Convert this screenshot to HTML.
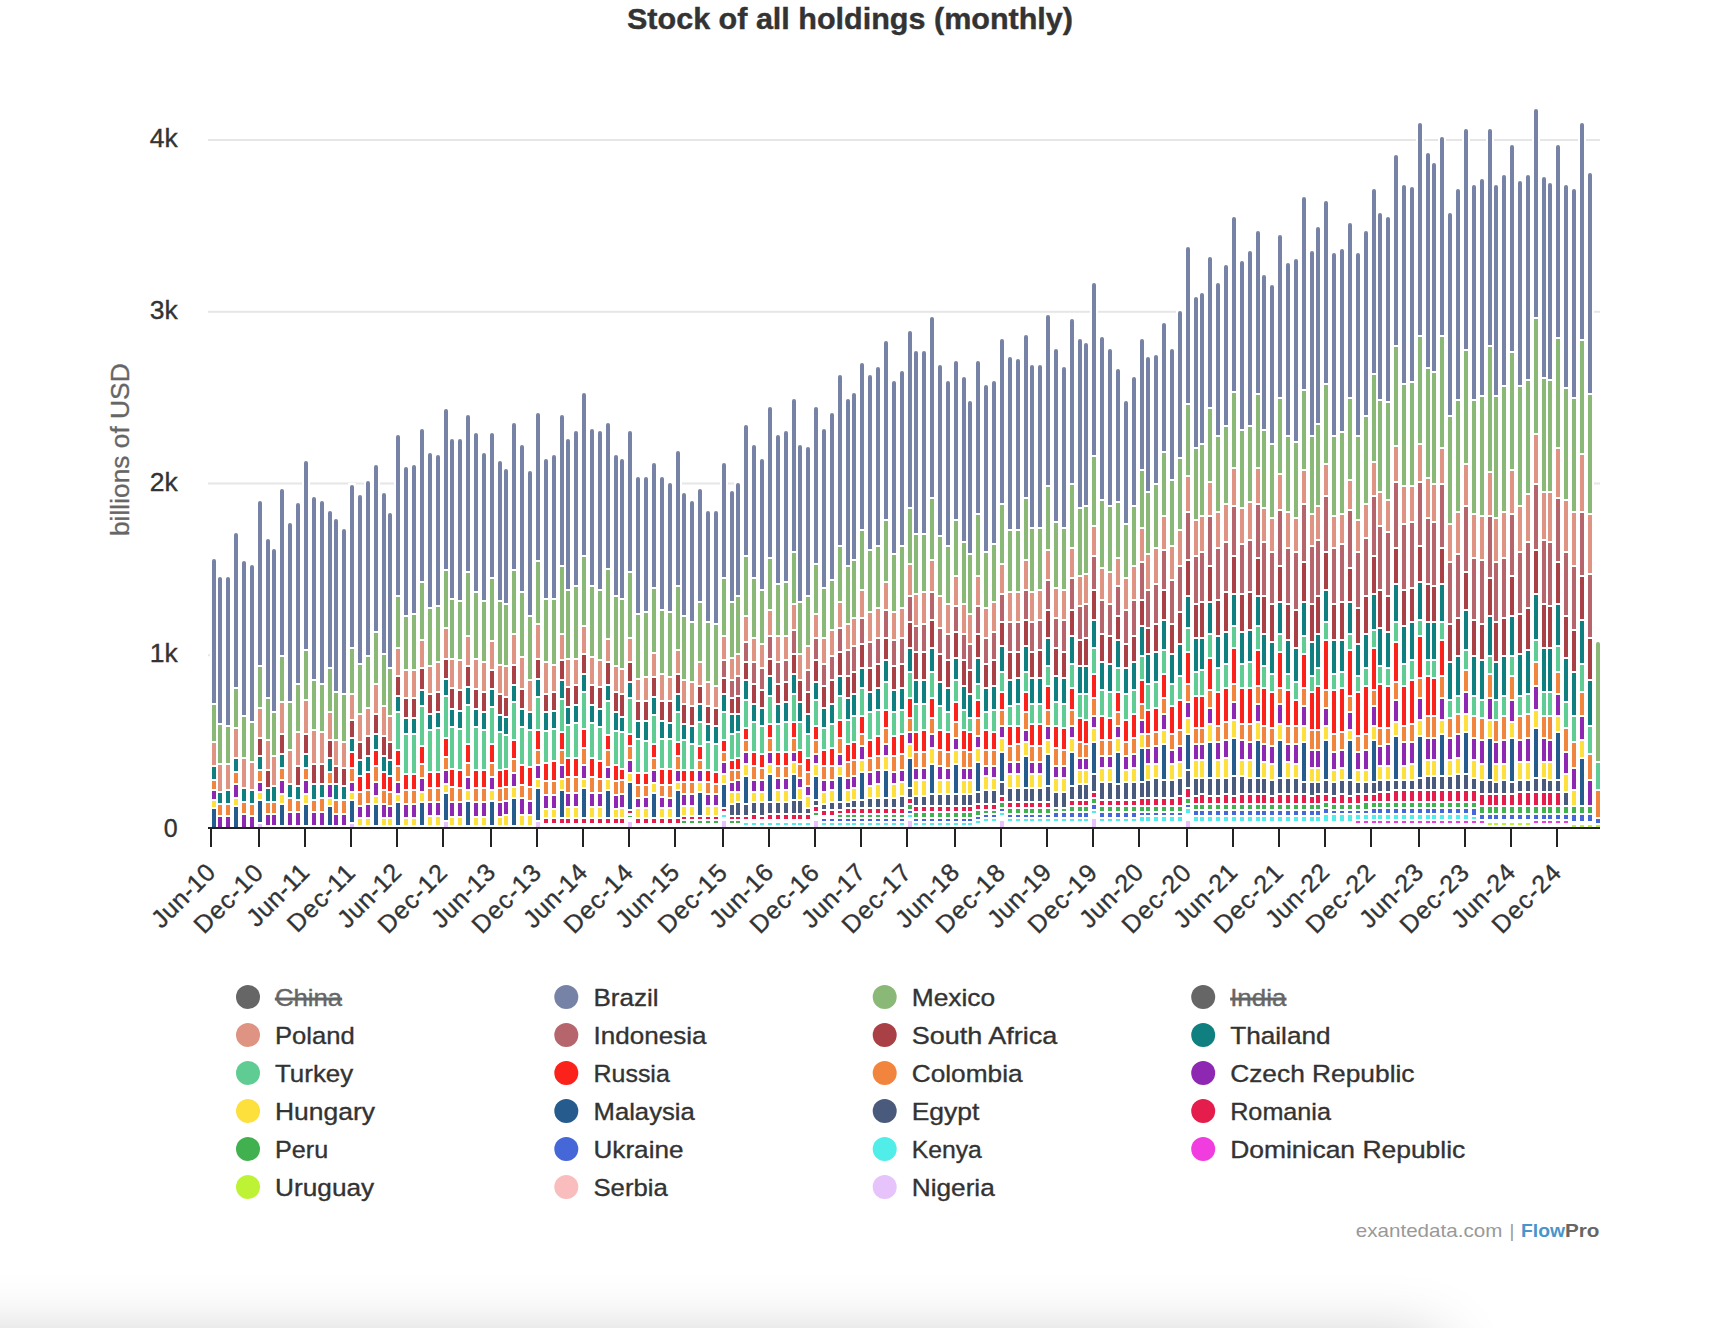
<!DOCTYPE html>
<html><head><meta charset="utf-8"><title>Stock of all holdings (monthly)</title>
<style>
html,body{margin:0;padding:0;background:#fff;}
body{width:1736px;height:1328px;position:relative;overflow:hidden;font-family:"Liberation Sans",Arial,sans-serif;}
.shadow{position:absolute;left:-300px;top:1340px;width:1740px;height:300px;background:#ddd;box-shadow:0 0 60px 0 rgba(0,0,0,.23);}
</style></head><body>
<div class="shadow"></div>
<svg width="1736" height="1328" viewBox="0 0 1736 1328" style="position:absolute;left:0;top:0;font-family:'Liberation Sans',Arial,sans-serif">
<rect x="208" y="654.2" width="1392" height="2" fill="#e6e6e6"/>
<rect x="208" y="482.5" width="1392" height="2" fill="#e6e6e6"/>
<rect x="208" y="310.8" width="1392" height="2" fill="#e6e6e6"/>
<rect x="208" y="139.0" width="1392" height="2" fill="#e6e6e6"/>
<rect x="210" y="557" width="8" height="270" fill="#fff"/>
<rect x="212" y="809" width="4" height="18" fill="#265c8d"/>
<rect x="212" y="801" width="4" height="6" fill="#fde03c"/>
<rect x="212" y="791" width="4" height="8" fill="#8e27b1"/>
<rect x="212" y="781" width="4" height="8" fill="#f2853d"/>
<rect x="212" y="767" width="4" height="12" fill="#0f7f80"/>
<rect x="212" y="743" width="4" height="22" fill="#de9383"/>
<rect x="212" y="705" width="4" height="36" fill="#8ab977"/>
<rect x="212" y="559" width="4" height="144" rx="2" fill="#7683a6"/><rect x="212" y="562" width="4" height="141" fill="#7683a6"/>
<rect x="216" y="575" width="8" height="252" fill="#fff"/>
<rect x="218" y="817" width="4" height="10" fill="#8e27b1"/>
<rect x="218" y="805" width="4" height="10" fill="#f2853d"/>
<rect x="218" y="793" width="4" height="10" fill="#0f7f80"/>
<rect x="218" y="765" width="4" height="26" fill="#de9383"/>
<rect x="218" y="725" width="4" height="38" fill="#8ab977"/>
<rect x="218" y="577" width="4" height="146" rx="2" fill="#7683a6"/><rect x="218" y="580" width="4" height="143" fill="#7683a6"/>
<rect x="224" y="575" width="8" height="252" fill="#fff"/>
<rect x="226" y="817" width="4" height="10" fill="#8e27b1"/>
<rect x="226" y="805" width="4" height="10" fill="#f2853d"/>
<rect x="226" y="791" width="4" height="12" fill="#0f7f80"/>
<rect x="226" y="765" width="4" height="24" fill="#de9383"/>
<rect x="226" y="727" width="4" height="36" fill="#8ab977"/>
<rect x="226" y="577" width="4" height="148" rx="2" fill="#7683a6"/><rect x="226" y="580" width="4" height="145" fill="#7683a6"/>
<rect x="232" y="531" width="8" height="296" fill="#fff"/>
<rect x="234" y="807" width="4" height="20" fill="#265c8d"/>
<rect x="234" y="799" width="4" height="6" fill="#fde03c"/>
<rect x="234" y="785" width="4" height="12" fill="#8e27b1"/>
<rect x="234" y="773" width="4" height="10" fill="#f2853d"/>
<rect x="234" y="759" width="4" height="12" fill="#0f7f80"/>
<rect x="234" y="729" width="4" height="28" fill="#de9383"/>
<rect x="234" y="689" width="4" height="38" fill="#8ab977"/>
<rect x="234" y="533" width="4" height="154" rx="2" fill="#7683a6"/><rect x="234" y="536" width="4" height="151" fill="#7683a6"/>
<rect x="240" y="559" width="8" height="268" fill="#fff"/>
<rect x="242" y="815" width="4" height="12" fill="#8e27b1"/>
<rect x="242" y="803" width="4" height="10" fill="#f2853d"/>
<rect x="242" y="789" width="4" height="12" fill="#0f7f80"/>
<rect x="242" y="759" width="4" height="28" fill="#de9383"/>
<rect x="242" y="717" width="4" height="40" fill="#8ab977"/>
<rect x="242" y="561" width="4" height="154" rx="2" fill="#7683a6"/><rect x="242" y="564" width="4" height="151" fill="#7683a6"/>
<rect x="248" y="563" width="8" height="264" fill="#fff"/>
<rect x="250" y="817" width="4" height="10" fill="#8e27b1"/>
<rect x="250" y="805" width="4" height="10" fill="#f2853d"/>
<rect x="250" y="791" width="4" height="12" fill="#0f7f80"/>
<rect x="250" y="763" width="4" height="26" fill="#de9383"/>
<rect x="250" y="723" width="4" height="38" fill="#8ab977"/>
<rect x="250" y="565" width="4" height="156" rx="2" fill="#7683a6"/><rect x="250" y="568" width="4" height="153" fill="#7683a6"/>
<rect x="256" y="499" width="8" height="328" fill="#fff"/>
<rect x="258" y="824" width="4" height="3" fill="#e6c3fb"/>
<rect x="258" y="801" width="4" height="21" fill="#265c8d"/>
<rect x="258" y="793" width="4" height="6" fill="#fde03c"/>
<rect x="258" y="783" width="4" height="8" fill="#8e27b1"/>
<rect x="258" y="771" width="4" height="10" fill="#f2853d"/>
<rect x="258" y="757" width="4" height="12" fill="#0f7f80"/>
<rect x="258" y="739" width="4" height="16" fill="#a94046"/>
<rect x="258" y="709" width="4" height="28" fill="#de9383"/>
<rect x="258" y="667" width="4" height="40" fill="#8ab977"/>
<rect x="258" y="501" width="4" height="164" rx="2" fill="#7683a6"/><rect x="258" y="504" width="4" height="161" fill="#7683a6"/>
<rect x="264" y="537" width="8" height="290" fill="#fff"/>
<rect x="266" y="827" width="4" height="1" fill="#ffffff"/>
<rect x="266" y="815" width="4" height="10" fill="#8e27b1"/>
<rect x="266" y="803" width="4" height="10" fill="#f2853d"/>
<rect x="266" y="789" width="4" height="12" fill="#0f7f80"/>
<rect x="266" y="771" width="4" height="16" fill="#a94046"/>
<rect x="266" y="741" width="4" height="28" fill="#de9383"/>
<rect x="266" y="699" width="4" height="40" fill="#8ab977"/>
<rect x="266" y="539" width="4" height="158" rx="2" fill="#7683a6"/><rect x="266" y="542" width="4" height="155" fill="#7683a6"/>
<rect x="270" y="547" width="8" height="280" fill="#fff"/>
<rect x="272" y="827" width="4" height="1" fill="#ffffff"/>
<rect x="272" y="815" width="4" height="10" fill="#8e27b1"/>
<rect x="272" y="803" width="4" height="10" fill="#f2853d"/>
<rect x="272" y="787" width="4" height="14" fill="#0f7f80"/>
<rect x="272" y="757" width="4" height="28" fill="#de9383"/>
<rect x="272" y="713" width="4" height="42" fill="#8ab977"/>
<rect x="272" y="549" width="4" height="162" rx="2" fill="#7683a6"/><rect x="272" y="552" width="4" height="159" fill="#7683a6"/>
<rect x="278" y="487" width="8" height="340" fill="#fff"/>
<rect x="280" y="827" width="4" height="1" fill="#ffffff"/>
<rect x="280" y="805" width="4" height="20" fill="#265c8d"/>
<rect x="280" y="795" width="4" height="8" fill="#fde03c"/>
<rect x="280" y="781" width="4" height="12" fill="#8e27b1"/>
<rect x="280" y="769" width="4" height="10" fill="#f2853d"/>
<rect x="280" y="755" width="4" height="12" fill="#0f7f80"/>
<rect x="280" y="735" width="4" height="18" fill="#a94046"/>
<rect x="280" y="703" width="4" height="30" fill="#de9383"/>
<rect x="280" y="657" width="4" height="44" fill="#8ab977"/>
<rect x="280" y="489" width="4" height="166" rx="2" fill="#7683a6"/><rect x="280" y="492" width="4" height="163" fill="#7683a6"/>
<rect x="286" y="521" width="8" height="306" fill="#fff"/>
<rect x="288" y="827" width="4" height="1" fill="#ffffff"/>
<rect x="288" y="813" width="4" height="12" fill="#8e27b1"/>
<rect x="288" y="799" width="4" height="12" fill="#f2853d"/>
<rect x="288" y="785" width="4" height="12" fill="#0f7f80"/>
<rect x="288" y="751" width="4" height="32" fill="#de9383"/>
<rect x="288" y="703" width="4" height="46" fill="#8ab977"/>
<rect x="288" y="523" width="4" height="178" rx="2" fill="#7683a6"/><rect x="288" y="526" width="4" height="175" fill="#7683a6"/>
<rect x="294" y="501" width="8" height="326" fill="#fff"/>
<rect x="296" y="827" width="4" height="1" fill="#ffffff"/>
<rect x="296" y="813" width="4" height="12" fill="#8e27b1"/>
<rect x="296" y="801" width="4" height="10" fill="#f2853d"/>
<rect x="296" y="787" width="4" height="12" fill="#0f7f80"/>
<rect x="296" y="767" width="4" height="18" fill="#a94046"/>
<rect x="296" y="733" width="4" height="32" fill="#de9383"/>
<rect x="296" y="685" width="4" height="46" fill="#8ab977"/>
<rect x="296" y="503" width="4" height="180" rx="2" fill="#7683a6"/><rect x="296" y="506" width="4" height="177" fill="#7683a6"/>
<rect x="302" y="459" width="8" height="368" fill="#fff"/>
<rect x="304" y="827" width="4" height="1" fill="#ffffff"/>
<rect x="304" y="805" width="4" height="20" fill="#265c8d"/>
<rect x="304" y="795" width="4" height="8" fill="#fde03c"/>
<rect x="304" y="781" width="4" height="12" fill="#8e27b1"/>
<rect x="304" y="769" width="4" height="10" fill="#f2853d"/>
<rect x="304" y="755" width="4" height="12" fill="#0f7f80"/>
<rect x="304" y="735" width="4" height="18" fill="#a94046"/>
<rect x="304" y="701" width="4" height="32" fill="#de9383"/>
<rect x="304" y="651" width="4" height="48" fill="#8ab977"/>
<rect x="304" y="461" width="4" height="188" rx="2" fill="#7683a6"/><rect x="304" y="464" width="4" height="185" fill="#7683a6"/>
<rect x="310" y="495" width="8" height="332" fill="#fff"/>
<rect x="312" y="827" width="4" height="1" fill="#ffffff"/>
<rect x="312" y="813" width="4" height="12" fill="#8e27b1"/>
<rect x="312" y="801" width="4" height="10" fill="#f2853d"/>
<rect x="312" y="785" width="4" height="14" fill="#0f7f80"/>
<rect x="312" y="765" width="4" height="18" fill="#a94046"/>
<rect x="312" y="731" width="4" height="32" fill="#de9383"/>
<rect x="312" y="681" width="4" height="48" fill="#8ab977"/>
<rect x="312" y="497" width="4" height="182" rx="2" fill="#7683a6"/><rect x="312" y="500" width="4" height="179" fill="#7683a6"/>
<rect x="318" y="499" width="8" height="328" fill="#fff"/>
<rect x="320" y="827" width="4" height="1" fill="#ffffff"/>
<rect x="320" y="813" width="4" height="12" fill="#8e27b1"/>
<rect x="320" y="799" width="4" height="12" fill="#f2853d"/>
<rect x="320" y="785" width="4" height="12" fill="#0f7f80"/>
<rect x="320" y="765" width="4" height="18" fill="#a94046"/>
<rect x="320" y="733" width="4" height="30" fill="#de9383"/>
<rect x="320" y="685" width="4" height="46" fill="#8ab977"/>
<rect x="320" y="501" width="4" height="182" rx="2" fill="#7683a6"/><rect x="320" y="504" width="4" height="179" fill="#7683a6"/>
<rect x="326" y="509" width="8" height="318" fill="#fff"/>
<rect x="328" y="827" width="4" height="1" fill="#ffffff"/>
<rect x="328" y="807" width="4" height="18" fill="#265c8d"/>
<rect x="328" y="799" width="4" height="6" fill="#fde03c"/>
<rect x="328" y="785" width="4" height="12" fill="#8e27b1"/>
<rect x="328" y="773" width="4" height="10" fill="#f2853d"/>
<rect x="328" y="759" width="4" height="12" fill="#0f7f80"/>
<rect x="328" y="741" width="4" height="16" fill="#a94046"/>
<rect x="328" y="713" width="4" height="26" fill="#de9383"/>
<rect x="328" y="669" width="4" height="42" fill="#8ab977"/>
<rect x="328" y="511" width="4" height="156" rx="2" fill="#7683a6"/><rect x="328" y="514" width="4" height="153" fill="#7683a6"/>
<rect x="332" y="517" width="8" height="310" fill="#fff"/>
<rect x="334" y="827" width="4" height="1" fill="#ffffff"/>
<rect x="334" y="815" width="4" height="10" fill="#8e27b1"/>
<rect x="334" y="801" width="4" height="12" fill="#f2853d"/>
<rect x="334" y="785" width="4" height="14" fill="#0f7f80"/>
<rect x="334" y="767" width="4" height="16" fill="#a94046"/>
<rect x="334" y="741" width="4" height="24" fill="#de9383"/>
<rect x="334" y="693" width="4" height="46" fill="#8ab977"/>
<rect x="334" y="519" width="4" height="172" rx="2" fill="#7683a6"/><rect x="334" y="522" width="4" height="169" fill="#7683a6"/>
<rect x="340" y="527" width="8" height="300" fill="#fff"/>
<rect x="342" y="827" width="4" height="1" fill="#ffffff"/>
<rect x="342" y="815" width="4" height="10" fill="#8e27b1"/>
<rect x="342" y="801" width="4" height="12" fill="#f2853d"/>
<rect x="342" y="787" width="4" height="12" fill="#0f7f80"/>
<rect x="342" y="769" width="4" height="16" fill="#a94046"/>
<rect x="342" y="743" width="4" height="24" fill="#de9383"/>
<rect x="342" y="695" width="4" height="46" fill="#8ab977"/>
<rect x="342" y="529" width="4" height="164" rx="2" fill="#7683a6"/><rect x="342" y="532" width="4" height="161" fill="#7683a6"/>
<rect x="348" y="483" width="8" height="344" fill="#fff"/>
<rect x="350" y="824" width="4" height="3" fill="#e6c3fb"/>
<rect x="350" y="801" width="4" height="21" fill="#265c8d"/>
<rect x="350" y="793" width="4" height="6" fill="#fde03c"/>
<rect x="350" y="783" width="4" height="8" fill="#8e27b1"/>
<rect x="350" y="769" width="4" height="12" fill="#f2853d"/>
<rect x="350" y="753" width="4" height="14" fill="#fb221b"/>
<rect x="350" y="739" width="4" height="12" fill="#0f7f80"/>
<rect x="350" y="721" width="4" height="16" fill="#a94046"/>
<rect x="350" y="695" width="4" height="24" fill="#de9383"/>
<rect x="350" y="649" width="4" height="44" fill="#8ab977"/>
<rect x="350" y="485" width="4" height="162" rx="2" fill="#7683a6"/><rect x="350" y="488" width="4" height="159" fill="#7683a6"/>
<rect x="356" y="493" width="8" height="334" fill="#fff"/>
<rect x="358" y="827" width="4" height="1" fill="#ffffff"/>
<rect x="358" y="819" width="4" height="6" fill="#fde03c"/>
<rect x="358" y="807" width="4" height="10" fill="#8e27b1"/>
<rect x="358" y="793" width="4" height="12" fill="#f2853d"/>
<rect x="358" y="777" width="4" height="14" fill="#fb221b"/>
<rect x="358" y="761" width="4" height="14" fill="#0f7f80"/>
<rect x="358" y="743" width="4" height="16" fill="#a94046"/>
<rect x="358" y="715" width="4" height="26" fill="#de9383"/>
<rect x="358" y="665" width="4" height="48" fill="#8ab977"/>
<rect x="358" y="495" width="4" height="168" rx="2" fill="#7683a6"/><rect x="358" y="498" width="4" height="165" fill="#7683a6"/>
<rect x="364" y="479" width="8" height="348" fill="#fff"/>
<rect x="366" y="827" width="4" height="1" fill="#ffffff"/>
<rect x="366" y="819" width="4" height="6" fill="#fde03c"/>
<rect x="366" y="805" width="4" height="12" fill="#8e27b1"/>
<rect x="366" y="791" width="4" height="12" fill="#f2853d"/>
<rect x="366" y="773" width="4" height="16" fill="#fb221b"/>
<rect x="366" y="757" width="4" height="14" fill="#0f7f80"/>
<rect x="366" y="737" width="4" height="18" fill="#a94046"/>
<rect x="366" y="709" width="4" height="26" fill="#de9383"/>
<rect x="366" y="657" width="4" height="50" fill="#8ab977"/>
<rect x="366" y="481" width="4" height="174" rx="2" fill="#7683a6"/><rect x="366" y="484" width="4" height="171" fill="#7683a6"/>
<rect x="372" y="463" width="8" height="364" fill="#fff"/>
<rect x="374" y="827" width="4" height="1" fill="#ffffff"/>
<rect x="374" y="805" width="4" height="20" fill="#265c8d"/>
<rect x="374" y="797" width="4" height="6" fill="#fde03c"/>
<rect x="374" y="783" width="4" height="12" fill="#8e27b1"/>
<rect x="374" y="767" width="4" height="14" fill="#f2853d"/>
<rect x="374" y="751" width="4" height="14" fill="#fb221b"/>
<rect x="374" y="735" width="4" height="14" fill="#0f7f80"/>
<rect x="374" y="715" width="4" height="18" fill="#a94046"/>
<rect x="374" y="685" width="4" height="28" fill="#de9383"/>
<rect x="374" y="633" width="4" height="50" fill="#8ab977"/>
<rect x="374" y="465" width="4" height="166" rx="2" fill="#7683a6"/><rect x="374" y="468" width="4" height="163" fill="#7683a6"/>
<rect x="380" y="491" width="8" height="336" fill="#fff"/>
<rect x="382" y="827" width="4" height="1" fill="#ffffff"/>
<rect x="382" y="819" width="4" height="6" fill="#fde03c"/>
<rect x="382" y="805" width="4" height="12" fill="#8e27b1"/>
<rect x="382" y="791" width="4" height="12" fill="#f2853d"/>
<rect x="382" y="773" width="4" height="16" fill="#fb221b"/>
<rect x="382" y="757" width="4" height="14" fill="#0f7f80"/>
<rect x="382" y="737" width="4" height="18" fill="#a94046"/>
<rect x="382" y="707" width="4" height="28" fill="#de9383"/>
<rect x="382" y="655" width="4" height="50" fill="#8ab977"/>
<rect x="382" y="493" width="4" height="160" rx="2" fill="#7683a6"/><rect x="382" y="496" width="4" height="157" fill="#7683a6"/>
<rect x="386" y="511" width="8" height="316" fill="#fff"/>
<rect x="388" y="827" width="4" height="1" fill="#ffffff"/>
<rect x="388" y="819" width="4" height="6" fill="#fde03c"/>
<rect x="388" y="807" width="4" height="10" fill="#8e27b1"/>
<rect x="388" y="793" width="4" height="12" fill="#f2853d"/>
<rect x="388" y="777" width="4" height="14" fill="#fb221b"/>
<rect x="388" y="761" width="4" height="14" fill="#0f7f80"/>
<rect x="388" y="743" width="4" height="16" fill="#a94046"/>
<rect x="388" y="717" width="4" height="24" fill="#de9383"/>
<rect x="388" y="669" width="4" height="46" fill="#8ab977"/>
<rect x="388" y="513" width="4" height="154" rx="2" fill="#7683a6"/><rect x="388" y="516" width="4" height="151" fill="#7683a6"/>
<rect x="394" y="433" width="8" height="394" fill="#fff"/>
<rect x="396" y="827" width="4" height="1" fill="#ffffff"/>
<rect x="396" y="803" width="4" height="22" fill="#265c8d"/>
<rect x="396" y="795" width="4" height="6" fill="#fde03c"/>
<rect x="396" y="783" width="4" height="10" fill="#8e27b1"/>
<rect x="396" y="767" width="4" height="14" fill="#f2853d"/>
<rect x="396" y="751" width="4" height="14" fill="#fb221b"/>
<rect x="396" y="713" width="4" height="36" fill="#5fcd93"/>
<rect x="396" y="697" width="4" height="14" fill="#0f7f80"/>
<rect x="396" y="677" width="4" height="18" fill="#a94046"/>
<rect x="396" y="649" width="4" height="26" fill="#de9383"/>
<rect x="396" y="597" width="4" height="50" fill="#8ab977"/>
<rect x="396" y="435" width="4" height="160" rx="2" fill="#7683a6"/><rect x="396" y="438" width="4" height="157" fill="#7683a6"/>
<rect x="402" y="465" width="8" height="362" fill="#fff"/>
<rect x="404" y="827" width="4" height="1" fill="#ffffff"/>
<rect x="404" y="819" width="4" height="6" fill="#fde03c"/>
<rect x="404" y="805" width="4" height="12" fill="#8e27b1"/>
<rect x="404" y="791" width="4" height="12" fill="#f2853d"/>
<rect x="404" y="775" width="4" height="14" fill="#fb221b"/>
<rect x="404" y="735" width="4" height="38" fill="#5fcd93"/>
<rect x="404" y="719" width="4" height="14" fill="#0f7f80"/>
<rect x="404" y="699" width="4" height="18" fill="#a94046"/>
<rect x="404" y="671" width="4" height="26" fill="#de9383"/>
<rect x="404" y="617" width="4" height="52" fill="#8ab977"/>
<rect x="404" y="467" width="4" height="148" rx="2" fill="#7683a6"/><rect x="404" y="470" width="4" height="145" fill="#7683a6"/>
<rect x="410" y="463" width="8" height="364" fill="#fff"/>
<rect x="412" y="827" width="4" height="1" fill="#ffffff"/>
<rect x="412" y="819" width="4" height="6" fill="#fde03c"/>
<rect x="412" y="805" width="4" height="12" fill="#8e27b1"/>
<rect x="412" y="791" width="4" height="12" fill="#f2853d"/>
<rect x="412" y="775" width="4" height="14" fill="#fb221b"/>
<rect x="412" y="735" width="4" height="38" fill="#5fcd93"/>
<rect x="412" y="719" width="4" height="14" fill="#0f7f80"/>
<rect x="412" y="699" width="4" height="18" fill="#a94046"/>
<rect x="412" y="671" width="4" height="26" fill="#de9383"/>
<rect x="412" y="615" width="4" height="54" fill="#8ab977"/>
<rect x="412" y="465" width="4" height="148" rx="2" fill="#7683a6"/><rect x="412" y="468" width="4" height="145" fill="#7683a6"/>
<rect x="418" y="427" width="8" height="400" fill="#fff"/>
<rect x="420" y="827" width="4" height="1" fill="#ffffff"/>
<rect x="420" y="803" width="4" height="22" fill="#265c8d"/>
<rect x="420" y="793" width="4" height="8" fill="#fde03c"/>
<rect x="420" y="779" width="4" height="12" fill="#8e27b1"/>
<rect x="420" y="765" width="4" height="12" fill="#f2853d"/>
<rect x="420" y="747" width="4" height="16" fill="#fb221b"/>
<rect x="420" y="707" width="4" height="38" fill="#5fcd93"/>
<rect x="420" y="691" width="4" height="14" fill="#0f7f80"/>
<rect x="420" y="669" width="4" height="20" fill="#a94046"/>
<rect x="420" y="641" width="4" height="26" fill="#de9383"/>
<rect x="420" y="583" width="4" height="56" fill="#8ab977"/>
<rect x="420" y="429" width="4" height="152" rx="2" fill="#7683a6"/><rect x="420" y="432" width="4" height="149" fill="#7683a6"/>
<rect x="426" y="451" width="8" height="376" fill="#fff"/>
<rect x="428" y="827" width="4" height="1" fill="#ffffff"/>
<rect x="428" y="817" width="4" height="8" fill="#fde03c"/>
<rect x="428" y="803" width="4" height="12" fill="#8e27b1"/>
<rect x="428" y="789" width="4" height="12" fill="#f2853d"/>
<rect x="428" y="773" width="4" height="14" fill="#fb221b"/>
<rect x="428" y="731" width="4" height="40" fill="#5fcd93"/>
<rect x="428" y="715" width="4" height="14" fill="#0f7f80"/>
<rect x="428" y="695" width="4" height="18" fill="#a94046"/>
<rect x="428" y="667" width="4" height="26" fill="#de9383"/>
<rect x="428" y="609" width="4" height="56" fill="#8ab977"/>
<rect x="428" y="453" width="4" height="154" rx="2" fill="#7683a6"/><rect x="428" y="456" width="4" height="151" fill="#7683a6"/>
<rect x="434" y="453" width="8" height="374" fill="#fff"/>
<rect x="436" y="827" width="4" height="1" fill="#ffffff"/>
<rect x="436" y="817" width="4" height="8" fill="#fde03c"/>
<rect x="436" y="803" width="4" height="12" fill="#8e27b1"/>
<rect x="436" y="789" width="4" height="12" fill="#f2853d"/>
<rect x="436" y="773" width="4" height="14" fill="#fb221b"/>
<rect x="436" y="729" width="4" height="42" fill="#5fcd93"/>
<rect x="436" y="713" width="4" height="14" fill="#0f7f80"/>
<rect x="436" y="693" width="4" height="18" fill="#a94046"/>
<rect x="436" y="663" width="4" height="28" fill="#de9383"/>
<rect x="436" y="607" width="4" height="54" fill="#8ab977"/>
<rect x="436" y="455" width="4" height="150" rx="2" fill="#7683a6"/><rect x="436" y="458" width="4" height="147" fill="#7683a6"/>
<rect x="442" y="407" width="8" height="420" fill="#fff"/>
<rect x="444" y="822" width="4" height="5" fill="#e6c3fb"/>
<rect x="444" y="794" width="4" height="26" fill="#265c8d"/>
<rect x="444" y="785" width="4" height="7" fill="#fde03c"/>
<rect x="444" y="771" width="4" height="12" fill="#8e27b1"/>
<rect x="444" y="758" width="4" height="11" fill="#f2853d"/>
<rect x="444" y="739" width="4" height="17" fill="#fb221b"/>
<rect x="444" y="697" width="4" height="40" fill="#5fcd93"/>
<rect x="444" y="680" width="4" height="15" fill="#0f7f80"/>
<rect x="444" y="660" width="4" height="18" fill="#a94046"/>
<rect x="444" y="629" width="4" height="29" fill="#de9383"/>
<rect x="444" y="571" width="4" height="56" fill="#8ab977"/>
<rect x="444" y="409" width="4" height="160" rx="2" fill="#7683a6"/><rect x="444" y="412" width="4" height="157" fill="#7683a6"/>
<rect x="448" y="437" width="8" height="390" fill="#fff"/>
<rect x="450" y="827" width="4" height="1" fill="#ffffff"/>
<rect x="450" y="818" width="4" height="7" fill="#fde03c"/>
<rect x="450" y="803" width="4" height="13" fill="#8e27b1"/>
<rect x="450" y="788" width="4" height="13" fill="#f2853d"/>
<rect x="450" y="770" width="4" height="16" fill="#fb221b"/>
<rect x="450" y="728" width="4" height="40" fill="#5fcd93"/>
<rect x="450" y="710" width="4" height="16" fill="#0f7f80"/>
<rect x="450" y="689" width="4" height="19" fill="#a94046"/>
<rect x="450" y="660" width="4" height="27" fill="#de9383"/>
<rect x="450" y="600" width="4" height="58" fill="#8ab977"/>
<rect x="450" y="439" width="4" height="159" rx="2" fill="#7683a6"/><rect x="450" y="442" width="4" height="156" fill="#7683a6"/>
<rect x="456" y="437" width="8" height="390" fill="#fff"/>
<rect x="458" y="827" width="4" height="1" fill="#ffffff"/>
<rect x="458" y="818" width="4" height="7" fill="#fde03c"/>
<rect x="458" y="803" width="4" height="13" fill="#8e27b1"/>
<rect x="458" y="789" width="4" height="12" fill="#f2853d"/>
<rect x="458" y="771" width="4" height="16" fill="#fb221b"/>
<rect x="458" y="730" width="4" height="39" fill="#5fcd93"/>
<rect x="458" y="712" width="4" height="16" fill="#0f7f80"/>
<rect x="458" y="691" width="4" height="19" fill="#a94046"/>
<rect x="458" y="661" width="4" height="28" fill="#de9383"/>
<rect x="458" y="602" width="4" height="57" fill="#8ab977"/>
<rect x="458" y="439" width="4" height="161" rx="2" fill="#7683a6"/><rect x="458" y="442" width="4" height="158" fill="#7683a6"/>
<rect x="464" y="413" width="8" height="414" fill="#fff"/>
<rect x="466" y="827" width="4" height="1" fill="#ffffff"/>
<rect x="466" y="802" width="4" height="23" fill="#265c8d"/>
<rect x="466" y="791" width="4" height="9" fill="#fde03c"/>
<rect x="466" y="778" width="4" height="11" fill="#8e27b1"/>
<rect x="466" y="764" width="4" height="12" fill="#f2853d"/>
<rect x="466" y="745" width="4" height="17" fill="#fb221b"/>
<rect x="466" y="706" width="4" height="37" fill="#5fcd93"/>
<rect x="466" y="688" width="4" height="16" fill="#0f7f80"/>
<rect x="466" y="667" width="4" height="19" fill="#a94046"/>
<rect x="466" y="637" width="4" height="28" fill="#de9383"/>
<rect x="466" y="573" width="4" height="62" fill="#8ab977"/>
<rect x="466" y="415" width="4" height="156" rx="2" fill="#7683a6"/><rect x="466" y="418" width="4" height="153" fill="#7683a6"/>
<rect x="472" y="431" width="8" height="396" fill="#fff"/>
<rect x="474" y="827" width="4" height="1" fill="#ffffff"/>
<rect x="474" y="818" width="4" height="7" fill="#fde03c"/>
<rect x="474" y="803" width="4" height="13" fill="#8e27b1"/>
<rect x="474" y="789" width="4" height="12" fill="#f2853d"/>
<rect x="474" y="771" width="4" height="16" fill="#fb221b"/>
<rect x="474" y="728" width="4" height="41" fill="#5fcd93"/>
<rect x="474" y="710" width="4" height="16" fill="#0f7f80"/>
<rect x="474" y="690" width="4" height="18" fill="#a94046"/>
<rect x="474" y="660" width="4" height="28" fill="#de9383"/>
<rect x="474" y="593" width="4" height="65" fill="#8ab977"/>
<rect x="474" y="433" width="4" height="158" rx="2" fill="#7683a6"/><rect x="474" y="436" width="4" height="155" fill="#7683a6"/>
<rect x="480" y="451" width="8" height="376" fill="#fff"/>
<rect x="482" y="827" width="4" height="1" fill="#ffffff"/>
<rect x="482" y="818" width="4" height="7" fill="#fde03c"/>
<rect x="482" y="803" width="4" height="13" fill="#8e27b1"/>
<rect x="482" y="789" width="4" height="12" fill="#f2853d"/>
<rect x="482" y="771" width="4" height="16" fill="#fb221b"/>
<rect x="482" y="731" width="4" height="38" fill="#5fcd93"/>
<rect x="482" y="713" width="4" height="16" fill="#0f7f80"/>
<rect x="482" y="693" width="4" height="18" fill="#a94046"/>
<rect x="482" y="663" width="4" height="28" fill="#de9383"/>
<rect x="482" y="602" width="4" height="59" fill="#8ab977"/>
<rect x="482" y="453" width="4" height="147" rx="2" fill="#7683a6"/><rect x="482" y="456" width="4" height="144" fill="#7683a6"/>
<rect x="488" y="431" width="8" height="396" fill="#fff"/>
<rect x="490" y="827" width="4" height="1" fill="#ffffff"/>
<rect x="490" y="802" width="4" height="23" fill="#265c8d"/>
<rect x="490" y="791" width="4" height="9" fill="#fde03c"/>
<rect x="490" y="778" width="4" height="11" fill="#8e27b1"/>
<rect x="490" y="764" width="4" height="12" fill="#f2853d"/>
<rect x="490" y="745" width="4" height="17" fill="#fb221b"/>
<rect x="490" y="708" width="4" height="35" fill="#5fcd93"/>
<rect x="490" y="690" width="4" height="16" fill="#0f7f80"/>
<rect x="490" y="671" width="4" height="17" fill="#a94046"/>
<rect x="490" y="642" width="4" height="27" fill="#de9383"/>
<rect x="490" y="579" width="4" height="61" fill="#8ab977"/>
<rect x="490" y="433" width="4" height="144" rx="2" fill="#7683a6"/><rect x="490" y="436" width="4" height="141" fill="#7683a6"/>
<rect x="496" y="459" width="8" height="368" fill="#fff"/>
<rect x="498" y="827" width="4" height="1" fill="#ffffff"/>
<rect x="498" y="818" width="4" height="7" fill="#fde03c"/>
<rect x="498" y="803" width="4" height="13" fill="#8e27b1"/>
<rect x="498" y="789" width="4" height="12" fill="#f2853d"/>
<rect x="498" y="771" width="4" height="16" fill="#fb221b"/>
<rect x="498" y="733" width="4" height="36" fill="#5fcd93"/>
<rect x="498" y="716" width="4" height="15" fill="#0f7f80"/>
<rect x="498" y="695" width="4" height="19" fill="#a94046"/>
<rect x="498" y="666" width="4" height="27" fill="#de9383"/>
<rect x="498" y="602" width="4" height="62" fill="#8ab977"/>
<rect x="498" y="461" width="4" height="139" rx="2" fill="#7683a6"/><rect x="498" y="464" width="4" height="136" fill="#7683a6"/>
<rect x="502" y="467" width="8" height="360" fill="#fff"/>
<rect x="504" y="827" width="4" height="1" fill="#ffffff"/>
<rect x="504" y="816" width="4" height="9" fill="#fde03c"/>
<rect x="504" y="802" width="4" height="12" fill="#8e27b1"/>
<rect x="504" y="788" width="4" height="12" fill="#f2853d"/>
<rect x="504" y="770" width="4" height="16" fill="#fb221b"/>
<rect x="504" y="736" width="4" height="32" fill="#5fcd93"/>
<rect x="504" y="718" width="4" height="16" fill="#0f7f80"/>
<rect x="504" y="698" width="4" height="18" fill="#a94046"/>
<rect x="504" y="667" width="4" height="29" fill="#de9383"/>
<rect x="504" y="605" width="4" height="60" fill="#8ab977"/>
<rect x="504" y="469" width="4" height="134" rx="2" fill="#7683a6"/><rect x="504" y="472" width="4" height="131" fill="#7683a6"/>
<rect x="510" y="421" width="8" height="406" fill="#fff"/>
<rect x="512" y="827" width="4" height="1" fill="#ffffff"/>
<rect x="512" y="799" width="4" height="26" fill="#265c8d"/>
<rect x="512" y="788" width="4" height="9" fill="#fde03c"/>
<rect x="512" y="774" width="4" height="12" fill="#8e27b1"/>
<rect x="512" y="760" width="4" height="12" fill="#f2853d"/>
<rect x="512" y="741" width="4" height="17" fill="#fb221b"/>
<rect x="512" y="703" width="4" height="36" fill="#5fcd93"/>
<rect x="512" y="686" width="4" height="15" fill="#0f7f80"/>
<rect x="512" y="666" width="4" height="18" fill="#a94046"/>
<rect x="512" y="635" width="4" height="29" fill="#de9383"/>
<rect x="512" y="571" width="4" height="62" fill="#8ab977"/>
<rect x="512" y="423" width="4" height="146" rx="2" fill="#7683a6"/><rect x="512" y="426" width="4" height="143" fill="#7683a6"/>
<rect x="518" y="443" width="8" height="384" fill="#fff"/>
<rect x="520" y="827" width="4" height="1" fill="#ffffff"/>
<rect x="520" y="816" width="4" height="9" fill="#fde03c"/>
<rect x="520" y="799" width="4" height="15" fill="#8e27b1"/>
<rect x="520" y="786" width="4" height="11" fill="#f2853d"/>
<rect x="520" y="766" width="4" height="18" fill="#fb221b"/>
<rect x="520" y="728" width="4" height="36" fill="#5fcd93"/>
<rect x="520" y="710" width="4" height="16" fill="#0f7f80"/>
<rect x="520" y="690" width="4" height="18" fill="#a94046"/>
<rect x="520" y="658" width="4" height="30" fill="#de9383"/>
<rect x="520" y="593" width="4" height="63" fill="#8ab977"/>
<rect x="520" y="445" width="4" height="146" rx="2" fill="#7683a6"/><rect x="520" y="448" width="4" height="143" fill="#7683a6"/>
<rect x="526" y="469" width="8" height="358" fill="#fff"/>
<rect x="528" y="827" width="4" height="1" fill="#ffffff"/>
<rect x="528" y="816" width="4" height="9" fill="#fde03c"/>
<rect x="528" y="802" width="4" height="12" fill="#8e27b1"/>
<rect x="528" y="788" width="4" height="12" fill="#f2853d"/>
<rect x="528" y="768" width="4" height="18" fill="#fb221b"/>
<rect x="528" y="731" width="4" height="35" fill="#5fcd93"/>
<rect x="528" y="713" width="4" height="16" fill="#0f7f80"/>
<rect x="528" y="681" width="4" height="30" fill="#de9383"/>
<rect x="528" y="617" width="4" height="62" fill="#8ab977"/>
<rect x="528" y="471" width="4" height="144" rx="2" fill="#7683a6"/><rect x="528" y="474" width="4" height="141" fill="#7683a6"/>
<rect x="534" y="411" width="8" height="416" fill="#fff"/>
<rect x="536" y="822" width="4" height="5" fill="#e6c3fb"/>
<rect x="536" y="789" width="4" height="31" fill="#265c8d"/>
<rect x="536" y="780" width="4" height="7" fill="#fde03c"/>
<rect x="536" y="766" width="4" height="12" fill="#8e27b1"/>
<rect x="536" y="751" width="4" height="13" fill="#f2853d"/>
<rect x="536" y="731" width="4" height="18" fill="#fb221b"/>
<rect x="536" y="698" width="4" height="31" fill="#5fcd93"/>
<rect x="536" y="680" width="4" height="16" fill="#0f7f80"/>
<rect x="536" y="660" width="4" height="18" fill="#a94046"/>
<rect x="536" y="625" width="4" height="33" fill="#de9383"/>
<rect x="536" y="562" width="4" height="61" fill="#8ab977"/>
<rect x="536" y="413" width="4" height="147" rx="2" fill="#7683a6"/><rect x="536" y="416" width="4" height="144" fill="#7683a6"/>
<rect x="542" y="457" width="8" height="370" fill="#fff"/>
<rect x="544" y="825" width="4" height="2" fill="#ffffff"/>
<rect x="544" y="819" width="4" height="4" fill="#e51d4c"/>
<rect x="544" y="810" width="4" height="7" fill="#fde03c"/>
<rect x="544" y="796" width="4" height="12" fill="#8e27b1"/>
<rect x="544" y="782" width="4" height="12" fill="#f2853d"/>
<rect x="544" y="764" width="4" height="16" fill="#fb221b"/>
<rect x="544" y="732" width="4" height="30" fill="#5fcd93"/>
<rect x="544" y="713" width="4" height="17" fill="#0f7f80"/>
<rect x="544" y="695" width="4" height="16" fill="#a94046"/>
<rect x="544" y="663" width="4" height="30" fill="#de9383"/>
<rect x="544" y="600" width="4" height="61" fill="#8ab977"/>
<rect x="544" y="459" width="4" height="139" rx="2" fill="#7683a6"/><rect x="544" y="462" width="4" height="136" fill="#7683a6"/>
<rect x="550" y="453" width="8" height="374" fill="#fff"/>
<rect x="552" y="825" width="4" height="2" fill="#ffffff"/>
<rect x="552" y="819" width="4" height="4" fill="#e51d4c"/>
<rect x="552" y="810" width="4" height="7" fill="#fde03c"/>
<rect x="552" y="796" width="4" height="12" fill="#8e27b1"/>
<rect x="552" y="782" width="4" height="12" fill="#f2853d"/>
<rect x="552" y="762" width="4" height="18" fill="#fb221b"/>
<rect x="552" y="730" width="4" height="30" fill="#5fcd93"/>
<rect x="552" y="712" width="4" height="16" fill="#0f7f80"/>
<rect x="552" y="693" width="4" height="17" fill="#a94046"/>
<rect x="552" y="666" width="4" height="25" fill="#de9383"/>
<rect x="552" y="600" width="4" height="64" fill="#8ab977"/>
<rect x="552" y="455" width="4" height="143" rx="2" fill="#7683a6"/><rect x="552" y="458" width="4" height="140" fill="#7683a6"/>
<rect x="558" y="413" width="8" height="414" fill="#fff"/>
<rect x="560" y="825" width="4" height="2" fill="#ffffff"/>
<rect x="560" y="819" width="4" height="4" fill="#e51d4c"/>
<rect x="560" y="791" width="4" height="26" fill="#265c8d"/>
<rect x="560" y="780" width="4" height="9" fill="#fde03c"/>
<rect x="560" y="766" width="4" height="12" fill="#8e27b1"/>
<rect x="560" y="751" width="4" height="13" fill="#f2853d"/>
<rect x="560" y="733" width="4" height="16" fill="#fb221b"/>
<rect x="560" y="700" width="4" height="31" fill="#5fcd93"/>
<rect x="560" y="681" width="4" height="17" fill="#0f7f80"/>
<rect x="560" y="661" width="4" height="18" fill="#a94046"/>
<rect x="560" y="635" width="4" height="24" fill="#de9383"/>
<rect x="560" y="567" width="4" height="66" fill="#8ab977"/>
<rect x="560" y="415" width="4" height="150" rx="2" fill="#7683a6"/><rect x="560" y="418" width="4" height="147" fill="#7683a6"/>
<rect x="564" y="437" width="8" height="390" fill="#fff"/>
<rect x="566" y="825" width="4" height="2" fill="#ffffff"/>
<rect x="566" y="819" width="4" height="4" fill="#e51d4c"/>
<rect x="566" y="808" width="4" height="9" fill="#fde03c"/>
<rect x="566" y="794" width="4" height="12" fill="#8e27b1"/>
<rect x="566" y="778" width="4" height="14" fill="#f2853d"/>
<rect x="566" y="759" width="4" height="17" fill="#fb221b"/>
<rect x="566" y="726" width="4" height="31" fill="#5fcd93"/>
<rect x="566" y="708" width="4" height="16" fill="#0f7f80"/>
<rect x="566" y="688" width="4" height="18" fill="#a94046"/>
<rect x="566" y="660" width="4" height="26" fill="#de9383"/>
<rect x="566" y="591" width="4" height="67" fill="#8ab977"/>
<rect x="566" y="439" width="4" height="150" rx="2" fill="#7683a6"/><rect x="566" y="442" width="4" height="147" fill="#7683a6"/>
<rect x="572" y="429" width="8" height="398" fill="#fff"/>
<rect x="574" y="825" width="4" height="2" fill="#ffffff"/>
<rect x="574" y="819" width="4" height="4" fill="#e51d4c"/>
<rect x="574" y="808" width="4" height="9" fill="#fde03c"/>
<rect x="574" y="794" width="4" height="12" fill="#8e27b1"/>
<rect x="574" y="778" width="4" height="14" fill="#f2853d"/>
<rect x="574" y="759" width="4" height="17" fill="#fb221b"/>
<rect x="574" y="724" width="4" height="33" fill="#5fcd93"/>
<rect x="574" y="706" width="4" height="16" fill="#0f7f80"/>
<rect x="574" y="686" width="4" height="18" fill="#a94046"/>
<rect x="574" y="660" width="4" height="24" fill="#de9383"/>
<rect x="574" y="587" width="4" height="71" fill="#8ab977"/>
<rect x="574" y="431" width="4" height="154" rx="2" fill="#7683a6"/><rect x="574" y="434" width="4" height="151" fill="#7683a6"/>
<rect x="580" y="391" width="8" height="436" fill="#fff"/>
<rect x="582" y="825" width="4" height="2" fill="#ffffff"/>
<rect x="582" y="819" width="4" height="4" fill="#e51d4c"/>
<rect x="582" y="789" width="4" height="28" fill="#265c8d"/>
<rect x="582" y="780" width="4" height="7" fill="#fde03c"/>
<rect x="582" y="766" width="4" height="12" fill="#8e27b1"/>
<rect x="582" y="749" width="4" height="15" fill="#f2853d"/>
<rect x="582" y="730" width="4" height="17" fill="#fb221b"/>
<rect x="582" y="693" width="4" height="35" fill="#5fcd93"/>
<rect x="582" y="675" width="4" height="16" fill="#0f7f80"/>
<rect x="582" y="655" width="4" height="18" fill="#a94046"/>
<rect x="582" y="627" width="4" height="26" fill="#de9383"/>
<rect x="582" y="557" width="4" height="68" fill="#8ab977"/>
<rect x="582" y="393" width="4" height="162" rx="2" fill="#7683a6"/><rect x="582" y="396" width="4" height="159" fill="#7683a6"/>
<rect x="588" y="427" width="8" height="400" fill="#fff"/>
<rect x="590" y="825" width="4" height="2" fill="#ffffff"/>
<rect x="590" y="819" width="4" height="4" fill="#e51d4c"/>
<rect x="590" y="808" width="4" height="9" fill="#fde03c"/>
<rect x="590" y="794" width="4" height="12" fill="#8e27b1"/>
<rect x="590" y="778" width="4" height="14" fill="#f2853d"/>
<rect x="590" y="759" width="4" height="17" fill="#fb221b"/>
<rect x="590" y="724" width="4" height="33" fill="#5fcd93"/>
<rect x="590" y="706" width="4" height="16" fill="#0f7f80"/>
<rect x="590" y="686" width="4" height="18" fill="#a94046"/>
<rect x="590" y="658" width="4" height="26" fill="#de9383"/>
<rect x="590" y="587" width="4" height="69" fill="#8ab977"/>
<rect x="590" y="429" width="4" height="156" rx="2" fill="#7683a6"/><rect x="590" y="432" width="4" height="153" fill="#7683a6"/>
<rect x="596" y="429" width="8" height="398" fill="#fff"/>
<rect x="598" y="825" width="4" height="2" fill="#ffffff"/>
<rect x="598" y="819" width="4" height="4" fill="#e51d4c"/>
<rect x="598" y="808" width="4" height="9" fill="#fde03c"/>
<rect x="598" y="794" width="4" height="12" fill="#8e27b1"/>
<rect x="598" y="780" width="4" height="12" fill="#f2853d"/>
<rect x="598" y="762" width="4" height="16" fill="#fb221b"/>
<rect x="598" y="728" width="4" height="32" fill="#5fcd93"/>
<rect x="598" y="710" width="4" height="16" fill="#0f7f80"/>
<rect x="598" y="688" width="4" height="20" fill="#a94046"/>
<rect x="598" y="661" width="4" height="25" fill="#de9383"/>
<rect x="598" y="591" width="4" height="68" fill="#8ab977"/>
<rect x="598" y="431" width="4" height="158" rx="2" fill="#7683a6"/><rect x="598" y="434" width="4" height="155" fill="#7683a6"/>
<rect x="604" y="421" width="8" height="406" fill="#fff"/>
<rect x="606" y="825" width="4" height="2" fill="#ffffff"/>
<rect x="606" y="819" width="4" height="4" fill="#e51d4c"/>
<rect x="606" y="791" width="4" height="26" fill="#265c8d"/>
<rect x="606" y="780" width="4" height="9" fill="#fde03c"/>
<rect x="606" y="768" width="4" height="10" fill="#8e27b1"/>
<rect x="606" y="751" width="4" height="15" fill="#f2853d"/>
<rect x="606" y="736" width="4" height="13" fill="#fb221b"/>
<rect x="606" y="702" width="4" height="32" fill="#5fcd93"/>
<rect x="606" y="686" width="4" height="14" fill="#0f7f80"/>
<rect x="606" y="663" width="4" height="21" fill="#a94046"/>
<rect x="606" y="640" width="4" height="21" fill="#de9383"/>
<rect x="606" y="570" width="4" height="68" fill="#8ab977"/>
<rect x="606" y="423" width="4" height="145" rx="2" fill="#7683a6"/><rect x="606" y="426" width="4" height="142" fill="#7683a6"/>
<rect x="612" y="453" width="8" height="374" fill="#fff"/>
<rect x="614" y="825" width="4" height="2" fill="#ffffff"/>
<rect x="614" y="819" width="4" height="4" fill="#e51d4c"/>
<rect x="614" y="810" width="4" height="7" fill="#fde03c"/>
<rect x="614" y="796" width="4" height="12" fill="#8e27b1"/>
<rect x="614" y="782" width="4" height="12" fill="#f2853d"/>
<rect x="614" y="766" width="4" height="14" fill="#fb221b"/>
<rect x="614" y="732" width="4" height="32" fill="#5fcd93"/>
<rect x="614" y="713" width="4" height="17" fill="#0f7f80"/>
<rect x="614" y="693" width="4" height="18" fill="#a94046"/>
<rect x="614" y="667" width="4" height="24" fill="#de9383"/>
<rect x="614" y="597" width="4" height="68" fill="#8ab977"/>
<rect x="614" y="455" width="4" height="140" rx="2" fill="#7683a6"/><rect x="614" y="458" width="4" height="137" fill="#7683a6"/>
<rect x="618" y="457" width="8" height="370" fill="#fff"/>
<rect x="620" y="825" width="4" height="2" fill="#ffffff"/>
<rect x="620" y="819" width="4" height="4" fill="#e51d4c"/>
<rect x="620" y="809" width="4" height="8" fill="#fde03c"/>
<rect x="620" y="795" width="4" height="12" fill="#8e27b1"/>
<rect x="620" y="781" width="4" height="12" fill="#f2853d"/>
<rect x="620" y="770" width="4" height="9" fill="#fb221b"/>
<rect x="620" y="733" width="4" height="35" fill="#5fcd93"/>
<rect x="620" y="718" width="4" height="13" fill="#0f7f80"/>
<rect x="620" y="695" width="4" height="21" fill="#a94046"/>
<rect x="620" y="670" width="4" height="23" fill="#de9383"/>
<rect x="620" y="600" width="4" height="68" fill="#8ab977"/>
<rect x="620" y="459" width="4" height="139" rx="2" fill="#7683a6"/><rect x="620" y="462" width="4" height="136" fill="#7683a6"/>
<rect x="626" y="429" width="8" height="398" fill="#fff"/>
<rect x="628" y="822" width="4" height="5" fill="#e6c3fb"/>
<rect x="628" y="818" width="4" height="2" fill="#ffffff"/>
<rect x="628" y="816" width="4" height="1" fill="#41b14f"/>
<rect x="628" y="815" width="4" height="1" fill="#ffffff"/>
<rect x="628" y="811" width="4" height="2" fill="#e51d4c"/>
<rect x="628" y="783" width="4" height="26" fill="#265c8d"/>
<rect x="628" y="774" width="4" height="7" fill="#fde03c"/>
<rect x="628" y="761" width="4" height="11" fill="#8e27b1"/>
<rect x="628" y="747" width="4" height="12" fill="#f2853d"/>
<rect x="628" y="735" width="4" height="10" fill="#fb221b"/>
<rect x="628" y="699" width="4" height="34" fill="#5fcd93"/>
<rect x="628" y="683" width="4" height="14" fill="#0f7f80"/>
<rect x="628" y="663" width="4" height="18" fill="#a94046"/>
<rect x="628" y="639" width="4" height="22" fill="#de9383"/>
<rect x="628" y="573" width="4" height="64" fill="#8ab977"/>
<rect x="628" y="431" width="4" height="140" rx="2" fill="#7683a6"/><rect x="628" y="434" width="4" height="137" fill="#7683a6"/>
<rect x="634" y="475" width="8" height="352" fill="#fff"/>
<rect x="636" y="825" width="4" height="2" fill="#ffffff"/>
<rect x="636" y="819" width="4" height="4" fill="#e51d4c"/>
<rect x="636" y="809" width="4" height="8" fill="#fde03c"/>
<rect x="636" y="799" width="4" height="8" fill="#8e27b1"/>
<rect x="636" y="786" width="4" height="11" fill="#f2853d"/>
<rect x="636" y="774" width="4" height="10" fill="#fb221b"/>
<rect x="636" y="740" width="4" height="32" fill="#5fcd93"/>
<rect x="636" y="722" width="4" height="16" fill="#0f7f80"/>
<rect x="636" y="702" width="4" height="18" fill="#a94046"/>
<rect x="636" y="680" width="4" height="20" fill="#de9383"/>
<rect x="636" y="615" width="4" height="63" fill="#8ab977"/>
<rect x="636" y="477" width="4" height="136" rx="2" fill="#7683a6"/><rect x="636" y="480" width="4" height="133" fill="#7683a6"/>
<rect x="642" y="475" width="8" height="352" fill="#fff"/>
<rect x="644" y="825" width="4" height="2" fill="#ffffff"/>
<rect x="644" y="819" width="4" height="4" fill="#e51d4c"/>
<rect x="644" y="809" width="4" height="8" fill="#fde03c"/>
<rect x="644" y="798" width="4" height="9" fill="#8e27b1"/>
<rect x="644" y="786" width="4" height="10" fill="#f2853d"/>
<rect x="644" y="774" width="4" height="10" fill="#fb221b"/>
<rect x="644" y="742" width="4" height="30" fill="#5fcd93"/>
<rect x="644" y="722" width="4" height="18" fill="#0f7f80"/>
<rect x="644" y="702" width="4" height="18" fill="#a94046"/>
<rect x="644" y="678" width="4" height="22" fill="#de9383"/>
<rect x="644" y="613" width="4" height="63" fill="#8ab977"/>
<rect x="644" y="477" width="4" height="134" rx="2" fill="#7683a6"/><rect x="644" y="480" width="4" height="131" fill="#7683a6"/>
<rect x="650" y="461" width="8" height="366" fill="#fff"/>
<rect x="652" y="825" width="4" height="2" fill="#ffffff"/>
<rect x="652" y="819" width="4" height="4" fill="#e51d4c"/>
<rect x="652" y="794" width="4" height="23" fill="#265c8d"/>
<rect x="652" y="784" width="4" height="8" fill="#fde03c"/>
<rect x="652" y="771" width="4" height="11" fill="#8e27b1"/>
<rect x="652" y="759" width="4" height="10" fill="#f2853d"/>
<rect x="652" y="745" width="4" height="12" fill="#fb221b"/>
<rect x="652" y="716" width="4" height="27" fill="#5fcd93"/>
<rect x="652" y="698" width="4" height="16" fill="#0f7f80"/>
<rect x="652" y="678" width="4" height="18" fill="#a94046"/>
<rect x="652" y="654" width="4" height="22" fill="#de9383"/>
<rect x="652" y="589" width="4" height="63" fill="#8ab977"/>
<rect x="652" y="463" width="4" height="124" rx="2" fill="#7683a6"/><rect x="652" y="466" width="4" height="121" fill="#7683a6"/>
<rect x="658" y="475" width="8" height="352" fill="#fff"/>
<rect x="660" y="825" width="4" height="2" fill="#ffffff"/>
<rect x="660" y="819" width="4" height="4" fill="#e51d4c"/>
<rect x="660" y="809" width="4" height="8" fill="#fde03c"/>
<rect x="660" y="798" width="4" height="9" fill="#8e27b1"/>
<rect x="660" y="786" width="4" height="10" fill="#f2853d"/>
<rect x="660" y="770" width="4" height="14" fill="#fb221b"/>
<rect x="660" y="740" width="4" height="28" fill="#5fcd93"/>
<rect x="660" y="722" width="4" height="16" fill="#0f7f80"/>
<rect x="660" y="702" width="4" height="18" fill="#a94046"/>
<rect x="660" y="675" width="4" height="25" fill="#de9383"/>
<rect x="660" y="611" width="4" height="62" fill="#8ab977"/>
<rect x="660" y="477" width="4" height="132" rx="2" fill="#7683a6"/><rect x="660" y="480" width="4" height="129" fill="#7683a6"/>
<rect x="666" y="481" width="8" height="346" fill="#fff"/>
<rect x="668" y="825" width="4" height="2" fill="#ffffff"/>
<rect x="668" y="819" width="4" height="4" fill="#e51d4c"/>
<rect x="668" y="809" width="4" height="8" fill="#fde03c"/>
<rect x="668" y="799" width="4" height="8" fill="#8e27b1"/>
<rect x="668" y="786" width="4" height="11" fill="#f2853d"/>
<rect x="668" y="770" width="4" height="14" fill="#fb221b"/>
<rect x="668" y="740" width="4" height="28" fill="#5fcd93"/>
<rect x="668" y="724" width="4" height="14" fill="#0f7f80"/>
<rect x="668" y="702" width="4" height="20" fill="#a94046"/>
<rect x="668" y="678" width="4" height="22" fill="#de9383"/>
<rect x="668" y="613" width="4" height="63" fill="#8ab977"/>
<rect x="668" y="483" width="4" height="128" rx="2" fill="#7683a6"/><rect x="668" y="486" width="4" height="125" fill="#7683a6"/>
<rect x="674" y="449" width="8" height="378" fill="#fff"/>
<rect x="676" y="825" width="4" height="2" fill="#ffffff"/>
<rect x="676" y="819" width="4" height="4" fill="#e51d4c"/>
<rect x="676" y="791" width="4" height="26" fill="#265c8d"/>
<rect x="676" y="783" width="4" height="6" fill="#fde03c"/>
<rect x="676" y="771" width="4" height="10" fill="#8e27b1"/>
<rect x="676" y="757" width="4" height="12" fill="#f2853d"/>
<rect x="676" y="743" width="4" height="12" fill="#fb221b"/>
<rect x="676" y="713" width="4" height="28" fill="#5fcd93"/>
<rect x="676" y="695" width="4" height="16" fill="#0f7f80"/>
<rect x="676" y="675" width="4" height="18" fill="#a94046"/>
<rect x="676" y="651" width="4" height="22" fill="#de9383"/>
<rect x="676" y="587" width="4" height="62" fill="#8ab977"/>
<rect x="676" y="451" width="4" height="134" rx="2" fill="#7683a6"/><rect x="676" y="454" width="4" height="131" fill="#7683a6"/>
<rect x="680" y="491" width="8" height="336" fill="#fff"/>
<rect x="682" y="825" width="4" height="2" fill="#ffffff"/>
<rect x="682" y="821" width="4" height="2" fill="#41b14f"/>
<rect x="682" y="817" width="4" height="2" fill="#e51d4c"/>
<rect x="682" y="807" width="4" height="8" fill="#fde03c"/>
<rect x="682" y="795" width="4" height="10" fill="#8e27b1"/>
<rect x="682" y="783" width="4" height="10" fill="#f2853d"/>
<rect x="682" y="771" width="4" height="10" fill="#fb221b"/>
<rect x="682" y="741" width="4" height="28" fill="#5fcd93"/>
<rect x="682" y="725" width="4" height="14" fill="#0f7f80"/>
<rect x="682" y="705" width="4" height="18" fill="#a94046"/>
<rect x="682" y="681" width="4" height="22" fill="#de9383"/>
<rect x="682" y="617" width="4" height="62" fill="#8ab977"/>
<rect x="682" y="493" width="4" height="122" rx="2" fill="#7683a6"/><rect x="682" y="496" width="4" height="119" fill="#7683a6"/>
<rect x="688" y="499" width="8" height="328" fill="#fff"/>
<rect x="690" y="825" width="4" height="2" fill="#ffffff"/>
<rect x="690" y="821" width="4" height="2" fill="#41b14f"/>
<rect x="690" y="817" width="4" height="2" fill="#e51d4c"/>
<rect x="690" y="807" width="4" height="8" fill="#fde03c"/>
<rect x="690" y="795" width="4" height="10" fill="#8e27b1"/>
<rect x="690" y="783" width="4" height="10" fill="#f2853d"/>
<rect x="690" y="771" width="4" height="10" fill="#fb221b"/>
<rect x="690" y="745" width="4" height="24" fill="#5fcd93"/>
<rect x="690" y="727" width="4" height="16" fill="#0f7f80"/>
<rect x="690" y="707" width="4" height="18" fill="#a94046"/>
<rect x="690" y="683" width="4" height="22" fill="#de9383"/>
<rect x="690" y="623" width="4" height="58" fill="#8ab977"/>
<rect x="690" y="501" width="4" height="120" rx="2" fill="#7683a6"/><rect x="690" y="504" width="4" height="117" fill="#7683a6"/>
<rect x="696" y="487" width="8" height="340" fill="#fff"/>
<rect x="698" y="825" width="4" height="2" fill="#ffffff"/>
<rect x="698" y="821" width="4" height="2" fill="#41b14f"/>
<rect x="698" y="817" width="4" height="2" fill="#e51d4c"/>
<rect x="698" y="793" width="4" height="22" fill="#265c8d"/>
<rect x="698" y="783" width="4" height="8" fill="#fde03c"/>
<rect x="698" y="771" width="4" height="10" fill="#8e27b1"/>
<rect x="698" y="761" width="4" height="8" fill="#f2853d"/>
<rect x="698" y="747" width="4" height="12" fill="#fb221b"/>
<rect x="698" y="723" width="4" height="22" fill="#5fcd93"/>
<rect x="698" y="705" width="4" height="16" fill="#0f7f80"/>
<rect x="698" y="687" width="4" height="16" fill="#a94046"/>
<rect x="698" y="663" width="4" height="22" fill="#de9383"/>
<rect x="698" y="603" width="4" height="58" fill="#8ab977"/>
<rect x="698" y="489" width="4" height="112" rx="2" fill="#7683a6"/><rect x="698" y="492" width="4" height="109" fill="#7683a6"/>
<rect x="704" y="509" width="8" height="318" fill="#fff"/>
<rect x="706" y="825" width="4" height="2" fill="#ffffff"/>
<rect x="706" y="821" width="4" height="2" fill="#41b14f"/>
<rect x="706" y="817" width="4" height="2" fill="#e51d4c"/>
<rect x="706" y="807" width="4" height="8" fill="#fde03c"/>
<rect x="706" y="795" width="4" height="10" fill="#8e27b1"/>
<rect x="706" y="783" width="4" height="10" fill="#f2853d"/>
<rect x="706" y="771" width="4" height="10" fill="#fb221b"/>
<rect x="706" y="743" width="4" height="26" fill="#5fcd93"/>
<rect x="706" y="725" width="4" height="16" fill="#0f7f80"/>
<rect x="706" y="707" width="4" height="16" fill="#a94046"/>
<rect x="706" y="683" width="4" height="22" fill="#de9383"/>
<rect x="706" y="623" width="4" height="58" fill="#8ab977"/>
<rect x="706" y="511" width="4" height="110" rx="2" fill="#7683a6"/><rect x="706" y="514" width="4" height="107" fill="#7683a6"/>
<rect x="712" y="509" width="8" height="318" fill="#fff"/>
<rect x="714" y="825" width="4" height="2" fill="#ffffff"/>
<rect x="714" y="821" width="4" height="2" fill="#41b14f"/>
<rect x="714" y="817" width="4" height="2" fill="#e51d4c"/>
<rect x="714" y="807" width="4" height="8" fill="#fde03c"/>
<rect x="714" y="795" width="4" height="10" fill="#8e27b1"/>
<rect x="714" y="785" width="4" height="8" fill="#f2853d"/>
<rect x="714" y="773" width="4" height="10" fill="#fb221b"/>
<rect x="714" y="745" width="4" height="26" fill="#5fcd93"/>
<rect x="714" y="727" width="4" height="16" fill="#0f7f80"/>
<rect x="714" y="709" width="4" height="16" fill="#a94046"/>
<rect x="714" y="687" width="4" height="20" fill="#de9383"/>
<rect x="714" y="625" width="4" height="60" fill="#8ab977"/>
<rect x="714" y="511" width="4" height="112" rx="2" fill="#7683a6"/><rect x="714" y="514" width="4" height="109" fill="#7683a6"/>
<rect x="720" y="461" width="8" height="366" fill="#fff"/>
<rect x="722" y="821" width="4" height="6" fill="#e6c3fb"/>
<rect x="722" y="819" width="4" height="1" fill="#ffffff"/>
<rect x="722" y="815" width="4" height="2" fill="#51ede9"/>
<rect x="722" y="813" width="4" height="1" fill="#ffffff"/>
<rect x="722" y="809" width="4" height="2" fill="#e51d4c"/>
<rect x="722" y="785" width="4" height="22" fill="#265c8d"/>
<rect x="722" y="775" width="4" height="8" fill="#fde03c"/>
<rect x="722" y="763" width="4" height="10" fill="#8e27b1"/>
<rect x="722" y="753" width="4" height="8" fill="#f2853d"/>
<rect x="722" y="741" width="4" height="10" fill="#fb221b"/>
<rect x="722" y="713" width="4" height="26" fill="#5fcd93"/>
<rect x="722" y="695" width="4" height="16" fill="#0f7f80"/>
<rect x="722" y="679" width="4" height="14" fill="#a94046"/>
<rect x="722" y="661" width="4" height="16" fill="#b5656b"/>
<rect x="722" y="637" width="4" height="22" fill="#de9383"/>
<rect x="722" y="579" width="4" height="56" fill="#8ab977"/>
<rect x="722" y="463" width="4" height="114" rx="2" fill="#7683a6"/><rect x="722" y="466" width="4" height="111" fill="#7683a6"/>
<rect x="728" y="489" width="8" height="338" fill="#fff"/>
<rect x="730" y="825" width="4" height="2" fill="#ffffff"/>
<rect x="730" y="821" width="4" height="2" fill="#41b14f"/>
<rect x="730" y="817" width="4" height="2" fill="#e51d4c"/>
<rect x="730" y="805" width="4" height="10" fill="#4a5a7c"/>
<rect x="730" y="793" width="4" height="10" fill="#fde03c"/>
<rect x="730" y="783" width="4" height="8" fill="#8e27b1"/>
<rect x="730" y="771" width="4" height="10" fill="#f2853d"/>
<rect x="730" y="761" width="4" height="8" fill="#fb221b"/>
<rect x="730" y="735" width="4" height="24" fill="#5fcd93"/>
<rect x="730" y="715" width="4" height="18" fill="#0f7f80"/>
<rect x="730" y="699" width="4" height="14" fill="#a94046"/>
<rect x="730" y="681" width="4" height="16" fill="#b5656b"/>
<rect x="730" y="659" width="4" height="20" fill="#de9383"/>
<rect x="730" y="603" width="4" height="54" fill="#8ab977"/>
<rect x="730" y="491" width="4" height="110" rx="2" fill="#7683a6"/><rect x="730" y="494" width="4" height="107" fill="#7683a6"/>
<rect x="734" y="481" width="8" height="346" fill="#fff"/>
<rect x="736" y="825" width="4" height="2" fill="#ffffff"/>
<rect x="736" y="821" width="4" height="2" fill="#41b14f"/>
<rect x="736" y="817" width="4" height="2" fill="#e51d4c"/>
<rect x="736" y="803" width="4" height="12" fill="#4a5a7c"/>
<rect x="736" y="793" width="4" height="8" fill="#fde03c"/>
<rect x="736" y="781" width="4" height="10" fill="#8e27b1"/>
<rect x="736" y="771" width="4" height="8" fill="#f2853d"/>
<rect x="736" y="759" width="4" height="10" fill="#fb221b"/>
<rect x="736" y="733" width="4" height="24" fill="#5fcd93"/>
<rect x="736" y="715" width="4" height="16" fill="#0f7f80"/>
<rect x="736" y="697" width="4" height="16" fill="#a94046"/>
<rect x="736" y="677" width="4" height="18" fill="#b5656b"/>
<rect x="736" y="655" width="4" height="20" fill="#de9383"/>
<rect x="736" y="597" width="4" height="56" fill="#8ab977"/>
<rect x="736" y="483" width="4" height="112" rx="2" fill="#7683a6"/><rect x="736" y="486" width="4" height="109" fill="#7683a6"/>
<rect x="742" y="423" width="8" height="404" fill="#fff"/>
<rect x="744" y="827" width="4" height="1" fill="#ffffff"/>
<rect x="744" y="823" width="4" height="2" fill="#51ede9"/>
<rect x="744" y="821" width="4" height="1" fill="#ffffff"/>
<rect x="744" y="817" width="4" height="2" fill="#e51d4c"/>
<rect x="744" y="805" width="4" height="10" fill="#4a5a7c"/>
<rect x="744" y="777" width="4" height="26" fill="#265c8d"/>
<rect x="744" y="765" width="4" height="10" fill="#fde03c"/>
<rect x="744" y="753" width="4" height="10" fill="#8e27b1"/>
<rect x="744" y="741" width="4" height="10" fill="#f2853d"/>
<rect x="744" y="729" width="4" height="10" fill="#fb221b"/>
<rect x="744" y="701" width="4" height="26" fill="#5fcd93"/>
<rect x="744" y="681" width="4" height="18" fill="#0f7f80"/>
<rect x="744" y="663" width="4" height="16" fill="#a94046"/>
<rect x="744" y="643" width="4" height="18" fill="#b5656b"/>
<rect x="744" y="617" width="4" height="24" fill="#de9383"/>
<rect x="744" y="557" width="4" height="58" fill="#8ab977"/>
<rect x="744" y="425" width="4" height="130" rx="2" fill="#7683a6"/><rect x="744" y="428" width="4" height="127" fill="#7683a6"/>
<rect x="750" y="443" width="8" height="384" fill="#fff"/>
<rect x="752" y="827" width="4" height="1" fill="#ffffff"/>
<rect x="752" y="823" width="4" height="2" fill="#51ede9"/>
<rect x="752" y="821" width="4" height="1" fill="#ffffff"/>
<rect x="752" y="815" width="4" height="4" fill="#e51d4c"/>
<rect x="752" y="803" width="4" height="10" fill="#4a5a7c"/>
<rect x="752" y="793" width="4" height="8" fill="#fde03c"/>
<rect x="752" y="781" width="4" height="10" fill="#8e27b1"/>
<rect x="752" y="767" width="4" height="12" fill="#f2853d"/>
<rect x="752" y="753" width="4" height="12" fill="#fb221b"/>
<rect x="752" y="723" width="4" height="28" fill="#5fcd93"/>
<rect x="752" y="705" width="4" height="16" fill="#0f7f80"/>
<rect x="752" y="685" width="4" height="18" fill="#a94046"/>
<rect x="752" y="663" width="4" height="20" fill="#b5656b"/>
<rect x="752" y="639" width="4" height="22" fill="#de9383"/>
<rect x="752" y="579" width="4" height="58" fill="#8ab977"/>
<rect x="752" y="445" width="4" height="132" rx="2" fill="#7683a6"/><rect x="752" y="448" width="4" height="129" fill="#7683a6"/>
<rect x="758" y="457" width="8" height="370" fill="#fff"/>
<rect x="760" y="827" width="4" height="1" fill="#ffffff"/>
<rect x="760" y="823" width="4" height="2" fill="#51ede9"/>
<rect x="760" y="821" width="4" height="1" fill="#ffffff"/>
<rect x="760" y="817" width="4" height="2" fill="#e51d4c"/>
<rect x="760" y="803" width="4" height="12" fill="#4a5a7c"/>
<rect x="760" y="793" width="4" height="8" fill="#fde03c"/>
<rect x="760" y="781" width="4" height="10" fill="#8e27b1"/>
<rect x="760" y="769" width="4" height="10" fill="#f2853d"/>
<rect x="760" y="755" width="4" height="12" fill="#fb221b"/>
<rect x="760" y="727" width="4" height="26" fill="#5fcd93"/>
<rect x="760" y="709" width="4" height="16" fill="#0f7f80"/>
<rect x="760" y="691" width="4" height="16" fill="#a94046"/>
<rect x="760" y="669" width="4" height="20" fill="#b5656b"/>
<rect x="760" y="645" width="4" height="22" fill="#de9383"/>
<rect x="760" y="591" width="4" height="52" fill="#8ab977"/>
<rect x="760" y="459" width="4" height="130" rx="2" fill="#7683a6"/><rect x="760" y="462" width="4" height="127" fill="#7683a6"/>
<rect x="766" y="405" width="8" height="422" fill="#fff"/>
<rect x="768" y="827" width="4" height="1" fill="#ffffff"/>
<rect x="768" y="823" width="4" height="2" fill="#51ede9"/>
<rect x="768" y="821" width="4" height="1" fill="#ffffff"/>
<rect x="768" y="815" width="4" height="4" fill="#e51d4c"/>
<rect x="768" y="803" width="4" height="10" fill="#4a5a7c"/>
<rect x="768" y="775" width="4" height="26" fill="#265c8d"/>
<rect x="768" y="765" width="4" height="8" fill="#fde03c"/>
<rect x="768" y="753" width="4" height="10" fill="#8e27b1"/>
<rect x="768" y="739" width="4" height="12" fill="#f2853d"/>
<rect x="768" y="725" width="4" height="12" fill="#fb221b"/>
<rect x="768" y="697" width="4" height="26" fill="#5fcd93"/>
<rect x="768" y="677" width="4" height="18" fill="#0f7f80"/>
<rect x="768" y="660" width="4" height="15" fill="#a94046"/>
<rect x="768" y="637" width="4" height="21" fill="#b5656b"/>
<rect x="768" y="611" width="4" height="24" fill="#de9383"/>
<rect x="768" y="559" width="4" height="50" fill="#8ab977"/>
<rect x="768" y="407" width="4" height="150" rx="2" fill="#7683a6"/><rect x="768" y="410" width="4" height="147" fill="#7683a6"/>
<rect x="774" y="433" width="8" height="394" fill="#fff"/>
<rect x="776" y="827" width="4" height="1" fill="#ffffff"/>
<rect x="776" y="823" width="4" height="2" fill="#51ede9"/>
<rect x="776" y="821" width="4" height="1" fill="#ffffff"/>
<rect x="776" y="815" width="4" height="4" fill="#e51d4c"/>
<rect x="776" y="803" width="4" height="10" fill="#4a5a7c"/>
<rect x="776" y="791" width="4" height="10" fill="#fde03c"/>
<rect x="776" y="779" width="4" height="10" fill="#8e27b1"/>
<rect x="776" y="767" width="4" height="10" fill="#f2853d"/>
<rect x="776" y="753" width="4" height="12" fill="#fb221b"/>
<rect x="776" y="725" width="4" height="26" fill="#5fcd93"/>
<rect x="776" y="705" width="4" height="18" fill="#0f7f80"/>
<rect x="776" y="685" width="4" height="18" fill="#a94046"/>
<rect x="776" y="663" width="4" height="20" fill="#b5656b"/>
<rect x="776" y="637" width="4" height="24" fill="#de9383"/>
<rect x="776" y="585" width="4" height="50" fill="#8ab977"/>
<rect x="776" y="435" width="4" height="148" rx="2" fill="#7683a6"/><rect x="776" y="438" width="4" height="145" fill="#7683a6"/>
<rect x="782" y="429" width="8" height="398" fill="#fff"/>
<rect x="784" y="827" width="4" height="1" fill="#ffffff"/>
<rect x="784" y="823" width="4" height="2" fill="#51ede9"/>
<rect x="784" y="821" width="4" height="1" fill="#ffffff"/>
<rect x="784" y="815" width="4" height="4" fill="#e51d4c"/>
<rect x="784" y="803" width="4" height="10" fill="#4a5a7c"/>
<rect x="784" y="791" width="4" height="10" fill="#fde03c"/>
<rect x="784" y="779" width="4" height="10" fill="#8e27b1"/>
<rect x="784" y="767" width="4" height="10" fill="#f2853d"/>
<rect x="784" y="753" width="4" height="12" fill="#fb221b"/>
<rect x="784" y="723" width="4" height="28" fill="#5fcd93"/>
<rect x="784" y="703" width="4" height="18" fill="#0f7f80"/>
<rect x="784" y="683" width="4" height="18" fill="#a94046"/>
<rect x="784" y="661" width="4" height="20" fill="#b5656b"/>
<rect x="784" y="637" width="4" height="22" fill="#de9383"/>
<rect x="784" y="583" width="4" height="52" fill="#8ab977"/>
<rect x="784" y="431" width="4" height="150" rx="2" fill="#7683a6"/><rect x="784" y="434" width="4" height="147" fill="#7683a6"/>
<rect x="790" y="397" width="8" height="430" fill="#fff"/>
<rect x="792" y="827" width="4" height="1" fill="#ffffff"/>
<rect x="792" y="823" width="4" height="2" fill="#51ede9"/>
<rect x="792" y="821" width="4" height="1" fill="#ffffff"/>
<rect x="792" y="815" width="4" height="4" fill="#e51d4c"/>
<rect x="792" y="801" width="4" height="12" fill="#4a5a7c"/>
<rect x="792" y="775" width="4" height="24" fill="#265c8d"/>
<rect x="792" y="763" width="4" height="10" fill="#fde03c"/>
<rect x="792" y="753" width="4" height="8" fill="#8e27b1"/>
<rect x="792" y="739" width="4" height="12" fill="#f2853d"/>
<rect x="792" y="723" width="4" height="14" fill="#fb221b"/>
<rect x="792" y="695" width="4" height="26" fill="#5fcd93"/>
<rect x="792" y="675" width="4" height="18" fill="#0f7f80"/>
<rect x="792" y="655" width="4" height="18" fill="#a94046"/>
<rect x="792" y="631" width="4" height="22" fill="#b5656b"/>
<rect x="792" y="605" width="4" height="24" fill="#de9383"/>
<rect x="792" y="553" width="4" height="50" fill="#8ab977"/>
<rect x="792" y="399" width="4" height="152" rx="2" fill="#7683a6"/><rect x="792" y="402" width="4" height="149" fill="#7683a6"/>
<rect x="796" y="443" width="8" height="384" fill="#fff"/>
<rect x="798" y="827" width="4" height="1" fill="#ffffff"/>
<rect x="798" y="823" width="4" height="2" fill="#51ede9"/>
<rect x="798" y="821" width="4" height="1" fill="#ffffff"/>
<rect x="798" y="815" width="4" height="4" fill="#e51d4c"/>
<rect x="798" y="801" width="4" height="12" fill="#4a5a7c"/>
<rect x="798" y="789" width="4" height="10" fill="#fde03c"/>
<rect x="798" y="779" width="4" height="8" fill="#8e27b1"/>
<rect x="798" y="765" width="4" height="12" fill="#f2853d"/>
<rect x="798" y="751" width="4" height="12" fill="#fb221b"/>
<rect x="798" y="723" width="4" height="26" fill="#5fcd93"/>
<rect x="798" y="703" width="4" height="18" fill="#0f7f80"/>
<rect x="798" y="681" width="4" height="20" fill="#a94046"/>
<rect x="798" y="655" width="4" height="24" fill="#de9383"/>
<rect x="798" y="603" width="4" height="50" fill="#8ab977"/>
<rect x="798" y="445" width="4" height="156" rx="2" fill="#7683a6"/><rect x="798" y="448" width="4" height="153" fill="#7683a6"/>
<rect x="804" y="445" width="8" height="382" fill="#fff"/>
<rect x="806" y="827" width="4" height="1" fill="#ffffff"/>
<rect x="806" y="823" width="4" height="2" fill="#51ede9"/>
<rect x="806" y="821" width="4" height="1" fill="#ffffff"/>
<rect x="806" y="815" width="4" height="4" fill="#e51d4c"/>
<rect x="806" y="809" width="4" height="4" fill="#4a5a7c"/>
<rect x="806" y="797" width="4" height="10" fill="#fde03c"/>
<rect x="806" y="787" width="4" height="8" fill="#8e27b1"/>
<rect x="806" y="773" width="4" height="12" fill="#f2853d"/>
<rect x="806" y="759" width="4" height="12" fill="#fb221b"/>
<rect x="806" y="735" width="4" height="22" fill="#5fcd93"/>
<rect x="806" y="715" width="4" height="18" fill="#0f7f80"/>
<rect x="806" y="693" width="4" height="20" fill="#a94046"/>
<rect x="806" y="671" width="4" height="20" fill="#b5656b"/>
<rect x="806" y="647" width="4" height="22" fill="#de9383"/>
<rect x="806" y="597" width="4" height="48" fill="#8ab977"/>
<rect x="806" y="447" width="4" height="148" rx="2" fill="#7683a6"/><rect x="806" y="450" width="4" height="145" fill="#7683a6"/>
<rect x="812" y="405" width="8" height="422" fill="#fff"/>
<rect x="814" y="821" width="4" height="6" fill="#e6c3fb"/>
<rect x="814" y="817" width="4" height="2" fill="#ffffff"/>
<rect x="814" y="813" width="4" height="2" fill="#41b14f"/>
<rect x="814" y="807" width="4" height="4" fill="#e51d4c"/>
<rect x="814" y="801" width="4" height="4" fill="#4a5a7c"/>
<rect x="814" y="777" width="4" height="22" fill="#265c8d"/>
<rect x="814" y="765" width="4" height="10" fill="#fde03c"/>
<rect x="814" y="755" width="4" height="8" fill="#8e27b1"/>
<rect x="814" y="741" width="4" height="12" fill="#f2853d"/>
<rect x="814" y="727" width="4" height="12" fill="#fb221b"/>
<rect x="814" y="701" width="4" height="24" fill="#5fcd93"/>
<rect x="814" y="683" width="4" height="16" fill="#0f7f80"/>
<rect x="814" y="661" width="4" height="20" fill="#a94046"/>
<rect x="814" y="639" width="4" height="20" fill="#b5656b"/>
<rect x="814" y="615" width="4" height="22" fill="#de9383"/>
<rect x="814" y="565" width="4" height="48" fill="#8ab977"/>
<rect x="814" y="407" width="4" height="156" rx="2" fill="#7683a6"/><rect x="814" y="410" width="4" height="153" fill="#7683a6"/>
<rect x="820" y="427" width="8" height="400" fill="#fff"/>
<rect x="822" y="827" width="4" height="1" fill="#ffffff"/>
<rect x="822" y="823" width="4" height="2" fill="#51ede9"/>
<rect x="822" y="819" width="4" height="2" fill="#4667d7"/>
<rect x="822" y="817" width="4" height="1" fill="#ffffff"/>
<rect x="822" y="811" width="4" height="4" fill="#e51d4c"/>
<rect x="822" y="805" width="4" height="4" fill="#4a5a7c"/>
<rect x="822" y="793" width="4" height="10" fill="#fde03c"/>
<rect x="822" y="781" width="4" height="10" fill="#8e27b1"/>
<rect x="822" y="767" width="4" height="12" fill="#f2853d"/>
<rect x="822" y="751" width="4" height="14" fill="#fb221b"/>
<rect x="822" y="729" width="4" height="20" fill="#5fcd93"/>
<rect x="822" y="709" width="4" height="18" fill="#0f7f80"/>
<rect x="822" y="687" width="4" height="20" fill="#a94046"/>
<rect x="822" y="665" width="4" height="20" fill="#b5656b"/>
<rect x="822" y="639" width="4" height="24" fill="#de9383"/>
<rect x="822" y="589" width="4" height="48" fill="#8ab977"/>
<rect x="822" y="429" width="4" height="158" rx="2" fill="#7683a6"/><rect x="822" y="432" width="4" height="155" fill="#7683a6"/>
<rect x="828" y="411" width="8" height="416" fill="#fff"/>
<rect x="830" y="827" width="4" height="1" fill="#ffffff"/>
<rect x="830" y="823" width="4" height="2" fill="#51ede9"/>
<rect x="830" y="819" width="4" height="2" fill="#4667d7"/>
<rect x="830" y="817" width="4" height="1" fill="#ffffff"/>
<rect x="830" y="811" width="4" height="4" fill="#e51d4c"/>
<rect x="830" y="803" width="4" height="6" fill="#4a5a7c"/>
<rect x="830" y="791" width="4" height="10" fill="#fde03c"/>
<rect x="830" y="781" width="4" height="8" fill="#8e27b1"/>
<rect x="830" y="767" width="4" height="12" fill="#f2853d"/>
<rect x="830" y="749" width="4" height="16" fill="#fb221b"/>
<rect x="830" y="725" width="4" height="22" fill="#5fcd93"/>
<rect x="830" y="705" width="4" height="18" fill="#0f7f80"/>
<rect x="830" y="681" width="4" height="22" fill="#a94046"/>
<rect x="830" y="657" width="4" height="22" fill="#b5656b"/>
<rect x="830" y="631" width="4" height="24" fill="#de9383"/>
<rect x="830" y="581" width="4" height="48" fill="#8ab977"/>
<rect x="830" y="413" width="4" height="166" rx="2" fill="#7683a6"/><rect x="830" y="416" width="4" height="163" fill="#7683a6"/>
<rect x="836" y="373" width="8" height="454" fill="#fff"/>
<rect x="838" y="827" width="4" height="1" fill="#ffffff"/>
<rect x="838" y="823" width="4" height="2" fill="#51ede9"/>
<rect x="838" y="819" width="4" height="2" fill="#4667d7"/>
<rect x="838" y="815" width="4" height="2" fill="#41b14f"/>
<rect x="838" y="811" width="4" height="2" fill="#e51d4c"/>
<rect x="838" y="803" width="4" height="6" fill="#4a5a7c"/>
<rect x="838" y="777" width="4" height="24" fill="#265c8d"/>
<rect x="838" y="767" width="4" height="8" fill="#fde03c"/>
<rect x="838" y="755" width="4" height="10" fill="#8e27b1"/>
<rect x="838" y="739" width="4" height="14" fill="#f2853d"/>
<rect x="838" y="721" width="4" height="16" fill="#fb221b"/>
<rect x="838" y="697" width="4" height="22" fill="#5fcd93"/>
<rect x="838" y="677" width="4" height="18" fill="#0f7f80"/>
<rect x="838" y="653" width="4" height="22" fill="#a94046"/>
<rect x="838" y="629" width="4" height="22" fill="#b5656b"/>
<rect x="838" y="603" width="4" height="24" fill="#de9383"/>
<rect x="838" y="547" width="4" height="54" fill="#8ab977"/>
<rect x="838" y="375" width="4" height="170" rx="2" fill="#7683a6"/><rect x="838" y="378" width="4" height="167" fill="#7683a6"/>
<rect x="844" y="397" width="8" height="430" fill="#fff"/>
<rect x="846" y="827" width="4" height="1" fill="#ffffff"/>
<rect x="846" y="823" width="4" height="2" fill="#51ede9"/>
<rect x="846" y="819" width="4" height="2" fill="#4667d7"/>
<rect x="846" y="815" width="4" height="2" fill="#41b14f"/>
<rect x="846" y="809" width="4" height="4" fill="#e51d4c"/>
<rect x="846" y="803" width="4" height="4" fill="#4a5a7c"/>
<rect x="846" y="791" width="4" height="10" fill="#fde03c"/>
<rect x="846" y="779" width="4" height="10" fill="#8e27b1"/>
<rect x="846" y="763" width="4" height="14" fill="#f2853d"/>
<rect x="846" y="745" width="4" height="16" fill="#fb221b"/>
<rect x="846" y="721" width="4" height="22" fill="#5fcd93"/>
<rect x="846" y="699" width="4" height="20" fill="#0f7f80"/>
<rect x="846" y="677" width="4" height="20" fill="#a94046"/>
<rect x="846" y="651" width="4" height="24" fill="#b5656b"/>
<rect x="846" y="625" width="4" height="24" fill="#de9383"/>
<rect x="846" y="567" width="4" height="56" fill="#8ab977"/>
<rect x="846" y="399" width="4" height="166" rx="2" fill="#7683a6"/><rect x="846" y="402" width="4" height="163" fill="#7683a6"/>
<rect x="850" y="391" width="8" height="436" fill="#fff"/>
<rect x="852" y="827" width="4" height="1" fill="#ffffff"/>
<rect x="852" y="823" width="4" height="2" fill="#51ede9"/>
<rect x="852" y="819" width="4" height="2" fill="#4667d7"/>
<rect x="852" y="815" width="4" height="2" fill="#41b14f"/>
<rect x="852" y="809" width="4" height="4" fill="#e51d4c"/>
<rect x="852" y="801" width="4" height="6" fill="#4a5a7c"/>
<rect x="852" y="789" width="4" height="10" fill="#fde03c"/>
<rect x="852" y="777" width="4" height="10" fill="#8e27b1"/>
<rect x="852" y="761" width="4" height="14" fill="#f2853d"/>
<rect x="852" y="743" width="4" height="16" fill="#fb221b"/>
<rect x="852" y="717" width="4" height="24" fill="#5fcd93"/>
<rect x="852" y="695" width="4" height="20" fill="#0f7f80"/>
<rect x="852" y="673" width="4" height="20" fill="#a94046"/>
<rect x="852" y="647" width="4" height="24" fill="#b5656b"/>
<rect x="852" y="619" width="4" height="26" fill="#de9383"/>
<rect x="852" y="561" width="4" height="56" fill="#8ab977"/>
<rect x="852" y="393" width="4" height="166" rx="2" fill="#7683a6"/><rect x="852" y="396" width="4" height="163" fill="#7683a6"/>
<rect x="858" y="361" width="8" height="466" fill="#fff"/>
<rect x="860" y="827" width="4" height="1" fill="#ffffff"/>
<rect x="860" y="823" width="4" height="2" fill="#51ede9"/>
<rect x="860" y="819" width="4" height="2" fill="#4667d7"/>
<rect x="860" y="815" width="4" height="2" fill="#41b14f"/>
<rect x="860" y="809" width="4" height="4" fill="#e51d4c"/>
<rect x="860" y="801" width="4" height="6" fill="#4a5a7c"/>
<rect x="860" y="773" width="4" height="26" fill="#265c8d"/>
<rect x="860" y="761" width="4" height="10" fill="#fde03c"/>
<rect x="860" y="747" width="4" height="12" fill="#8e27b1"/>
<rect x="860" y="735" width="4" height="10" fill="#f2853d"/>
<rect x="860" y="717" width="4" height="16" fill="#fb221b"/>
<rect x="860" y="689" width="4" height="26" fill="#5fcd93"/>
<rect x="860" y="669" width="4" height="18" fill="#0f7f80"/>
<rect x="860" y="645" width="4" height="22" fill="#a94046"/>
<rect x="860" y="619" width="4" height="24" fill="#b5656b"/>
<rect x="860" y="591" width="4" height="26" fill="#de9383"/>
<rect x="860" y="531" width="4" height="58" fill="#8ab977"/>
<rect x="860" y="363" width="4" height="166" rx="2" fill="#7683a6"/><rect x="860" y="366" width="4" height="163" fill="#7683a6"/>
<rect x="866" y="373" width="8" height="454" fill="#fff"/>
<rect x="868" y="827" width="4" height="1" fill="#ffffff"/>
<rect x="868" y="823" width="4" height="2" fill="#51ede9"/>
<rect x="868" y="819" width="4" height="2" fill="#4667d7"/>
<rect x="868" y="815" width="4" height="2" fill="#41b14f"/>
<rect x="868" y="809" width="4" height="4" fill="#e51d4c"/>
<rect x="868" y="799" width="4" height="8" fill="#4a5a7c"/>
<rect x="868" y="787" width="4" height="10" fill="#fde03c"/>
<rect x="868" y="773" width="4" height="12" fill="#8e27b1"/>
<rect x="868" y="759" width="4" height="12" fill="#f2853d"/>
<rect x="868" y="741" width="4" height="16" fill="#fb221b"/>
<rect x="868" y="713" width="4" height="26" fill="#5fcd93"/>
<rect x="868" y="693" width="4" height="18" fill="#0f7f80"/>
<rect x="868" y="669" width="4" height="22" fill="#a94046"/>
<rect x="868" y="643" width="4" height="24" fill="#b5656b"/>
<rect x="868" y="613" width="4" height="28" fill="#de9383"/>
<rect x="868" y="551" width="4" height="60" fill="#8ab977"/>
<rect x="868" y="375" width="4" height="174" rx="2" fill="#7683a6"/><rect x="868" y="378" width="4" height="171" fill="#7683a6"/>
<rect x="874" y="365" width="8" height="462" fill="#fff"/>
<rect x="876" y="827" width="4" height="1" fill="#ffffff"/>
<rect x="876" y="823" width="4" height="2" fill="#51ede9"/>
<rect x="876" y="819" width="4" height="2" fill="#4667d7"/>
<rect x="876" y="815" width="4" height="2" fill="#41b14f"/>
<rect x="876" y="809" width="4" height="4" fill="#e51d4c"/>
<rect x="876" y="799" width="4" height="8" fill="#4a5a7c"/>
<rect x="876" y="785" width="4" height="12" fill="#fde03c"/>
<rect x="876" y="771" width="4" height="12" fill="#8e27b1"/>
<rect x="876" y="757" width="4" height="12" fill="#f2853d"/>
<rect x="876" y="737" width="4" height="18" fill="#fb221b"/>
<rect x="876" y="711" width="4" height="24" fill="#5fcd93"/>
<rect x="876" y="689" width="4" height="20" fill="#0f7f80"/>
<rect x="876" y="665" width="4" height="22" fill="#a94046"/>
<rect x="876" y="639" width="4" height="24" fill="#b5656b"/>
<rect x="876" y="609" width="4" height="28" fill="#de9383"/>
<rect x="876" y="547" width="4" height="60" fill="#8ab977"/>
<rect x="876" y="367" width="4" height="178" rx="2" fill="#7683a6"/><rect x="876" y="370" width="4" height="175" fill="#7683a6"/>
<rect x="882" y="339" width="8" height="488" fill="#fff"/>
<rect x="884" y="827" width="4" height="1" fill="#ffffff"/>
<rect x="884" y="823" width="4" height="2" fill="#51ede9"/>
<rect x="884" y="819" width="4" height="2" fill="#4667d7"/>
<rect x="884" y="815" width="4" height="2" fill="#41b14f"/>
<rect x="884" y="809" width="4" height="4" fill="#e51d4c"/>
<rect x="884" y="799" width="4" height="8" fill="#4a5a7c"/>
<rect x="884" y="771" width="4" height="26" fill="#265c8d"/>
<rect x="884" y="757" width="4" height="12" fill="#fde03c"/>
<rect x="884" y="745" width="4" height="10" fill="#8e27b1"/>
<rect x="884" y="729" width="4" height="14" fill="#f2853d"/>
<rect x="884" y="711" width="4" height="16" fill="#fb221b"/>
<rect x="884" y="683" width="4" height="26" fill="#5fcd93"/>
<rect x="884" y="661" width="4" height="20" fill="#0f7f80"/>
<rect x="884" y="639" width="4" height="20" fill="#a94046"/>
<rect x="884" y="611" width="4" height="26" fill="#b5656b"/>
<rect x="884" y="583" width="4" height="26" fill="#de9383"/>
<rect x="884" y="521" width="4" height="60" fill="#8ab977"/>
<rect x="884" y="341" width="4" height="178" rx="2" fill="#7683a6"/><rect x="884" y="344" width="4" height="175" fill="#7683a6"/>
<rect x="890" y="379" width="8" height="448" fill="#fff"/>
<rect x="892" y="827" width="4" height="1" fill="#ffffff"/>
<rect x="892" y="823" width="4" height="2" fill="#51ede9"/>
<rect x="892" y="819" width="4" height="2" fill="#4667d7"/>
<rect x="892" y="815" width="4" height="2" fill="#41b14f"/>
<rect x="892" y="809" width="4" height="4" fill="#e51d4c"/>
<rect x="892" y="799" width="4" height="8" fill="#4a5a7c"/>
<rect x="892" y="785" width="4" height="12" fill="#fde03c"/>
<rect x="892" y="773" width="4" height="10" fill="#8e27b1"/>
<rect x="892" y="757" width="4" height="14" fill="#f2853d"/>
<rect x="892" y="737" width="4" height="18" fill="#fb221b"/>
<rect x="892" y="713" width="4" height="22" fill="#5fcd93"/>
<rect x="892" y="691" width="4" height="20" fill="#0f7f80"/>
<rect x="892" y="667" width="4" height="22" fill="#a94046"/>
<rect x="892" y="641" width="4" height="24" fill="#b5656b"/>
<rect x="892" y="613" width="4" height="26" fill="#de9383"/>
<rect x="892" y="555" width="4" height="56" fill="#8ab977"/>
<rect x="892" y="381" width="4" height="172" rx="2" fill="#7683a6"/><rect x="892" y="384" width="4" height="169" fill="#7683a6"/>
<rect x="898" y="369" width="8" height="458" fill="#fff"/>
<rect x="900" y="827" width="4" height="1" fill="#ffffff"/>
<rect x="900" y="823" width="4" height="2" fill="#51ede9"/>
<rect x="900" y="819" width="4" height="2" fill="#4667d7"/>
<rect x="900" y="815" width="4" height="2" fill="#41b14f"/>
<rect x="900" y="809" width="4" height="4" fill="#e51d4c"/>
<rect x="900" y="797" width="4" height="10" fill="#4a5a7c"/>
<rect x="900" y="783" width="4" height="12" fill="#fde03c"/>
<rect x="900" y="771" width="4" height="10" fill="#8e27b1"/>
<rect x="900" y="755" width="4" height="14" fill="#f2853d"/>
<rect x="900" y="735" width="4" height="18" fill="#fb221b"/>
<rect x="900" y="711" width="4" height="22" fill="#5fcd93"/>
<rect x="900" y="689" width="4" height="20" fill="#0f7f80"/>
<rect x="900" y="665" width="4" height="22" fill="#a94046"/>
<rect x="900" y="639" width="4" height="24" fill="#b5656b"/>
<rect x="900" y="609" width="4" height="28" fill="#de9383"/>
<rect x="900" y="547" width="4" height="60" fill="#8ab977"/>
<rect x="900" y="371" width="4" height="174" rx="2" fill="#7683a6"/><rect x="900" y="374" width="4" height="171" fill="#7683a6"/>
<rect x="906" y="329" width="8" height="498" fill="#fff"/>
<rect x="908" y="821" width="4" height="6" fill="#e6c3fb"/>
<rect x="908" y="819" width="4" height="1" fill="#ffffff"/>
<rect x="908" y="815" width="4" height="2" fill="#51ede9"/>
<rect x="908" y="811" width="4" height="2" fill="#4667d7"/>
<rect x="908" y="805" width="4" height="4" fill="#41b14f"/>
<rect x="908" y="799" width="4" height="4" fill="#e51d4c"/>
<rect x="908" y="789" width="4" height="8" fill="#4a5a7c"/>
<rect x="908" y="759" width="4" height="28" fill="#265c8d"/>
<rect x="908" y="745" width="4" height="12" fill="#fde03c"/>
<rect x="908" y="733" width="4" height="10" fill="#8e27b1"/>
<rect x="908" y="719" width="4" height="12" fill="#f2853d"/>
<rect x="908" y="699" width="4" height="18" fill="#fb221b"/>
<rect x="908" y="673" width="4" height="24" fill="#5fcd93"/>
<rect x="908" y="649" width="4" height="22" fill="#0f7f80"/>
<rect x="908" y="623" width="4" height="24" fill="#a94046"/>
<rect x="908" y="597" width="4" height="24" fill="#b5656b"/>
<rect x="908" y="565" width="4" height="30" fill="#de9383"/>
<rect x="908" y="509" width="4" height="54" fill="#8ab977"/>
<rect x="908" y="331" width="4" height="176" rx="2" fill="#7683a6"/><rect x="908" y="334" width="4" height="173" fill="#7683a6"/>
<rect x="912" y="349" width="8" height="478" fill="#fff"/>
<rect x="914" y="827" width="4" height="1" fill="#ffffff"/>
<rect x="914" y="823" width="4" height="2" fill="#51ede9"/>
<rect x="914" y="819" width="4" height="2" fill="#4667d7"/>
<rect x="914" y="813" width="4" height="4" fill="#41b14f"/>
<rect x="914" y="807" width="4" height="4" fill="#e51d4c"/>
<rect x="914" y="797" width="4" height="8" fill="#4a5a7c"/>
<rect x="914" y="781" width="4" height="14" fill="#fde03c"/>
<rect x="914" y="769" width="4" height="10" fill="#8e27b1"/>
<rect x="914" y="753" width="4" height="14" fill="#f2853d"/>
<rect x="914" y="733" width="4" height="18" fill="#fb221b"/>
<rect x="914" y="705" width="4" height="26" fill="#5fcd93"/>
<rect x="914" y="681" width="4" height="22" fill="#0f7f80"/>
<rect x="914" y="653" width="4" height="26" fill="#a94046"/>
<rect x="914" y="627" width="4" height="24" fill="#b5656b"/>
<rect x="914" y="595" width="4" height="30" fill="#de9383"/>
<rect x="914" y="535" width="4" height="58" fill="#8ab977"/>
<rect x="914" y="351" width="4" height="182" rx="2" fill="#7683a6"/><rect x="914" y="354" width="4" height="179" fill="#7683a6"/>
<rect x="920" y="349" width="8" height="478" fill="#fff"/>
<rect x="922" y="827" width="4" height="1" fill="#ffffff"/>
<rect x="922" y="823" width="4" height="2" fill="#51ede9"/>
<rect x="922" y="819" width="4" height="2" fill="#4667d7"/>
<rect x="922" y="813" width="4" height="4" fill="#41b14f"/>
<rect x="922" y="807" width="4" height="4" fill="#e51d4c"/>
<rect x="922" y="797" width="4" height="8" fill="#4a5a7c"/>
<rect x="922" y="781" width="4" height="14" fill="#fde03c"/>
<rect x="922" y="769" width="4" height="10" fill="#8e27b1"/>
<rect x="922" y="753" width="4" height="14" fill="#f2853d"/>
<rect x="922" y="731" width="4" height="20" fill="#fb221b"/>
<rect x="922" y="705" width="4" height="24" fill="#5fcd93"/>
<rect x="922" y="681" width="4" height="22" fill="#0f7f80"/>
<rect x="922" y="653" width="4" height="26" fill="#a94046"/>
<rect x="922" y="625" width="4" height="26" fill="#b5656b"/>
<rect x="922" y="593" width="4" height="30" fill="#de9383"/>
<rect x="922" y="535" width="4" height="56" fill="#8ab977"/>
<rect x="922" y="351" width="4" height="182" rx="2" fill="#7683a6"/><rect x="922" y="354" width="4" height="179" fill="#7683a6"/>
<rect x="928" y="315" width="8" height="512" fill="#fff"/>
<rect x="930" y="827" width="4" height="1" fill="#ffffff"/>
<rect x="930" y="823" width="4" height="2" fill="#51ede9"/>
<rect x="930" y="819" width="4" height="2" fill="#4667d7"/>
<rect x="930" y="813" width="4" height="4" fill="#41b14f"/>
<rect x="930" y="807" width="4" height="4" fill="#e51d4c"/>
<rect x="930" y="795" width="4" height="10" fill="#4a5a7c"/>
<rect x="930" y="765" width="4" height="28" fill="#265c8d"/>
<rect x="930" y="749" width="4" height="14" fill="#fde03c"/>
<rect x="930" y="735" width="4" height="12" fill="#8e27b1"/>
<rect x="930" y="719" width="4" height="14" fill="#f2853d"/>
<rect x="930" y="699" width="4" height="18" fill="#fb221b"/>
<rect x="930" y="673" width="4" height="24" fill="#5fcd93"/>
<rect x="930" y="649" width="4" height="22" fill="#0f7f80"/>
<rect x="930" y="621" width="4" height="26" fill="#a94046"/>
<rect x="930" y="593" width="4" height="26" fill="#b5656b"/>
<rect x="930" y="561" width="4" height="30" fill="#de9383"/>
<rect x="930" y="499" width="4" height="60" fill="#8ab977"/>
<rect x="930" y="317" width="4" height="180" rx="2" fill="#7683a6"/><rect x="930" y="320" width="4" height="177" fill="#7683a6"/>
<rect x="936" y="363" width="8" height="464" fill="#fff"/>
<rect x="938" y="827" width="4" height="1" fill="#ffffff"/>
<rect x="938" y="823" width="4" height="2" fill="#51ede9"/>
<rect x="938" y="819" width="4" height="2" fill="#4667d7"/>
<rect x="938" y="813" width="4" height="4" fill="#41b14f"/>
<rect x="938" y="807" width="4" height="4" fill="#e51d4c"/>
<rect x="938" y="795" width="4" height="10" fill="#4a5a7c"/>
<rect x="938" y="781" width="4" height="12" fill="#fde03c"/>
<rect x="938" y="767" width="4" height="12" fill="#8e27b1"/>
<rect x="938" y="751" width="4" height="14" fill="#f2853d"/>
<rect x="938" y="731" width="4" height="18" fill="#fb221b"/>
<rect x="938" y="707" width="4" height="22" fill="#5fcd93"/>
<rect x="938" y="683" width="4" height="22" fill="#0f7f80"/>
<rect x="938" y="655" width="4" height="26" fill="#a94046"/>
<rect x="938" y="629" width="4" height="24" fill="#b5656b"/>
<rect x="938" y="597" width="4" height="30" fill="#de9383"/>
<rect x="938" y="537" width="4" height="58" fill="#8ab977"/>
<rect x="938" y="365" width="4" height="170" rx="2" fill="#7683a6"/><rect x="938" y="368" width="4" height="167" fill="#7683a6"/>
<rect x="944" y="379" width="8" height="448" fill="#fff"/>
<rect x="946" y="827" width="4" height="1" fill="#ffffff"/>
<rect x="946" y="823" width="4" height="2" fill="#51ede9"/>
<rect x="946" y="819" width="4" height="2" fill="#4667d7"/>
<rect x="946" y="813" width="4" height="4" fill="#41b14f"/>
<rect x="946" y="807" width="4" height="4" fill="#e51d4c"/>
<rect x="946" y="795" width="4" height="10" fill="#4a5a7c"/>
<rect x="946" y="781" width="4" height="12" fill="#fde03c"/>
<rect x="946" y="769" width="4" height="10" fill="#8e27b1"/>
<rect x="946" y="753" width="4" height="14" fill="#f2853d"/>
<rect x="946" y="733" width="4" height="18" fill="#fb221b"/>
<rect x="946" y="713" width="4" height="18" fill="#5fcd93"/>
<rect x="946" y="689" width="4" height="22" fill="#0f7f80"/>
<rect x="946" y="661" width="4" height="26" fill="#a94046"/>
<rect x="946" y="635" width="4" height="24" fill="#b5656b"/>
<rect x="946" y="605" width="4" height="28" fill="#de9383"/>
<rect x="946" y="547" width="4" height="56" fill="#8ab977"/>
<rect x="946" y="381" width="4" height="164" rx="2" fill="#7683a6"/><rect x="946" y="384" width="4" height="161" fill="#7683a6"/>
<rect x="952" y="359" width="8" height="468" fill="#fff"/>
<rect x="954" y="827" width="4" height="1" fill="#ffffff"/>
<rect x="954" y="823" width="4" height="2" fill="#51ede9"/>
<rect x="954" y="819" width="4" height="2" fill="#4667d7"/>
<rect x="954" y="813" width="4" height="4" fill="#41b14f"/>
<rect x="954" y="807" width="4" height="4" fill="#e51d4c"/>
<rect x="954" y="795" width="4" height="10" fill="#4a5a7c"/>
<rect x="954" y="765" width="4" height="28" fill="#265c8d"/>
<rect x="954" y="751" width="4" height="12" fill="#fde03c"/>
<rect x="954" y="739" width="4" height="10" fill="#8e27b1"/>
<rect x="954" y="723" width="4" height="14" fill="#f2853d"/>
<rect x="954" y="703" width="4" height="18" fill="#fb221b"/>
<rect x="954" y="681" width="4" height="20" fill="#5fcd93"/>
<rect x="954" y="659" width="4" height="20" fill="#0f7f80"/>
<rect x="954" y="633" width="4" height="24" fill="#a94046"/>
<rect x="954" y="607" width="4" height="24" fill="#b5656b"/>
<rect x="954" y="577" width="4" height="28" fill="#de9383"/>
<rect x="954" y="521" width="4" height="54" fill="#8ab977"/>
<rect x="954" y="361" width="4" height="158" rx="2" fill="#7683a6"/><rect x="954" y="364" width="4" height="155" fill="#7683a6"/>
<rect x="960" y="375" width="8" height="452" fill="#fff"/>
<rect x="962" y="827" width="4" height="1" fill="#ffffff"/>
<rect x="962" y="823" width="4" height="2" fill="#51ede9"/>
<rect x="962" y="819" width="4" height="2" fill="#4667d7"/>
<rect x="962" y="813" width="4" height="4" fill="#41b14f"/>
<rect x="962" y="807" width="4" height="4" fill="#e51d4c"/>
<rect x="962" y="795" width="4" height="10" fill="#4a5a7c"/>
<rect x="962" y="781" width="4" height="12" fill="#fde03c"/>
<rect x="962" y="769" width="4" height="10" fill="#8e27b1"/>
<rect x="962" y="751" width="4" height="16" fill="#f2853d"/>
<rect x="962" y="731" width="4" height="18" fill="#fb221b"/>
<rect x="962" y="711" width="4" height="18" fill="#5fcd93"/>
<rect x="962" y="687" width="4" height="22" fill="#0f7f80"/>
<rect x="962" y="661" width="4" height="24" fill="#a94046"/>
<rect x="962" y="635" width="4" height="24" fill="#b5656b"/>
<rect x="962" y="605" width="4" height="28" fill="#de9383"/>
<rect x="962" y="543" width="4" height="60" fill="#8ab977"/>
<rect x="962" y="377" width="4" height="164" rx="2" fill="#7683a6"/><rect x="962" y="380" width="4" height="161" fill="#7683a6"/>
<rect x="966" y="399" width="8" height="428" fill="#fff"/>
<rect x="968" y="827" width="4" height="1" fill="#ffffff"/>
<rect x="968" y="823" width="4" height="2" fill="#51ede9"/>
<rect x="968" y="819" width="4" height="2" fill="#4667d7"/>
<rect x="968" y="813" width="4" height="4" fill="#41b14f"/>
<rect x="968" y="807" width="4" height="4" fill="#e51d4c"/>
<rect x="968" y="795" width="4" height="10" fill="#4a5a7c"/>
<rect x="968" y="781" width="4" height="12" fill="#fde03c"/>
<rect x="968" y="769" width="4" height="10" fill="#8e27b1"/>
<rect x="968" y="753" width="4" height="14" fill="#f2853d"/>
<rect x="968" y="733" width="4" height="18" fill="#fb221b"/>
<rect x="968" y="719" width="4" height="12" fill="#5fcd93"/>
<rect x="968" y="695" width="4" height="22" fill="#0f7f80"/>
<rect x="968" y="671" width="4" height="22" fill="#a94046"/>
<rect x="968" y="645" width="4" height="24" fill="#b5656b"/>
<rect x="968" y="615" width="4" height="28" fill="#de9383"/>
<rect x="968" y="555" width="4" height="58" fill="#8ab977"/>
<rect x="968" y="401" width="4" height="152" rx="2" fill="#7683a6"/><rect x="968" y="404" width="4" height="149" fill="#7683a6"/>
<rect x="974" y="359" width="8" height="468" fill="#fff"/>
<rect x="976" y="825" width="4" height="2" fill="#ffffff"/>
<rect x="976" y="821" width="4" height="2" fill="#51ede9"/>
<rect x="976" y="817" width="4" height="2" fill="#4667d7"/>
<rect x="976" y="811" width="4" height="4" fill="#41b14f"/>
<rect x="976" y="805" width="4" height="4" fill="#e51d4c"/>
<rect x="976" y="793" width="4" height="10" fill="#4a5a7c"/>
<rect x="976" y="763" width="4" height="28" fill="#265c8d"/>
<rect x="976" y="749" width="4" height="12" fill="#fde03c"/>
<rect x="976" y="737" width="4" height="10" fill="#8e27b1"/>
<rect x="976" y="719" width="4" height="16" fill="#f2853d"/>
<rect x="976" y="701" width="4" height="16" fill="#fb221b"/>
<rect x="976" y="685" width="4" height="14" fill="#5fcd93"/>
<rect x="976" y="659" width="4" height="24" fill="#0f7f80"/>
<rect x="976" y="635" width="4" height="22" fill="#a94046"/>
<rect x="976" y="607" width="4" height="26" fill="#b5656b"/>
<rect x="976" y="577" width="4" height="28" fill="#de9383"/>
<rect x="976" y="515" width="4" height="60" fill="#8ab977"/>
<rect x="976" y="361" width="4" height="152" rx="2" fill="#7683a6"/><rect x="976" y="364" width="4" height="149" fill="#7683a6"/>
<rect x="982" y="383" width="8" height="444" fill="#fff"/>
<rect x="984" y="823" width="4" height="4" fill="#ffffff"/>
<rect x="984" y="819" width="4" height="2" fill="#51ede9"/>
<rect x="984" y="815" width="4" height="2" fill="#4667d7"/>
<rect x="984" y="811" width="4" height="2" fill="#41b14f"/>
<rect x="984" y="805" width="4" height="4" fill="#e51d4c"/>
<rect x="984" y="791" width="4" height="12" fill="#4a5a7c"/>
<rect x="984" y="777" width="4" height="12" fill="#fde03c"/>
<rect x="984" y="767" width="4" height="8" fill="#8e27b1"/>
<rect x="984" y="751" width="4" height="14" fill="#f2853d"/>
<rect x="984" y="731" width="4" height="18" fill="#fb221b"/>
<rect x="984" y="713" width="4" height="16" fill="#5fcd93"/>
<rect x="984" y="689" width="4" height="22" fill="#0f7f80"/>
<rect x="984" y="665" width="4" height="22" fill="#a94046"/>
<rect x="984" y="639" width="4" height="24" fill="#b5656b"/>
<rect x="984" y="609" width="4" height="28" fill="#de9383"/>
<rect x="984" y="553" width="4" height="54" fill="#8ab977"/>
<rect x="984" y="385" width="4" height="166" rx="2" fill="#7683a6"/><rect x="984" y="388" width="4" height="163" fill="#7683a6"/>
<rect x="990" y="379" width="8" height="448" fill="#fff"/>
<rect x="992" y="823" width="4" height="4" fill="#ffffff"/>
<rect x="992" y="819" width="4" height="2" fill="#51ede9"/>
<rect x="992" y="815" width="4" height="2" fill="#4667d7"/>
<rect x="992" y="811" width="4" height="2" fill="#41b14f"/>
<rect x="992" y="805" width="4" height="4" fill="#e51d4c"/>
<rect x="992" y="791" width="4" height="12" fill="#4a5a7c"/>
<rect x="992" y="779" width="4" height="10" fill="#fde03c"/>
<rect x="992" y="767" width="4" height="10" fill="#8e27b1"/>
<rect x="992" y="751" width="4" height="14" fill="#f2853d"/>
<rect x="992" y="733" width="4" height="16" fill="#fb221b"/>
<rect x="992" y="711" width="4" height="20" fill="#5fcd93"/>
<rect x="992" y="687" width="4" height="22" fill="#0f7f80"/>
<rect x="992" y="661" width="4" height="24" fill="#a94046"/>
<rect x="992" y="633" width="4" height="26" fill="#b5656b"/>
<rect x="992" y="603" width="4" height="28" fill="#de9383"/>
<rect x="992" y="545" width="4" height="56" fill="#8ab977"/>
<rect x="992" y="381" width="4" height="162" rx="2" fill="#7683a6"/><rect x="992" y="384" width="4" height="159" fill="#7683a6"/>
<rect x="998" y="337" width="8" height="490" fill="#fff"/>
<rect x="1000" y="821" width="4" height="6" fill="#e6c3fb"/>
<rect x="1000" y="817" width="4" height="2" fill="#ffffff"/>
<rect x="1000" y="813" width="4" height="2" fill="#51ede9"/>
<rect x="1000" y="809" width="4" height="2" fill="#4667d7"/>
<rect x="1000" y="803" width="4" height="4" fill="#41b14f"/>
<rect x="1000" y="797" width="4" height="4" fill="#e51d4c"/>
<rect x="1000" y="783" width="4" height="12" fill="#4a5a7c"/>
<rect x="1000" y="753" width="4" height="28" fill="#265c8d"/>
<rect x="1000" y="739" width="4" height="12" fill="#fde03c"/>
<rect x="1000" y="727" width="4" height="10" fill="#8e27b1"/>
<rect x="1000" y="711" width="4" height="14" fill="#f2853d"/>
<rect x="1000" y="693" width="4" height="16" fill="#fb221b"/>
<rect x="1000" y="673" width="4" height="18" fill="#5fcd93"/>
<rect x="1000" y="647" width="4" height="24" fill="#0f7f80"/>
<rect x="1000" y="623" width="4" height="22" fill="#a94046"/>
<rect x="1000" y="595" width="4" height="26" fill="#b5656b"/>
<rect x="1000" y="565" width="4" height="28" fill="#de9383"/>
<rect x="1000" y="505" width="4" height="58" fill="#8ab977"/>
<rect x="1000" y="339" width="4" height="164" rx="2" fill="#7683a6"/><rect x="1000" y="342" width="4" height="161" fill="#7683a6"/>
<rect x="1006" y="355" width="8" height="472" fill="#fff"/>
<rect x="1008" y="823" width="4" height="4" fill="#ffffff"/>
<rect x="1008" y="819" width="4" height="2" fill="#51ede9"/>
<rect x="1008" y="815" width="4" height="2" fill="#4667d7"/>
<rect x="1008" y="809" width="4" height="4" fill="#41b14f"/>
<rect x="1008" y="803" width="4" height="4" fill="#e51d4c"/>
<rect x="1008" y="789" width="4" height="12" fill="#4a5a7c"/>
<rect x="1008" y="775" width="4" height="12" fill="#fde03c"/>
<rect x="1008" y="763" width="4" height="10" fill="#8e27b1"/>
<rect x="1008" y="747" width="4" height="14" fill="#f2853d"/>
<rect x="1008" y="727" width="4" height="18" fill="#fb221b"/>
<rect x="1008" y="707" width="4" height="18" fill="#5fcd93"/>
<rect x="1008" y="681" width="4" height="24" fill="#0f7f80"/>
<rect x="1008" y="653" width="4" height="26" fill="#a94046"/>
<rect x="1008" y="623" width="4" height="28" fill="#b5656b"/>
<rect x="1008" y="593" width="4" height="28" fill="#de9383"/>
<rect x="1008" y="531" width="4" height="60" fill="#8ab977"/>
<rect x="1008" y="357" width="4" height="172" rx="2" fill="#7683a6"/><rect x="1008" y="360" width="4" height="169" fill="#7683a6"/>
<rect x="1014" y="357" width="8" height="470" fill="#fff"/>
<rect x="1016" y="823" width="4" height="4" fill="#ffffff"/>
<rect x="1016" y="819" width="4" height="2" fill="#51ede9"/>
<rect x="1016" y="815" width="4" height="2" fill="#4667d7"/>
<rect x="1016" y="809" width="4" height="4" fill="#41b14f"/>
<rect x="1016" y="803" width="4" height="4" fill="#e51d4c"/>
<rect x="1016" y="789" width="4" height="12" fill="#4a5a7c"/>
<rect x="1016" y="775" width="4" height="12" fill="#fde03c"/>
<rect x="1016" y="763" width="4" height="10" fill="#8e27b1"/>
<rect x="1016" y="745" width="4" height="16" fill="#f2853d"/>
<rect x="1016" y="727" width="4" height="16" fill="#fb221b"/>
<rect x="1016" y="705" width="4" height="20" fill="#5fcd93"/>
<rect x="1016" y="679" width="4" height="24" fill="#0f7f80"/>
<rect x="1016" y="653" width="4" height="24" fill="#a94046"/>
<rect x="1016" y="623" width="4" height="28" fill="#b5656b"/>
<rect x="1016" y="593" width="4" height="28" fill="#de9383"/>
<rect x="1016" y="531" width="4" height="60" fill="#8ab977"/>
<rect x="1016" y="359" width="4" height="170" rx="2" fill="#7683a6"/><rect x="1016" y="362" width="4" height="167" fill="#7683a6"/>
<rect x="1022" y="333" width="8" height="494" fill="#fff"/>
<rect x="1024" y="823" width="4" height="4" fill="#ffffff"/>
<rect x="1024" y="819" width="4" height="2" fill="#51ede9"/>
<rect x="1024" y="815" width="4" height="2" fill="#4667d7"/>
<rect x="1024" y="809" width="4" height="4" fill="#41b14f"/>
<rect x="1024" y="803" width="4" height="4" fill="#e51d4c"/>
<rect x="1024" y="789" width="4" height="12" fill="#4a5a7c"/>
<rect x="1024" y="757" width="4" height="30" fill="#265c8d"/>
<rect x="1024" y="743" width="4" height="12" fill="#fde03c"/>
<rect x="1024" y="731" width="4" height="10" fill="#8e27b1"/>
<rect x="1024" y="713" width="4" height="16" fill="#f2853d"/>
<rect x="1024" y="693" width="4" height="18" fill="#fb221b"/>
<rect x="1024" y="673" width="4" height="18" fill="#5fcd93"/>
<rect x="1024" y="647" width="4" height="24" fill="#0f7f80"/>
<rect x="1024" y="621" width="4" height="24" fill="#a94046"/>
<rect x="1024" y="591" width="4" height="28" fill="#b5656b"/>
<rect x="1024" y="561" width="4" height="28" fill="#de9383"/>
<rect x="1024" y="499" width="4" height="60" fill="#8ab977"/>
<rect x="1024" y="335" width="4" height="162" rx="2" fill="#7683a6"/><rect x="1024" y="338" width="4" height="159" fill="#7683a6"/>
<rect x="1028" y="363" width="8" height="464" fill="#fff"/>
<rect x="1030" y="823" width="4" height="4" fill="#ffffff"/>
<rect x="1030" y="819" width="4" height="2" fill="#51ede9"/>
<rect x="1030" y="815" width="4" height="2" fill="#4667d7"/>
<rect x="1030" y="809" width="4" height="4" fill="#41b14f"/>
<rect x="1030" y="803" width="4" height="4" fill="#e51d4c"/>
<rect x="1030" y="789" width="4" height="12" fill="#4a5a7c"/>
<rect x="1030" y="775" width="4" height="12" fill="#fde03c"/>
<rect x="1030" y="763" width="4" height="10" fill="#8e27b1"/>
<rect x="1030" y="747" width="4" height="14" fill="#f2853d"/>
<rect x="1030" y="725" width="4" height="20" fill="#fb221b"/>
<rect x="1030" y="705" width="4" height="18" fill="#5fcd93"/>
<rect x="1030" y="679" width="4" height="24" fill="#0f7f80"/>
<rect x="1030" y="653" width="4" height="24" fill="#a94046"/>
<rect x="1030" y="623" width="4" height="28" fill="#b5656b"/>
<rect x="1030" y="593" width="4" height="28" fill="#de9383"/>
<rect x="1030" y="529" width="4" height="62" fill="#8ab977"/>
<rect x="1030" y="365" width="4" height="162" rx="2" fill="#7683a6"/><rect x="1030" y="368" width="4" height="159" fill="#7683a6"/>
<rect x="1036" y="363" width="8" height="464" fill="#fff"/>
<rect x="1038" y="823" width="4" height="4" fill="#ffffff"/>
<rect x="1038" y="819" width="4" height="2" fill="#51ede9"/>
<rect x="1038" y="815" width="4" height="2" fill="#4667d7"/>
<rect x="1038" y="809" width="4" height="4" fill="#41b14f"/>
<rect x="1038" y="803" width="4" height="4" fill="#e51d4c"/>
<rect x="1038" y="789" width="4" height="12" fill="#4a5a7c"/>
<rect x="1038" y="775" width="4" height="12" fill="#fde03c"/>
<rect x="1038" y="763" width="4" height="10" fill="#8e27b1"/>
<rect x="1038" y="747" width="4" height="14" fill="#f2853d"/>
<rect x="1038" y="725" width="4" height="20" fill="#fb221b"/>
<rect x="1038" y="705" width="4" height="18" fill="#5fcd93"/>
<rect x="1038" y="679" width="4" height="24" fill="#0f7f80"/>
<rect x="1038" y="651" width="4" height="26" fill="#a94046"/>
<rect x="1038" y="621" width="4" height="28" fill="#b5656b"/>
<rect x="1038" y="591" width="4" height="28" fill="#de9383"/>
<rect x="1038" y="529" width="4" height="60" fill="#8ab977"/>
<rect x="1038" y="365" width="4" height="162" rx="2" fill="#7683a6"/><rect x="1038" y="368" width="4" height="159" fill="#7683a6"/>
<rect x="1044" y="313" width="8" height="514" fill="#fff"/>
<rect x="1046" y="823" width="4" height="4" fill="#ffffff"/>
<rect x="1046" y="819" width="4" height="2" fill="#51ede9"/>
<rect x="1046" y="815" width="4" height="2" fill="#4667d7"/>
<rect x="1046" y="809" width="4" height="4" fill="#41b14f"/>
<rect x="1046" y="803" width="4" height="4" fill="#e51d4c"/>
<rect x="1046" y="787" width="4" height="14" fill="#4a5a7c"/>
<rect x="1046" y="755" width="4" height="30" fill="#265c8d"/>
<rect x="1046" y="741" width="4" height="12" fill="#fde03c"/>
<rect x="1046" y="727" width="4" height="12" fill="#8e27b1"/>
<rect x="1046" y="711" width="4" height="14" fill="#f2853d"/>
<rect x="1046" y="687" width="4" height="22" fill="#fb221b"/>
<rect x="1046" y="667" width="4" height="18" fill="#5fcd93"/>
<rect x="1046" y="639" width="4" height="26" fill="#0f7f80"/>
<rect x="1046" y="611" width="4" height="26" fill="#a94046"/>
<rect x="1046" y="581" width="4" height="28" fill="#b5656b"/>
<rect x="1046" y="551" width="4" height="28" fill="#de9383"/>
<rect x="1046" y="487" width="4" height="62" fill="#8ab977"/>
<rect x="1046" y="315" width="4" height="170" rx="2" fill="#7683a6"/><rect x="1046" y="318" width="4" height="167" fill="#7683a6"/>
<rect x="1052" y="347" width="8" height="480" fill="#fff"/>
<rect x="1054" y="823" width="4" height="4" fill="#ffffff"/>
<rect x="1054" y="819" width="4" height="2" fill="#51ede9"/>
<rect x="1054" y="813" width="4" height="4" fill="#4667d7"/>
<rect x="1054" y="809" width="4" height="2" fill="#41b14f"/>
<rect x="1054" y="793" width="4" height="14" fill="#4a5a7c"/>
<rect x="1054" y="779" width="4" height="12" fill="#fde03c"/>
<rect x="1054" y="767" width="4" height="10" fill="#8e27b1"/>
<rect x="1054" y="749" width="4" height="16" fill="#f2853d"/>
<rect x="1054" y="727" width="4" height="20" fill="#fb221b"/>
<rect x="1054" y="703" width="4" height="22" fill="#5fcd93"/>
<rect x="1054" y="677" width="4" height="24" fill="#0f7f80"/>
<rect x="1054" y="649" width="4" height="26" fill="#a94046"/>
<rect x="1054" y="619" width="4" height="28" fill="#b5656b"/>
<rect x="1054" y="589" width="4" height="28" fill="#de9383"/>
<rect x="1054" y="523" width="4" height="64" fill="#8ab977"/>
<rect x="1054" y="349" width="4" height="172" rx="2" fill="#7683a6"/><rect x="1054" y="352" width="4" height="169" fill="#7683a6"/>
<rect x="1060" y="365" width="8" height="462" fill="#fff"/>
<rect x="1062" y="823" width="4" height="4" fill="#ffffff"/>
<rect x="1062" y="819" width="4" height="2" fill="#51ede9"/>
<rect x="1062" y="813" width="4" height="4" fill="#4667d7"/>
<rect x="1062" y="809" width="4" height="2" fill="#41b14f"/>
<rect x="1062" y="793" width="4" height="14" fill="#4a5a7c"/>
<rect x="1062" y="779" width="4" height="12" fill="#fde03c"/>
<rect x="1062" y="767" width="4" height="10" fill="#8e27b1"/>
<rect x="1062" y="751" width="4" height="14" fill="#f2853d"/>
<rect x="1062" y="729" width="4" height="20" fill="#fb221b"/>
<rect x="1062" y="705" width="4" height="22" fill="#5fcd93"/>
<rect x="1062" y="679" width="4" height="24" fill="#0f7f80"/>
<rect x="1062" y="653" width="4" height="24" fill="#a94046"/>
<rect x="1062" y="621" width="4" height="30" fill="#b5656b"/>
<rect x="1062" y="591" width="4" height="28" fill="#de9383"/>
<rect x="1062" y="529" width="4" height="60" fill="#8ab977"/>
<rect x="1062" y="367" width="4" height="160" rx="2" fill="#7683a6"/><rect x="1062" y="370" width="4" height="157" fill="#7683a6"/>
<rect x="1068" y="317" width="8" height="510" fill="#fff"/>
<rect x="1070" y="823" width="4" height="4" fill="#ffffff"/>
<rect x="1070" y="819" width="4" height="2" fill="#51ede9"/>
<rect x="1070" y="813" width="4" height="4" fill="#4667d7"/>
<rect x="1070" y="807" width="4" height="4" fill="#41b14f"/>
<rect x="1070" y="801" width="4" height="4" fill="#e51d4c"/>
<rect x="1070" y="787" width="4" height="12" fill="#4a5a7c"/>
<rect x="1070" y="753" width="4" height="32" fill="#265c8d"/>
<rect x="1070" y="739" width="4" height="12" fill="#fde03c"/>
<rect x="1070" y="727" width="4" height="10" fill="#8e27b1"/>
<rect x="1070" y="711" width="4" height="14" fill="#f2853d"/>
<rect x="1070" y="689" width="4" height="20" fill="#fb221b"/>
<rect x="1070" y="665" width="4" height="22" fill="#5fcd93"/>
<rect x="1070" y="637" width="4" height="26" fill="#0f7f80"/>
<rect x="1070" y="611" width="4" height="24" fill="#a94046"/>
<rect x="1070" y="579" width="4" height="30" fill="#b5656b"/>
<rect x="1070" y="549" width="4" height="28" fill="#de9383"/>
<rect x="1070" y="485" width="4" height="62" fill="#8ab977"/>
<rect x="1070" y="319" width="4" height="164" rx="2" fill="#7683a6"/><rect x="1070" y="322" width="4" height="161" fill="#7683a6"/>
<rect x="1076" y="337" width="8" height="490" fill="#fff"/>
<rect x="1078" y="823" width="4" height="4" fill="#ffffff"/>
<rect x="1078" y="819" width="4" height="2" fill="#51ede9"/>
<rect x="1078" y="813" width="4" height="4" fill="#4667d7"/>
<rect x="1078" y="807" width="4" height="4" fill="#41b14f"/>
<rect x="1078" y="801" width="4" height="4" fill="#e51d4c"/>
<rect x="1078" y="785" width="4" height="14" fill="#4a5a7c"/>
<rect x="1078" y="771" width="4" height="12" fill="#fde03c"/>
<rect x="1078" y="759" width="4" height="10" fill="#8e27b1"/>
<rect x="1078" y="743" width="4" height="14" fill="#f2853d"/>
<rect x="1078" y="719" width="4" height="22" fill="#fb221b"/>
<rect x="1078" y="695" width="4" height="22" fill="#5fcd93"/>
<rect x="1078" y="667" width="4" height="26" fill="#0f7f80"/>
<rect x="1078" y="641" width="4" height="24" fill="#a94046"/>
<rect x="1078" y="607" width="4" height="32" fill="#b5656b"/>
<rect x="1078" y="577" width="4" height="28" fill="#de9383"/>
<rect x="1078" y="509" width="4" height="66" fill="#8ab977"/>
<rect x="1078" y="339" width="4" height="168" rx="2" fill="#7683a6"/><rect x="1078" y="342" width="4" height="165" fill="#7683a6"/>
<rect x="1082" y="341" width="8" height="486" fill="#fff"/>
<rect x="1084" y="823" width="4" height="4" fill="#ffffff"/>
<rect x="1084" y="819" width="4" height="2" fill="#51ede9"/>
<rect x="1084" y="813" width="4" height="4" fill="#4667d7"/>
<rect x="1084" y="807" width="4" height="4" fill="#41b14f"/>
<rect x="1084" y="801" width="4" height="4" fill="#e51d4c"/>
<rect x="1084" y="785" width="4" height="14" fill="#4a5a7c"/>
<rect x="1084" y="771" width="4" height="12" fill="#fde03c"/>
<rect x="1084" y="759" width="4" height="10" fill="#8e27b1"/>
<rect x="1084" y="745" width="4" height="12" fill="#f2853d"/>
<rect x="1084" y="721" width="4" height="22" fill="#fb221b"/>
<rect x="1084" y="695" width="4" height="24" fill="#5fcd93"/>
<rect x="1084" y="667" width="4" height="26" fill="#0f7f80"/>
<rect x="1084" y="639" width="4" height="26" fill="#a94046"/>
<rect x="1084" y="605" width="4" height="32" fill="#b5656b"/>
<rect x="1084" y="575" width="4" height="28" fill="#de9383"/>
<rect x="1084" y="507" width="4" height="66" fill="#8ab977"/>
<rect x="1084" y="343" width="4" height="162" rx="2" fill="#7683a6"/><rect x="1084" y="346" width="4" height="159" fill="#7683a6"/>
<rect x="1090" y="281" width="8" height="546" fill="#fff"/>
<rect x="1092" y="819" width="4" height="8" fill="#e6c3fb"/>
<rect x="1092" y="815" width="4" height="2" fill="#ffffff"/>
<rect x="1092" y="811" width="4" height="2" fill="#51ede9"/>
<rect x="1092" y="805" width="4" height="4" fill="#4667d7"/>
<rect x="1092" y="799" width="4" height="4" fill="#41b14f"/>
<rect x="1092" y="793" width="4" height="4" fill="#e51d4c"/>
<rect x="1092" y="775" width="4" height="16" fill="#4a5a7c"/>
<rect x="1092" y="743" width="4" height="30" fill="#265c8d"/>
<rect x="1092" y="729" width="4" height="12" fill="#fde03c"/>
<rect x="1092" y="717" width="4" height="10" fill="#8e27b1"/>
<rect x="1092" y="699" width="4" height="16" fill="#f2853d"/>
<rect x="1092" y="675" width="4" height="22" fill="#fb221b"/>
<rect x="1092" y="649" width="4" height="24" fill="#5fcd93"/>
<rect x="1092" y="621" width="4" height="26" fill="#0f7f80"/>
<rect x="1092" y="591" width="4" height="28" fill="#a94046"/>
<rect x="1092" y="557" width="4" height="32" fill="#b5656b"/>
<rect x="1092" y="527" width="4" height="28" fill="#de9383"/>
<rect x="1092" y="457" width="4" height="68" fill="#8ab977"/>
<rect x="1092" y="283" width="4" height="172" rx="2" fill="#7683a6"/><rect x="1092" y="286" width="4" height="169" fill="#7683a6"/>
<rect x="1098" y="335" width="8" height="492" fill="#fff"/>
<rect x="1100" y="823" width="4" height="4" fill="#ffffff"/>
<rect x="1100" y="819" width="4" height="2" fill="#51ede9"/>
<rect x="1100" y="813" width="4" height="4" fill="#4667d7"/>
<rect x="1100" y="807" width="4" height="4" fill="#41b14f"/>
<rect x="1100" y="801" width="4" height="4" fill="#e51d4c"/>
<rect x="1100" y="783" width="4" height="16" fill="#4a5a7c"/>
<rect x="1100" y="769" width="4" height="12" fill="#fde03c"/>
<rect x="1100" y="757" width="4" height="10" fill="#8e27b1"/>
<rect x="1100" y="741" width="4" height="14" fill="#f2853d"/>
<rect x="1100" y="717" width="4" height="22" fill="#fb221b"/>
<rect x="1100" y="691" width="4" height="24" fill="#5fcd93"/>
<rect x="1100" y="663" width="4" height="26" fill="#0f7f80"/>
<rect x="1100" y="635" width="4" height="26" fill="#a94046"/>
<rect x="1100" y="601" width="4" height="32" fill="#b5656b"/>
<rect x="1100" y="569" width="4" height="30" fill="#de9383"/>
<rect x="1100" y="501" width="4" height="66" fill="#8ab977"/>
<rect x="1100" y="337" width="4" height="162" rx="2" fill="#7683a6"/><rect x="1100" y="340" width="4" height="159" fill="#7683a6"/>
<rect x="1106" y="347" width="8" height="480" fill="#fff"/>
<rect x="1108" y="823" width="4" height="4" fill="#ffffff"/>
<rect x="1108" y="819" width="4" height="2" fill="#51ede9"/>
<rect x="1108" y="813" width="4" height="4" fill="#4667d7"/>
<rect x="1108" y="807" width="4" height="4" fill="#41b14f"/>
<rect x="1108" y="801" width="4" height="4" fill="#e51d4c"/>
<rect x="1108" y="783" width="4" height="16" fill="#4a5a7c"/>
<rect x="1108" y="769" width="4" height="12" fill="#fde03c"/>
<rect x="1108" y="757" width="4" height="10" fill="#8e27b1"/>
<rect x="1108" y="741" width="4" height="14" fill="#f2853d"/>
<rect x="1108" y="719" width="4" height="20" fill="#fb221b"/>
<rect x="1108" y="693" width="4" height="24" fill="#5fcd93"/>
<rect x="1108" y="665" width="4" height="26" fill="#0f7f80"/>
<rect x="1108" y="637" width="4" height="26" fill="#a94046"/>
<rect x="1108" y="605" width="4" height="30" fill="#b5656b"/>
<rect x="1108" y="573" width="4" height="30" fill="#de9383"/>
<rect x="1108" y="507" width="4" height="64" fill="#8ab977"/>
<rect x="1108" y="349" width="4" height="156" rx="2" fill="#7683a6"/><rect x="1108" y="352" width="4" height="153" fill="#7683a6"/>
<rect x="1114" y="367" width="8" height="460" fill="#fff"/>
<rect x="1116" y="823" width="4" height="4" fill="#ffffff"/>
<rect x="1116" y="819" width="4" height="2" fill="#51ede9"/>
<rect x="1116" y="813" width="4" height="4" fill="#4667d7"/>
<rect x="1116" y="807" width="4" height="4" fill="#41b14f"/>
<rect x="1116" y="801" width="4" height="4" fill="#e51d4c"/>
<rect x="1116" y="785" width="4" height="14" fill="#4a5a7c"/>
<rect x="1116" y="753" width="4" height="30" fill="#265c8d"/>
<rect x="1116" y="739" width="4" height="12" fill="#fde03c"/>
<rect x="1116" y="727" width="4" height="10" fill="#8e27b1"/>
<rect x="1116" y="713" width="4" height="12" fill="#f2853d"/>
<rect x="1116" y="693" width="4" height="18" fill="#fb221b"/>
<rect x="1116" y="669" width="4" height="22" fill="#5fcd93"/>
<rect x="1116" y="641" width="4" height="26" fill="#0f7f80"/>
<rect x="1116" y="617" width="4" height="22" fill="#a94046"/>
<rect x="1116" y="587" width="4" height="28" fill="#b5656b"/>
<rect x="1116" y="559" width="4" height="26" fill="#de9383"/>
<rect x="1116" y="503" width="4" height="54" fill="#8ab977"/>
<rect x="1116" y="369" width="4" height="132" rx="2" fill="#7683a6"/><rect x="1116" y="372" width="4" height="129" fill="#7683a6"/>
<rect x="1122" y="399" width="8" height="428" fill="#fff"/>
<rect x="1124" y="823" width="4" height="4" fill="#ffffff"/>
<rect x="1124" y="819" width="4" height="2" fill="#51ede9"/>
<rect x="1124" y="813" width="4" height="4" fill="#4667d7"/>
<rect x="1124" y="807" width="4" height="4" fill="#41b14f"/>
<rect x="1124" y="801" width="4" height="4" fill="#e51d4c"/>
<rect x="1124" y="783" width="4" height="16" fill="#4a5a7c"/>
<rect x="1124" y="771" width="4" height="10" fill="#fde03c"/>
<rect x="1124" y="757" width="4" height="12" fill="#8e27b1"/>
<rect x="1124" y="743" width="4" height="12" fill="#f2853d"/>
<rect x="1124" y="721" width="4" height="20" fill="#fb221b"/>
<rect x="1124" y="695" width="4" height="24" fill="#5fcd93"/>
<rect x="1124" y="669" width="4" height="24" fill="#0f7f80"/>
<rect x="1124" y="645" width="4" height="22" fill="#a94046"/>
<rect x="1124" y="611" width="4" height="32" fill="#b5656b"/>
<rect x="1124" y="579" width="4" height="30" fill="#de9383"/>
<rect x="1124" y="525" width="4" height="52" fill="#8ab977"/>
<rect x="1124" y="401" width="4" height="122" rx="2" fill="#7683a6"/><rect x="1124" y="404" width="4" height="119" fill="#7683a6"/>
<rect x="1130" y="375" width="8" height="452" fill="#fff"/>
<rect x="1132" y="823" width="4" height="4" fill="#ffffff"/>
<rect x="1132" y="819" width="4" height="2" fill="#51ede9"/>
<rect x="1132" y="813" width="4" height="4" fill="#4667d7"/>
<rect x="1132" y="807" width="4" height="4" fill="#41b14f"/>
<rect x="1132" y="801" width="4" height="4" fill="#e51d4c"/>
<rect x="1132" y="783" width="4" height="16" fill="#4a5a7c"/>
<rect x="1132" y="769" width="4" height="12" fill="#fde03c"/>
<rect x="1132" y="755" width="4" height="12" fill="#8e27b1"/>
<rect x="1132" y="739" width="4" height="14" fill="#f2853d"/>
<rect x="1132" y="715" width="4" height="22" fill="#fb221b"/>
<rect x="1132" y="691" width="4" height="22" fill="#5fcd93"/>
<rect x="1132" y="663" width="4" height="26" fill="#0f7f80"/>
<rect x="1132" y="637" width="4" height="24" fill="#a94046"/>
<rect x="1132" y="601" width="4" height="34" fill="#b5656b"/>
<rect x="1132" y="567" width="4" height="32" fill="#de9383"/>
<rect x="1132" y="507" width="4" height="58" fill="#8ab977"/>
<rect x="1132" y="377" width="4" height="128" rx="2" fill="#7683a6"/><rect x="1132" y="380" width="4" height="125" fill="#7683a6"/>
<rect x="1138" y="337" width="8" height="490" fill="#fff"/>
<rect x="1140" y="823" width="4" height="4" fill="#ffffff"/>
<rect x="1140" y="817" width="4" height="4" fill="#51ede9"/>
<rect x="1140" y="813" width="4" height="2" fill="#4667d7"/>
<rect x="1140" y="807" width="4" height="4" fill="#41b14f"/>
<rect x="1140" y="799" width="4" height="6" fill="#e51d4c"/>
<rect x="1140" y="783" width="4" height="14" fill="#4a5a7c"/>
<rect x="1140" y="749" width="4" height="32" fill="#265c8d"/>
<rect x="1140" y="735" width="4" height="12" fill="#fde03c"/>
<rect x="1140" y="721" width="4" height="12" fill="#8e27b1"/>
<rect x="1140" y="705" width="4" height="14" fill="#f2853d"/>
<rect x="1140" y="681" width="4" height="22" fill="#fb221b"/>
<rect x="1140" y="657" width="4" height="22" fill="#5fcd93"/>
<rect x="1140" y="627" width="4" height="28" fill="#0f7f80"/>
<rect x="1140" y="601" width="4" height="24" fill="#a94046"/>
<rect x="1140" y="563" width="4" height="36" fill="#b5656b"/>
<rect x="1140" y="529" width="4" height="32" fill="#de9383"/>
<rect x="1140" y="471" width="4" height="56" fill="#8ab977"/>
<rect x="1140" y="339" width="4" height="130" rx="2" fill="#7683a6"/><rect x="1140" y="342" width="4" height="127" fill="#7683a6"/>
<rect x="1144" y="355" width="8" height="472" fill="#fff"/>
<rect x="1146" y="823" width="4" height="4" fill="#ffffff"/>
<rect x="1146" y="817" width="4" height="4" fill="#51ede9"/>
<rect x="1146" y="813" width="4" height="2" fill="#4667d7"/>
<rect x="1146" y="807" width="4" height="4" fill="#41b14f"/>
<rect x="1146" y="799" width="4" height="6" fill="#e51d4c"/>
<rect x="1146" y="781" width="4" height="16" fill="#4a5a7c"/>
<rect x="1146" y="765" width="4" height="14" fill="#fde03c"/>
<rect x="1146" y="749" width="4" height="14" fill="#8e27b1"/>
<rect x="1146" y="735" width="4" height="12" fill="#f2853d"/>
<rect x="1146" y="711" width="4" height="22" fill="#fb221b"/>
<rect x="1146" y="685" width="4" height="24" fill="#5fcd93"/>
<rect x="1146" y="655" width="4" height="28" fill="#0f7f80"/>
<rect x="1146" y="629" width="4" height="24" fill="#a94046"/>
<rect x="1146" y="591" width="4" height="36" fill="#b5656b"/>
<rect x="1146" y="555" width="4" height="34" fill="#de9383"/>
<rect x="1146" y="493" width="4" height="60" fill="#8ab977"/>
<rect x="1146" y="357" width="4" height="134" rx="2" fill="#7683a6"/><rect x="1146" y="360" width="4" height="131" fill="#7683a6"/>
<rect x="1152" y="353" width="8" height="474" fill="#fff"/>
<rect x="1154" y="823" width="4" height="4" fill="#ffffff"/>
<rect x="1154" y="817" width="4" height="4" fill="#51ede9"/>
<rect x="1154" y="813" width="4" height="2" fill="#4667d7"/>
<rect x="1154" y="807" width="4" height="4" fill="#41b14f"/>
<rect x="1154" y="799" width="4" height="6" fill="#e51d4c"/>
<rect x="1154" y="779" width="4" height="18" fill="#4a5a7c"/>
<rect x="1154" y="765" width="4" height="12" fill="#fde03c"/>
<rect x="1154" y="747" width="4" height="16" fill="#8e27b1"/>
<rect x="1154" y="733" width="4" height="12" fill="#f2853d"/>
<rect x="1154" y="709" width="4" height="22" fill="#fb221b"/>
<rect x="1154" y="683" width="4" height="24" fill="#5fcd93"/>
<rect x="1154" y="653" width="4" height="28" fill="#0f7f80"/>
<rect x="1154" y="625" width="4" height="26" fill="#a94046"/>
<rect x="1154" y="585" width="4" height="38" fill="#b5656b"/>
<rect x="1154" y="549" width="4" height="34" fill="#de9383"/>
<rect x="1154" y="485" width="4" height="62" fill="#8ab977"/>
<rect x="1154" y="355" width="4" height="128" rx="2" fill="#7683a6"/><rect x="1154" y="358" width="4" height="125" fill="#7683a6"/>
<rect x="1160" y="321" width="8" height="506" fill="#fff"/>
<rect x="1162" y="823" width="4" height="4" fill="#ffffff"/>
<rect x="1162" y="817" width="4" height="4" fill="#51ede9"/>
<rect x="1162" y="813" width="4" height="2" fill="#4667d7"/>
<rect x="1162" y="807" width="4" height="4" fill="#41b14f"/>
<rect x="1162" y="799" width="4" height="6" fill="#e51d4c"/>
<rect x="1162" y="781" width="4" height="16" fill="#4a5a7c"/>
<rect x="1162" y="745" width="4" height="34" fill="#265c8d"/>
<rect x="1162" y="731" width="4" height="12" fill="#fde03c"/>
<rect x="1162" y="715" width="4" height="14" fill="#8e27b1"/>
<rect x="1162" y="699" width="4" height="14" fill="#f2853d"/>
<rect x="1162" y="675" width="4" height="22" fill="#fb221b"/>
<rect x="1162" y="651" width="4" height="22" fill="#5fcd93"/>
<rect x="1162" y="621" width="4" height="28" fill="#0f7f80"/>
<rect x="1162" y="591" width="4" height="28" fill="#a94046"/>
<rect x="1162" y="551" width="4" height="38" fill="#b5656b"/>
<rect x="1162" y="517" width="4" height="32" fill="#de9383"/>
<rect x="1162" y="453" width="4" height="62" fill="#8ab977"/>
<rect x="1162" y="323" width="4" height="128" rx="2" fill="#7683a6"/><rect x="1162" y="326" width="4" height="125" fill="#7683a6"/>
<rect x="1168" y="347" width="8" height="480" fill="#fff"/>
<rect x="1170" y="823" width="4" height="4" fill="#ffffff"/>
<rect x="1170" y="817" width="4" height="4" fill="#51ede9"/>
<rect x="1170" y="813" width="4" height="2" fill="#4667d7"/>
<rect x="1170" y="807" width="4" height="4" fill="#41b14f"/>
<rect x="1170" y="799" width="4" height="6" fill="#e51d4c"/>
<rect x="1170" y="781" width="4" height="16" fill="#4a5a7c"/>
<rect x="1170" y="765" width="4" height="14" fill="#fde03c"/>
<rect x="1170" y="751" width="4" height="12" fill="#8e27b1"/>
<rect x="1170" y="735" width="4" height="14" fill="#f2853d"/>
<rect x="1170" y="707" width="4" height="26" fill="#fb221b"/>
<rect x="1170" y="685" width="4" height="20" fill="#5fcd93"/>
<rect x="1170" y="655" width="4" height="28" fill="#0f7f80"/>
<rect x="1170" y="625" width="4" height="28" fill="#a94046"/>
<rect x="1170" y="581" width="4" height="42" fill="#b5656b"/>
<rect x="1170" y="547" width="4" height="32" fill="#de9383"/>
<rect x="1170" y="481" width="4" height="64" fill="#8ab977"/>
<rect x="1170" y="349" width="4" height="130" rx="2" fill="#7683a6"/><rect x="1170" y="352" width="4" height="127" fill="#7683a6"/>
<rect x="1176" y="309" width="8" height="518" fill="#fff"/>
<rect x="1178" y="823" width="4" height="4" fill="#ffffff"/>
<rect x="1178" y="817" width="4" height="4" fill="#51ede9"/>
<rect x="1178" y="813" width="4" height="2" fill="#4667d7"/>
<rect x="1178" y="807" width="4" height="4" fill="#41b14f"/>
<rect x="1178" y="797" width="4" height="8" fill="#e51d4c"/>
<rect x="1178" y="779" width="4" height="16" fill="#4a5a7c"/>
<rect x="1178" y="763" width="4" height="14" fill="#fde03c"/>
<rect x="1178" y="747" width="4" height="14" fill="#8e27b1"/>
<rect x="1178" y="731" width="4" height="14" fill="#f2853d"/>
<rect x="1178" y="701" width="4" height="28" fill="#fb221b"/>
<rect x="1178" y="677" width="4" height="22" fill="#5fcd93"/>
<rect x="1178" y="645" width="4" height="30" fill="#0f7f80"/>
<rect x="1178" y="613" width="4" height="30" fill="#a94046"/>
<rect x="1178" y="567" width="4" height="44" fill="#b5656b"/>
<rect x="1178" y="531" width="4" height="34" fill="#de9383"/>
<rect x="1178" y="459" width="4" height="70" fill="#8ab977"/>
<rect x="1178" y="311" width="4" height="146" rx="2" fill="#7683a6"/><rect x="1178" y="314" width="4" height="143" fill="#7683a6"/>
<rect x="1184" y="245" width="8" height="582" fill="#fff"/>
<rect x="1186" y="821" width="4" height="6" fill="#e6c3fb"/>
<rect x="1186" y="815" width="4" height="4" fill="#ffffff"/>
<rect x="1186" y="809" width="4" height="4" fill="#51ede9"/>
<rect x="1186" y="805" width="4" height="2" fill="#4667d7"/>
<rect x="1186" y="799" width="4" height="4" fill="#41b14f"/>
<rect x="1186" y="789" width="4" height="8" fill="#e51d4c"/>
<rect x="1186" y="771" width="4" height="16" fill="#4a5a7c"/>
<rect x="1186" y="735" width="4" height="34" fill="#265c8d"/>
<rect x="1186" y="719" width="4" height="14" fill="#fde03c"/>
<rect x="1186" y="703" width="4" height="14" fill="#8e27b1"/>
<rect x="1186" y="685" width="4" height="16" fill="#f2853d"/>
<rect x="1186" y="653" width="4" height="30" fill="#fb221b"/>
<rect x="1186" y="629" width="4" height="22" fill="#5fcd93"/>
<rect x="1186" y="597" width="4" height="30" fill="#0f7f80"/>
<rect x="1186" y="561" width="4" height="34" fill="#a94046"/>
<rect x="1186" y="513" width="4" height="46" fill="#b5656b"/>
<rect x="1186" y="477" width="4" height="34" fill="#de9383"/>
<rect x="1186" y="405" width="4" height="70" fill="#8ab977"/>
<rect x="1186" y="247" width="4" height="156" rx="2" fill="#7683a6"/><rect x="1186" y="250" width="4" height="153" fill="#7683a6"/>
<rect x="1192" y="295" width="8" height="532" fill="#fff"/>
<rect x="1194" y="823" width="4" height="4" fill="#ffffff"/>
<rect x="1194" y="817" width="4" height="4" fill="#51ede9"/>
<rect x="1194" y="811" width="4" height="4" fill="#4667d7"/>
<rect x="1194" y="805" width="4" height="4" fill="#41b14f"/>
<rect x="1194" y="797" width="4" height="6" fill="#e51d4c"/>
<rect x="1194" y="779" width="4" height="16" fill="#4a5a7c"/>
<rect x="1194" y="761" width="4" height="16" fill="#fde03c"/>
<rect x="1194" y="745" width="4" height="14" fill="#8e27b1"/>
<rect x="1194" y="729" width="4" height="14" fill="#f2853d"/>
<rect x="1194" y="697" width="4" height="30" fill="#fb221b"/>
<rect x="1194" y="673" width="4" height="22" fill="#5fcd93"/>
<rect x="1194" y="639" width="4" height="32" fill="#0f7f80"/>
<rect x="1194" y="605" width="4" height="32" fill="#a94046"/>
<rect x="1194" y="557" width="4" height="46" fill="#b5656b"/>
<rect x="1194" y="521" width="4" height="34" fill="#de9383"/>
<rect x="1194" y="449" width="4" height="70" fill="#8ab977"/>
<rect x="1194" y="297" width="4" height="150" rx="2" fill="#7683a6"/><rect x="1194" y="300" width="4" height="147" fill="#7683a6"/>
<rect x="1198" y="291" width="8" height="536" fill="#fff"/>
<rect x="1200" y="823" width="4" height="4" fill="#ffffff"/>
<rect x="1200" y="817" width="4" height="4" fill="#51ede9"/>
<rect x="1200" y="811" width="4" height="4" fill="#4667d7"/>
<rect x="1200" y="805" width="4" height="4" fill="#41b14f"/>
<rect x="1200" y="795" width="4" height="8" fill="#e51d4c"/>
<rect x="1200" y="779" width="4" height="14" fill="#4a5a7c"/>
<rect x="1200" y="761" width="4" height="16" fill="#fde03c"/>
<rect x="1200" y="745" width="4" height="14" fill="#8e27b1"/>
<rect x="1200" y="729" width="4" height="14" fill="#f2853d"/>
<rect x="1200" y="697" width="4" height="30" fill="#fb221b"/>
<rect x="1200" y="671" width="4" height="24" fill="#5fcd93"/>
<rect x="1200" y="639" width="4" height="30" fill="#0f7f80"/>
<rect x="1200" y="603" width="4" height="34" fill="#a94046"/>
<rect x="1200" y="553" width="4" height="48" fill="#b5656b"/>
<rect x="1200" y="517" width="4" height="34" fill="#de9383"/>
<rect x="1200" y="445" width="4" height="70" fill="#8ab977"/>
<rect x="1200" y="293" width="4" height="150" rx="2" fill="#7683a6"/><rect x="1200" y="296" width="4" height="147" fill="#7683a6"/>
<rect x="1206" y="255" width="8" height="572" fill="#fff"/>
<rect x="1208" y="823" width="4" height="4" fill="#ffffff"/>
<rect x="1208" y="817" width="4" height="4" fill="#51ede9"/>
<rect x="1208" y="811" width="4" height="4" fill="#4667d7"/>
<rect x="1208" y="805" width="4" height="4" fill="#41b14f"/>
<rect x="1208" y="797" width="4" height="6" fill="#e51d4c"/>
<rect x="1208" y="779" width="4" height="16" fill="#4a5a7c"/>
<rect x="1208" y="743" width="4" height="34" fill="#265c8d"/>
<rect x="1208" y="725" width="4" height="16" fill="#fde03c"/>
<rect x="1208" y="709" width="4" height="14" fill="#8e27b1"/>
<rect x="1208" y="691" width="4" height="16" fill="#f2853d"/>
<rect x="1208" y="659" width="4" height="30" fill="#fb221b"/>
<rect x="1208" y="635" width="4" height="22" fill="#5fcd93"/>
<rect x="1208" y="603" width="4" height="30" fill="#0f7f80"/>
<rect x="1208" y="567" width="4" height="34" fill="#a94046"/>
<rect x="1208" y="517" width="4" height="48" fill="#b5656b"/>
<rect x="1208" y="483" width="4" height="32" fill="#de9383"/>
<rect x="1208" y="409" width="4" height="72" fill="#8ab977"/>
<rect x="1208" y="257" width="4" height="150" rx="2" fill="#7683a6"/><rect x="1208" y="260" width="4" height="147" fill="#7683a6"/>
<rect x="1214" y="281" width="8" height="546" fill="#fff"/>
<rect x="1216" y="823" width="4" height="4" fill="#ffffff"/>
<rect x="1216" y="817" width="4" height="4" fill="#51ede9"/>
<rect x="1216" y="811" width="4" height="4" fill="#4667d7"/>
<rect x="1216" y="805" width="4" height="4" fill="#41b14f"/>
<rect x="1216" y="797" width="4" height="6" fill="#e51d4c"/>
<rect x="1216" y="779" width="4" height="16" fill="#4a5a7c"/>
<rect x="1216" y="761" width="4" height="16" fill="#fde03c"/>
<rect x="1216" y="743" width="4" height="16" fill="#8e27b1"/>
<rect x="1216" y="727" width="4" height="14" fill="#f2853d"/>
<rect x="1216" y="693" width="4" height="32" fill="#fb221b"/>
<rect x="1216" y="669" width="4" height="22" fill="#5fcd93"/>
<rect x="1216" y="637" width="4" height="30" fill="#0f7f80"/>
<rect x="1216" y="601" width="4" height="34" fill="#a94046"/>
<rect x="1216" y="549" width="4" height="50" fill="#b5656b"/>
<rect x="1216" y="513" width="4" height="34" fill="#de9383"/>
<rect x="1216" y="437" width="4" height="74" fill="#8ab977"/>
<rect x="1216" y="283" width="4" height="152" rx="2" fill="#7683a6"/><rect x="1216" y="286" width="4" height="149" fill="#7683a6"/>
<rect x="1222" y="263" width="8" height="564" fill="#fff"/>
<rect x="1224" y="823" width="4" height="4" fill="#ffffff"/>
<rect x="1224" y="817" width="4" height="4" fill="#51ede9"/>
<rect x="1224" y="811" width="4" height="4" fill="#4667d7"/>
<rect x="1224" y="805" width="4" height="4" fill="#41b14f"/>
<rect x="1224" y="795" width="4" height="8" fill="#e51d4c"/>
<rect x="1224" y="779" width="4" height="14" fill="#4a5a7c"/>
<rect x="1224" y="759" width="4" height="18" fill="#fde03c"/>
<rect x="1224" y="741" width="4" height="16" fill="#8e27b1"/>
<rect x="1224" y="723" width="4" height="16" fill="#f2853d"/>
<rect x="1224" y="689" width="4" height="32" fill="#fb221b"/>
<rect x="1224" y="665" width="4" height="22" fill="#5fcd93"/>
<rect x="1224" y="633" width="4" height="30" fill="#0f7f80"/>
<rect x="1224" y="593" width="4" height="38" fill="#a94046"/>
<rect x="1224" y="543" width="4" height="48" fill="#b5656b"/>
<rect x="1224" y="505" width="4" height="36" fill="#de9383"/>
<rect x="1224" y="427" width="4" height="76" fill="#8ab977"/>
<rect x="1224" y="265" width="4" height="160" rx="2" fill="#7683a6"/><rect x="1224" y="268" width="4" height="157" fill="#7683a6"/>
<rect x="1230" y="215" width="8" height="612" fill="#fff"/>
<rect x="1232" y="823" width="4" height="4" fill="#ffffff"/>
<rect x="1232" y="817" width="4" height="4" fill="#51ede9"/>
<rect x="1232" y="811" width="4" height="4" fill="#4667d7"/>
<rect x="1232" y="805" width="4" height="4" fill="#41b14f"/>
<rect x="1232" y="797" width="4" height="6" fill="#e51d4c"/>
<rect x="1232" y="777" width="4" height="18" fill="#4a5a7c"/>
<rect x="1232" y="739" width="4" height="36" fill="#265c8d"/>
<rect x="1232" y="721" width="4" height="16" fill="#fde03c"/>
<rect x="1232" y="703" width="4" height="16" fill="#8e27b1"/>
<rect x="1232" y="685" width="4" height="16" fill="#f2853d"/>
<rect x="1232" y="649" width="4" height="34" fill="#fb221b"/>
<rect x="1232" y="627" width="4" height="20" fill="#5fcd93"/>
<rect x="1232" y="595" width="4" height="30" fill="#0f7f80"/>
<rect x="1232" y="557" width="4" height="36" fill="#a94046"/>
<rect x="1232" y="507" width="4" height="48" fill="#b5656b"/>
<rect x="1232" y="469" width="4" height="36" fill="#de9383"/>
<rect x="1232" y="393" width="4" height="74" fill="#8ab977"/>
<rect x="1232" y="217" width="4" height="174" rx="2" fill="#7683a6"/><rect x="1232" y="220" width="4" height="171" fill="#7683a6"/>
<rect x="1238" y="259" width="8" height="568" fill="#fff"/>
<rect x="1240" y="823" width="4" height="4" fill="#ffffff"/>
<rect x="1240" y="817" width="4" height="4" fill="#51ede9"/>
<rect x="1240" y="811" width="4" height="4" fill="#4667d7"/>
<rect x="1240" y="805" width="4" height="4" fill="#41b14f"/>
<rect x="1240" y="795" width="4" height="8" fill="#e51d4c"/>
<rect x="1240" y="777" width="4" height="16" fill="#4a5a7c"/>
<rect x="1240" y="761" width="4" height="14" fill="#fde03c"/>
<rect x="1240" y="741" width="4" height="18" fill="#8e27b1"/>
<rect x="1240" y="725" width="4" height="14" fill="#f2853d"/>
<rect x="1240" y="689" width="4" height="34" fill="#fb221b"/>
<rect x="1240" y="665" width="4" height="22" fill="#5fcd93"/>
<rect x="1240" y="633" width="4" height="30" fill="#0f7f80"/>
<rect x="1240" y="595" width="4" height="36" fill="#a94046"/>
<rect x="1240" y="545" width="4" height="48" fill="#b5656b"/>
<rect x="1240" y="509" width="4" height="34" fill="#de9383"/>
<rect x="1240" y="431" width="4" height="76" fill="#8ab977"/>
<rect x="1240" y="261" width="4" height="168" rx="2" fill="#7683a6"/><rect x="1240" y="264" width="4" height="165" fill="#7683a6"/>
<rect x="1246" y="249" width="8" height="578" fill="#fff"/>
<rect x="1248" y="823" width="4" height="4" fill="#ffffff"/>
<rect x="1248" y="817" width="4" height="4" fill="#51ede9"/>
<rect x="1248" y="811" width="4" height="4" fill="#4667d7"/>
<rect x="1248" y="805" width="4" height="4" fill="#41b14f"/>
<rect x="1248" y="795" width="4" height="8" fill="#e51d4c"/>
<rect x="1248" y="779" width="4" height="14" fill="#4a5a7c"/>
<rect x="1248" y="761" width="4" height="16" fill="#fde03c"/>
<rect x="1248" y="743" width="4" height="16" fill="#8e27b1"/>
<rect x="1248" y="725" width="4" height="16" fill="#f2853d"/>
<rect x="1248" y="689" width="4" height="34" fill="#fb221b"/>
<rect x="1248" y="663" width="4" height="24" fill="#5fcd93"/>
<rect x="1248" y="631" width="4" height="30" fill="#0f7f80"/>
<rect x="1248" y="593" width="4" height="36" fill="#a94046"/>
<rect x="1248" y="541" width="4" height="50" fill="#b5656b"/>
<rect x="1248" y="503" width="4" height="36" fill="#de9383"/>
<rect x="1248" y="427" width="4" height="74" fill="#8ab977"/>
<rect x="1248" y="251" width="4" height="174" rx="2" fill="#7683a6"/><rect x="1248" y="254" width="4" height="171" fill="#7683a6"/>
<rect x="1254" y="229" width="8" height="598" fill="#fff"/>
<rect x="1256" y="823" width="4" height="4" fill="#ffffff"/>
<rect x="1256" y="817" width="4" height="4" fill="#51ede9"/>
<rect x="1256" y="811" width="4" height="4" fill="#4667d7"/>
<rect x="1256" y="805" width="4" height="4" fill="#41b14f"/>
<rect x="1256" y="795" width="4" height="8" fill="#e51d4c"/>
<rect x="1256" y="779" width="4" height="14" fill="#4a5a7c"/>
<rect x="1256" y="741" width="4" height="36" fill="#265c8d"/>
<rect x="1256" y="723" width="4" height="16" fill="#fde03c"/>
<rect x="1256" y="705" width="4" height="16" fill="#8e27b1"/>
<rect x="1256" y="687" width="4" height="16" fill="#f2853d"/>
<rect x="1256" y="651" width="4" height="34" fill="#fb221b"/>
<rect x="1256" y="627" width="4" height="22" fill="#5fcd93"/>
<rect x="1256" y="597" width="4" height="28" fill="#0f7f80"/>
<rect x="1256" y="559" width="4" height="36" fill="#a94046"/>
<rect x="1256" y="505" width="4" height="52" fill="#b5656b"/>
<rect x="1256" y="469" width="4" height="34" fill="#de9383"/>
<rect x="1256" y="395" width="4" height="72" fill="#8ab977"/>
<rect x="1256" y="231" width="4" height="162" rx="2" fill="#7683a6"/><rect x="1256" y="234" width="4" height="159" fill="#7683a6"/>
<rect x="1260" y="273" width="8" height="554" fill="#fff"/>
<rect x="1262" y="823" width="4" height="4" fill="#ffffff"/>
<rect x="1262" y="817" width="4" height="4" fill="#51ede9"/>
<rect x="1262" y="811" width="4" height="4" fill="#4667d7"/>
<rect x="1262" y="805" width="4" height="4" fill="#41b14f"/>
<rect x="1262" y="795" width="4" height="8" fill="#e51d4c"/>
<rect x="1262" y="779" width="4" height="14" fill="#4a5a7c"/>
<rect x="1262" y="763" width="4" height="14" fill="#fde03c"/>
<rect x="1262" y="745" width="4" height="16" fill="#8e27b1"/>
<rect x="1262" y="727" width="4" height="16" fill="#f2853d"/>
<rect x="1262" y="689" width="4" height="36" fill="#fb221b"/>
<rect x="1262" y="667" width="4" height="20" fill="#5fcd93"/>
<rect x="1262" y="635" width="4" height="30" fill="#0f7f80"/>
<rect x="1262" y="597" width="4" height="36" fill="#a94046"/>
<rect x="1262" y="543" width="4" height="52" fill="#b5656b"/>
<rect x="1262" y="509" width="4" height="32" fill="#de9383"/>
<rect x="1262" y="431" width="4" height="76" fill="#8ab977"/>
<rect x="1262" y="275" width="4" height="154" rx="2" fill="#7683a6"/><rect x="1262" y="278" width="4" height="151" fill="#7683a6"/>
<rect x="1268" y="283" width="8" height="544" fill="#fff"/>
<rect x="1270" y="823" width="4" height="4" fill="#ffffff"/>
<rect x="1270" y="817" width="4" height="4" fill="#51ede9"/>
<rect x="1270" y="811" width="4" height="4" fill="#4667d7"/>
<rect x="1270" y="805" width="4" height="4" fill="#41b14f"/>
<rect x="1270" y="797" width="4" height="6" fill="#e51d4c"/>
<rect x="1270" y="781" width="4" height="14" fill="#4a5a7c"/>
<rect x="1270" y="765" width="4" height="14" fill="#fde03c"/>
<rect x="1270" y="747" width="4" height="16" fill="#8e27b1"/>
<rect x="1270" y="729" width="4" height="16" fill="#f2853d"/>
<rect x="1270" y="693" width="4" height="34" fill="#fb221b"/>
<rect x="1270" y="675" width="4" height="16" fill="#5fcd93"/>
<rect x="1270" y="643" width="4" height="30" fill="#0f7f80"/>
<rect x="1270" y="605" width="4" height="36" fill="#a94046"/>
<rect x="1270" y="553" width="4" height="50" fill="#b5656b"/>
<rect x="1270" y="519" width="4" height="32" fill="#de9383"/>
<rect x="1270" y="445" width="4" height="72" fill="#8ab977"/>
<rect x="1270" y="285" width="4" height="158" rx="2" fill="#7683a6"/><rect x="1270" y="288" width="4" height="155" fill="#7683a6"/>
<rect x="1276" y="233" width="8" height="594" fill="#fff"/>
<rect x="1278" y="823" width="4" height="4" fill="#ffffff"/>
<rect x="1278" y="817" width="4" height="4" fill="#51ede9"/>
<rect x="1278" y="811" width="4" height="4" fill="#4667d7"/>
<rect x="1278" y="805" width="4" height="4" fill="#41b14f"/>
<rect x="1278" y="795" width="4" height="8" fill="#e51d4c"/>
<rect x="1278" y="779" width="4" height="14" fill="#4a5a7c"/>
<rect x="1278" y="741" width="4" height="36" fill="#265c8d"/>
<rect x="1278" y="725" width="4" height="14" fill="#fde03c"/>
<rect x="1278" y="705" width="4" height="18" fill="#8e27b1"/>
<rect x="1278" y="689" width="4" height="14" fill="#f2853d"/>
<rect x="1278" y="653" width="4" height="34" fill="#fb221b"/>
<rect x="1278" y="635" width="4" height="16" fill="#5fcd93"/>
<rect x="1278" y="603" width="4" height="30" fill="#0f7f80"/>
<rect x="1278" y="567" width="4" height="34" fill="#a94046"/>
<rect x="1278" y="511" width="4" height="54" fill="#b5656b"/>
<rect x="1278" y="475" width="4" height="34" fill="#de9383"/>
<rect x="1278" y="399" width="4" height="74" fill="#8ab977"/>
<rect x="1278" y="235" width="4" height="162" rx="2" fill="#7683a6"/><rect x="1278" y="238" width="4" height="159" fill="#7683a6"/>
<rect x="1284" y="261" width="8" height="566" fill="#fff"/>
<rect x="1286" y="823" width="4" height="4" fill="#ffffff"/>
<rect x="1286" y="817" width="4" height="4" fill="#51ede9"/>
<rect x="1286" y="811" width="4" height="4" fill="#4667d7"/>
<rect x="1286" y="805" width="4" height="4" fill="#41b14f"/>
<rect x="1286" y="795" width="4" height="8" fill="#e51d4c"/>
<rect x="1286" y="779" width="4" height="14" fill="#4a5a7c"/>
<rect x="1286" y="763" width="4" height="14" fill="#fde03c"/>
<rect x="1286" y="745" width="4" height="16" fill="#8e27b1"/>
<rect x="1286" y="727" width="4" height="16" fill="#f2853d"/>
<rect x="1286" y="691" width="4" height="34" fill="#fb221b"/>
<rect x="1286" y="675" width="4" height="14" fill="#5fcd93"/>
<rect x="1286" y="641" width="4" height="32" fill="#0f7f80"/>
<rect x="1286" y="605" width="4" height="34" fill="#a94046"/>
<rect x="1286" y="549" width="4" height="54" fill="#b5656b"/>
<rect x="1286" y="513" width="4" height="34" fill="#de9383"/>
<rect x="1286" y="437" width="4" height="74" fill="#8ab977"/>
<rect x="1286" y="263" width="4" height="172" rx="2" fill="#7683a6"/><rect x="1286" y="266" width="4" height="169" fill="#7683a6"/>
<rect x="1292" y="257" width="8" height="570" fill="#fff"/>
<rect x="1294" y="823" width="4" height="4" fill="#ffffff"/>
<rect x="1294" y="817" width="4" height="4" fill="#51ede9"/>
<rect x="1294" y="811" width="4" height="4" fill="#4667d7"/>
<rect x="1294" y="805" width="4" height="4" fill="#41b14f"/>
<rect x="1294" y="795" width="4" height="8" fill="#e51d4c"/>
<rect x="1294" y="779" width="4" height="14" fill="#4a5a7c"/>
<rect x="1294" y="765" width="4" height="12" fill="#fde03c"/>
<rect x="1294" y="745" width="4" height="18" fill="#8e27b1"/>
<rect x="1294" y="727" width="4" height="16" fill="#f2853d"/>
<rect x="1294" y="701" width="4" height="24" fill="#fb221b"/>
<rect x="1294" y="683" width="4" height="16" fill="#5fcd93"/>
<rect x="1294" y="649" width="4" height="32" fill="#0f7f80"/>
<rect x="1294" y="611" width="4" height="36" fill="#a94046"/>
<rect x="1294" y="553" width="4" height="56" fill="#b5656b"/>
<rect x="1294" y="519" width="4" height="32" fill="#de9383"/>
<rect x="1294" y="443" width="4" height="74" fill="#8ab977"/>
<rect x="1294" y="259" width="4" height="182" rx="2" fill="#7683a6"/><rect x="1294" y="262" width="4" height="179" fill="#7683a6"/>
<rect x="1300" y="195" width="8" height="632" fill="#fff"/>
<rect x="1302" y="823" width="4" height="4" fill="#ffffff"/>
<rect x="1302" y="817" width="4" height="4" fill="#51ede9"/>
<rect x="1302" y="811" width="4" height="4" fill="#4667d7"/>
<rect x="1302" y="805" width="4" height="4" fill="#41b14f"/>
<rect x="1302" y="795" width="4" height="8" fill="#e51d4c"/>
<rect x="1302" y="783" width="4" height="10" fill="#4a5a7c"/>
<rect x="1302" y="743" width="4" height="38" fill="#265c8d"/>
<rect x="1302" y="727" width="4" height="14" fill="#fde03c"/>
<rect x="1302" y="707" width="4" height="18" fill="#8e27b1"/>
<rect x="1302" y="689" width="4" height="16" fill="#f2853d"/>
<rect x="1302" y="655" width="4" height="32" fill="#fb221b"/>
<rect x="1302" y="637" width="4" height="16" fill="#5fcd93"/>
<rect x="1302" y="603" width="4" height="32" fill="#0f7f80"/>
<rect x="1302" y="563" width="4" height="38" fill="#a94046"/>
<rect x="1302" y="505" width="4" height="56" fill="#b5656b"/>
<rect x="1302" y="471" width="4" height="32" fill="#de9383"/>
<rect x="1302" y="391" width="4" height="78" fill="#8ab977"/>
<rect x="1302" y="197" width="4" height="192" rx="2" fill="#7683a6"/><rect x="1302" y="200" width="4" height="189" fill="#7683a6"/>
<rect x="1308" y="249" width="8" height="578" fill="#fff"/>
<rect x="1310" y="823" width="4" height="4" fill="#ffffff"/>
<rect x="1310" y="817" width="4" height="4" fill="#51ede9"/>
<rect x="1310" y="811" width="4" height="4" fill="#4667d7"/>
<rect x="1310" y="805" width="4" height="4" fill="#41b14f"/>
<rect x="1310" y="797" width="4" height="6" fill="#e51d4c"/>
<rect x="1310" y="783" width="4" height="12" fill="#4a5a7c"/>
<rect x="1310" y="769" width="4" height="12" fill="#fde03c"/>
<rect x="1310" y="751" width="4" height="16" fill="#8e27b1"/>
<rect x="1310" y="731" width="4" height="18" fill="#f2853d"/>
<rect x="1310" y="693" width="4" height="36" fill="#fb221b"/>
<rect x="1310" y="677" width="4" height="14" fill="#5fcd93"/>
<rect x="1310" y="643" width="4" height="32" fill="#0f7f80"/>
<rect x="1310" y="605" width="4" height="36" fill="#a94046"/>
<rect x="1310" y="547" width="4" height="56" fill="#b5656b"/>
<rect x="1310" y="515" width="4" height="30" fill="#de9383"/>
<rect x="1310" y="437" width="4" height="76" fill="#8ab977"/>
<rect x="1310" y="251" width="4" height="184" rx="2" fill="#7683a6"/><rect x="1310" y="254" width="4" height="181" fill="#7683a6"/>
<rect x="1314" y="225" width="8" height="602" fill="#fff"/>
<rect x="1316" y="823" width="4" height="4" fill="#ffffff"/>
<rect x="1316" y="817" width="4" height="4" fill="#51ede9"/>
<rect x="1316" y="811" width="4" height="4" fill="#4667d7"/>
<rect x="1316" y="805" width="4" height="4" fill="#41b14f"/>
<rect x="1316" y="795" width="4" height="8" fill="#e51d4c"/>
<rect x="1316" y="783" width="4" height="10" fill="#4a5a7c"/>
<rect x="1316" y="769" width="4" height="12" fill="#fde03c"/>
<rect x="1316" y="751" width="4" height="16" fill="#8e27b1"/>
<rect x="1316" y="731" width="4" height="18" fill="#f2853d"/>
<rect x="1316" y="687" width="4" height="42" fill="#fb221b"/>
<rect x="1316" y="669" width="4" height="16" fill="#5fcd93"/>
<rect x="1316" y="635" width="4" height="32" fill="#0f7f80"/>
<rect x="1316" y="597" width="4" height="36" fill="#a94046"/>
<rect x="1316" y="541" width="4" height="54" fill="#b5656b"/>
<rect x="1316" y="507" width="4" height="32" fill="#de9383"/>
<rect x="1316" y="425" width="4" height="80" fill="#8ab977"/>
<rect x="1316" y="227" width="4" height="196" rx="2" fill="#7683a6"/><rect x="1316" y="230" width="4" height="193" fill="#7683a6"/>
<rect x="1322" y="199" width="8" height="628" fill="#fff"/>
<rect x="1324" y="823" width="4" height="4" fill="#ffffff"/>
<rect x="1324" y="815" width="4" height="6" fill="#51ede9"/>
<rect x="1324" y="809" width="4" height="4" fill="#4667d7"/>
<rect x="1324" y="803" width="4" height="4" fill="#41b14f"/>
<rect x="1324" y="795" width="4" height="6" fill="#e51d4c"/>
<rect x="1324" y="781" width="4" height="12" fill="#4a5a7c"/>
<rect x="1324" y="741" width="4" height="38" fill="#265c8d"/>
<rect x="1324" y="727" width="4" height="12" fill="#fde03c"/>
<rect x="1324" y="709" width="4" height="16" fill="#8e27b1"/>
<rect x="1324" y="691" width="4" height="16" fill="#f2853d"/>
<rect x="1324" y="641" width="4" height="48" fill="#fb221b"/>
<rect x="1324" y="623" width="4" height="16" fill="#5fcd93"/>
<rect x="1324" y="591" width="4" height="30" fill="#0f7f80"/>
<rect x="1324" y="553" width="4" height="36" fill="#a94046"/>
<rect x="1324" y="497" width="4" height="54" fill="#b5656b"/>
<rect x="1324" y="465" width="4" height="30" fill="#de9383"/>
<rect x="1324" y="385" width="4" height="78" fill="#8ab977"/>
<rect x="1324" y="201" width="4" height="182" rx="2" fill="#7683a6"/><rect x="1324" y="204" width="4" height="179" fill="#7683a6"/>
<rect x="1330" y="251" width="8" height="576" fill="#fff"/>
<rect x="1332" y="823" width="4" height="4" fill="#ffffff"/>
<rect x="1332" y="815" width="4" height="6" fill="#51ede9"/>
<rect x="1332" y="811" width="4" height="2" fill="#4667d7"/>
<rect x="1332" y="805" width="4" height="4" fill="#41b14f"/>
<rect x="1332" y="797" width="4" height="6" fill="#e51d4c"/>
<rect x="1332" y="783" width="4" height="12" fill="#4a5a7c"/>
<rect x="1332" y="771" width="4" height="10" fill="#fde03c"/>
<rect x="1332" y="753" width="4" height="16" fill="#8e27b1"/>
<rect x="1332" y="735" width="4" height="16" fill="#f2853d"/>
<rect x="1332" y="691" width="4" height="42" fill="#fb221b"/>
<rect x="1332" y="675" width="4" height="14" fill="#5fcd93"/>
<rect x="1332" y="641" width="4" height="32" fill="#0f7f80"/>
<rect x="1332" y="605" width="4" height="34" fill="#a94046"/>
<rect x="1332" y="549" width="4" height="54" fill="#b5656b"/>
<rect x="1332" y="517" width="4" height="30" fill="#de9383"/>
<rect x="1332" y="437" width="4" height="78" fill="#8ab977"/>
<rect x="1332" y="253" width="4" height="182" rx="2" fill="#7683a6"/><rect x="1332" y="256" width="4" height="179" fill="#7683a6"/>
<rect x="1338" y="247" width="8" height="580" fill="#fff"/>
<rect x="1340" y="823" width="4" height="4" fill="#ffffff"/>
<rect x="1340" y="815" width="4" height="6" fill="#51ede9"/>
<rect x="1340" y="811" width="4" height="2" fill="#4667d7"/>
<rect x="1340" y="805" width="4" height="4" fill="#41b14f"/>
<rect x="1340" y="795" width="4" height="8" fill="#e51d4c"/>
<rect x="1340" y="781" width="4" height="12" fill="#4a5a7c"/>
<rect x="1340" y="769" width="4" height="10" fill="#fde03c"/>
<rect x="1340" y="751" width="4" height="16" fill="#8e27b1"/>
<rect x="1340" y="733" width="4" height="16" fill="#f2853d"/>
<rect x="1340" y="689" width="4" height="42" fill="#fb221b"/>
<rect x="1340" y="673" width="4" height="14" fill="#5fcd93"/>
<rect x="1340" y="641" width="4" height="30" fill="#0f7f80"/>
<rect x="1340" y="603" width="4" height="36" fill="#a94046"/>
<rect x="1340" y="545" width="4" height="56" fill="#b5656b"/>
<rect x="1340" y="515" width="4" height="28" fill="#de9383"/>
<rect x="1340" y="433" width="4" height="80" fill="#8ab977"/>
<rect x="1340" y="249" width="4" height="182" rx="2" fill="#7683a6"/><rect x="1340" y="252" width="4" height="179" fill="#7683a6"/>
<rect x="1346" y="221" width="8" height="606" fill="#fff"/>
<rect x="1348" y="823" width="4" height="4" fill="#ffffff"/>
<rect x="1348" y="815" width="4" height="6" fill="#51ede9"/>
<rect x="1348" y="811" width="4" height="2" fill="#4667d7"/>
<rect x="1348" y="805" width="4" height="4" fill="#41b14f"/>
<rect x="1348" y="797" width="4" height="6" fill="#e51d4c"/>
<rect x="1348" y="781" width="4" height="14" fill="#4a5a7c"/>
<rect x="1348" y="741" width="4" height="38" fill="#265c8d"/>
<rect x="1348" y="731" width="4" height="8" fill="#fde03c"/>
<rect x="1348" y="713" width="4" height="16" fill="#8e27b1"/>
<rect x="1348" y="697" width="4" height="14" fill="#f2853d"/>
<rect x="1348" y="651" width="4" height="44" fill="#fb221b"/>
<rect x="1348" y="635" width="4" height="14" fill="#5fcd93"/>
<rect x="1348" y="603" width="4" height="30" fill="#0f7f80"/>
<rect x="1348" y="569" width="4" height="32" fill="#a94046"/>
<rect x="1348" y="511" width="4" height="56" fill="#b5656b"/>
<rect x="1348" y="481" width="4" height="28" fill="#de9383"/>
<rect x="1348" y="399" width="4" height="80" fill="#8ab977"/>
<rect x="1348" y="223" width="4" height="174" rx="2" fill="#7683a6"/><rect x="1348" y="226" width="4" height="171" fill="#7683a6"/>
<rect x="1354" y="251" width="8" height="576" fill="#fff"/>
<rect x="1356" y="825" width="4" height="2" fill="#ffffff"/>
<rect x="1356" y="821" width="4" height="2" fill="#f13ddf"/>
<rect x="1356" y="815" width="4" height="4" fill="#51ede9"/>
<rect x="1356" y="811" width="4" height="2" fill="#4667d7"/>
<rect x="1356" y="805" width="4" height="4" fill="#41b14f"/>
<rect x="1356" y="795" width="4" height="8" fill="#e51d4c"/>
<rect x="1356" y="783" width="4" height="10" fill="#4a5a7c"/>
<rect x="1356" y="771" width="4" height="10" fill="#fde03c"/>
<rect x="1356" y="753" width="4" height="16" fill="#8e27b1"/>
<rect x="1356" y="737" width="4" height="14" fill="#f2853d"/>
<rect x="1356" y="693" width="4" height="42" fill="#fb221b"/>
<rect x="1356" y="677" width="4" height="14" fill="#5fcd93"/>
<rect x="1356" y="645" width="4" height="30" fill="#0f7f80"/>
<rect x="1356" y="609" width="4" height="34" fill="#a94046"/>
<rect x="1356" y="553" width="4" height="54" fill="#b5656b"/>
<rect x="1356" y="521" width="4" height="30" fill="#de9383"/>
<rect x="1356" y="437" width="4" height="82" fill="#8ab977"/>
<rect x="1356" y="253" width="4" height="182" rx="2" fill="#7683a6"/><rect x="1356" y="256" width="4" height="179" fill="#7683a6"/>
<rect x="1362" y="229" width="8" height="598" fill="#fff"/>
<rect x="1364" y="825" width="4" height="2" fill="#ffffff"/>
<rect x="1364" y="821" width="4" height="2" fill="#f13ddf"/>
<rect x="1364" y="815" width="4" height="4" fill="#51ede9"/>
<rect x="1364" y="811" width="4" height="2" fill="#4667d7"/>
<rect x="1364" y="803" width="4" height="6" fill="#41b14f"/>
<rect x="1364" y="795" width="4" height="6" fill="#e51d4c"/>
<rect x="1364" y="783" width="4" height="10" fill="#4a5a7c"/>
<rect x="1364" y="771" width="4" height="10" fill="#fde03c"/>
<rect x="1364" y="751" width="4" height="18" fill="#8e27b1"/>
<rect x="1364" y="735" width="4" height="14" fill="#f2853d"/>
<rect x="1364" y="687" width="4" height="46" fill="#fb221b"/>
<rect x="1364" y="669" width="4" height="16" fill="#5fcd93"/>
<rect x="1364" y="635" width="4" height="32" fill="#0f7f80"/>
<rect x="1364" y="597" width="4" height="36" fill="#a94046"/>
<rect x="1364" y="539" width="4" height="56" fill="#b5656b"/>
<rect x="1364" y="505" width="4" height="32" fill="#de9383"/>
<rect x="1364" y="417" width="4" height="86" fill="#8ab977"/>
<rect x="1364" y="231" width="4" height="184" rx="2" fill="#7683a6"/><rect x="1364" y="234" width="4" height="181" fill="#7683a6"/>
<rect x="1370" y="187" width="8" height="640" fill="#fff"/>
<rect x="1372" y="825" width="4" height="2" fill="#ffffff"/>
<rect x="1372" y="821" width="4" height="2" fill="#f13ddf"/>
<rect x="1372" y="815" width="4" height="4" fill="#51ede9"/>
<rect x="1372" y="809" width="4" height="4" fill="#4667d7"/>
<rect x="1372" y="803" width="4" height="4" fill="#41b14f"/>
<rect x="1372" y="795" width="4" height="6" fill="#e51d4c"/>
<rect x="1372" y="783" width="4" height="10" fill="#4a5a7c"/>
<rect x="1372" y="741" width="4" height="40" fill="#265c8d"/>
<rect x="1372" y="727" width="4" height="12" fill="#fde03c"/>
<rect x="1372" y="707" width="4" height="18" fill="#8e27b1"/>
<rect x="1372" y="691" width="4" height="14" fill="#f2853d"/>
<rect x="1372" y="649" width="4" height="40" fill="#fb221b"/>
<rect x="1372" y="631" width="4" height="16" fill="#5fcd93"/>
<rect x="1372" y="595" width="4" height="34" fill="#0f7f80"/>
<rect x="1372" y="557" width="4" height="36" fill="#a94046"/>
<rect x="1372" y="497" width="4" height="58" fill="#b5656b"/>
<rect x="1372" y="463" width="4" height="32" fill="#de9383"/>
<rect x="1372" y="375" width="4" height="86" fill="#8ab977"/>
<rect x="1372" y="189" width="4" height="184" rx="2" fill="#7683a6"/><rect x="1372" y="192" width="4" height="181" fill="#7683a6"/>
<rect x="1376" y="211" width="8" height="616" fill="#fff"/>
<rect x="1378" y="825" width="4" height="2" fill="#ffffff"/>
<rect x="1378" y="821" width="4" height="2" fill="#f13ddf"/>
<rect x="1378" y="815" width="4" height="4" fill="#51ede9"/>
<rect x="1378" y="809" width="4" height="4" fill="#4667d7"/>
<rect x="1378" y="803" width="4" height="4" fill="#41b14f"/>
<rect x="1378" y="793" width="4" height="8" fill="#e51d4c"/>
<rect x="1378" y="781" width="4" height="10" fill="#4a5a7c"/>
<rect x="1378" y="767" width="4" height="12" fill="#fde03c"/>
<rect x="1378" y="747" width="4" height="18" fill="#8e27b1"/>
<rect x="1378" y="729" width="4" height="16" fill="#f2853d"/>
<rect x="1378" y="685" width="4" height="42" fill="#fb221b"/>
<rect x="1378" y="667" width="4" height="16" fill="#5fcd93"/>
<rect x="1378" y="629" width="4" height="36" fill="#0f7f80"/>
<rect x="1378" y="591" width="4" height="36" fill="#a94046"/>
<rect x="1378" y="527" width="4" height="62" fill="#b5656b"/>
<rect x="1378" y="493" width="4" height="32" fill="#de9383"/>
<rect x="1378" y="401" width="4" height="90" fill="#8ab977"/>
<rect x="1378" y="213" width="4" height="186" rx="2" fill="#7683a6"/><rect x="1378" y="216" width="4" height="183" fill="#7683a6"/>
<rect x="1384" y="215" width="8" height="612" fill="#fff"/>
<rect x="1386" y="825" width="4" height="2" fill="#ffffff"/>
<rect x="1386" y="821" width="4" height="2" fill="#f13ddf"/>
<rect x="1386" y="815" width="4" height="4" fill="#51ede9"/>
<rect x="1386" y="809" width="4" height="4" fill="#4667d7"/>
<rect x="1386" y="803" width="4" height="4" fill="#41b14f"/>
<rect x="1386" y="793" width="4" height="8" fill="#e51d4c"/>
<rect x="1386" y="781" width="4" height="10" fill="#4a5a7c"/>
<rect x="1386" y="767" width="4" height="12" fill="#fde03c"/>
<rect x="1386" y="745" width="4" height="20" fill="#8e27b1"/>
<rect x="1386" y="729" width="4" height="14" fill="#f2853d"/>
<rect x="1386" y="687" width="4" height="40" fill="#fb221b"/>
<rect x="1386" y="669" width="4" height="16" fill="#5fcd93"/>
<rect x="1386" y="633" width="4" height="34" fill="#0f7f80"/>
<rect x="1386" y="597" width="4" height="34" fill="#a94046"/>
<rect x="1386" y="533" width="4" height="62" fill="#b5656b"/>
<rect x="1386" y="501" width="4" height="30" fill="#de9383"/>
<rect x="1386" y="403" width="4" height="96" fill="#8ab977"/>
<rect x="1386" y="217" width="4" height="184" rx="2" fill="#7683a6"/><rect x="1386" y="220" width="4" height="181" fill="#7683a6"/>
<rect x="1392" y="153" width="8" height="674" fill="#fff"/>
<rect x="1394" y="825" width="4" height="2" fill="#ffffff"/>
<rect x="1394" y="821" width="4" height="2" fill="#f13ddf"/>
<rect x="1394" y="815" width="4" height="4" fill="#51ede9"/>
<rect x="1394" y="809" width="4" height="4" fill="#4667d7"/>
<rect x="1394" y="803" width="4" height="4" fill="#41b14f"/>
<rect x="1394" y="791" width="4" height="10" fill="#e51d4c"/>
<rect x="1394" y="781" width="4" height="8" fill="#4a5a7c"/>
<rect x="1394" y="737" width="4" height="42" fill="#265c8d"/>
<rect x="1394" y="723" width="4" height="12" fill="#fde03c"/>
<rect x="1394" y="701" width="4" height="20" fill="#8e27b1"/>
<rect x="1394" y="683" width="4" height="16" fill="#f2853d"/>
<rect x="1394" y="643" width="4" height="38" fill="#fb221b"/>
<rect x="1394" y="623" width="4" height="18" fill="#5fcd93"/>
<rect x="1394" y="585" width="4" height="36" fill="#0f7f80"/>
<rect x="1394" y="549" width="4" height="34" fill="#a94046"/>
<rect x="1394" y="483" width="4" height="64" fill="#b5656b"/>
<rect x="1394" y="447" width="4" height="34" fill="#de9383"/>
<rect x="1394" y="347" width="4" height="98" fill="#8ab977"/>
<rect x="1394" y="155" width="4" height="190" rx="2" fill="#7683a6"/><rect x="1394" y="158" width="4" height="187" fill="#7683a6"/>
<rect x="1400" y="183" width="8" height="644" fill="#fff"/>
<rect x="1402" y="825" width="4" height="2" fill="#ffffff"/>
<rect x="1402" y="821" width="4" height="2" fill="#f13ddf"/>
<rect x="1402" y="815" width="4" height="4" fill="#51ede9"/>
<rect x="1402" y="809" width="4" height="4" fill="#4667d7"/>
<rect x="1402" y="803" width="4" height="4" fill="#41b14f"/>
<rect x="1402" y="791" width="4" height="10" fill="#e51d4c"/>
<rect x="1402" y="781" width="4" height="8" fill="#4a5a7c"/>
<rect x="1402" y="767" width="4" height="12" fill="#fde03c"/>
<rect x="1402" y="743" width="4" height="22" fill="#8e27b1"/>
<rect x="1402" y="727" width="4" height="14" fill="#f2853d"/>
<rect x="1402" y="687" width="4" height="38" fill="#fb221b"/>
<rect x="1402" y="665" width="4" height="20" fill="#5fcd93"/>
<rect x="1402" y="627" width="4" height="36" fill="#0f7f80"/>
<rect x="1402" y="591" width="4" height="34" fill="#a94046"/>
<rect x="1402" y="525" width="4" height="64" fill="#b5656b"/>
<rect x="1402" y="487" width="4" height="36" fill="#de9383"/>
<rect x="1402" y="385" width="4" height="100" fill="#8ab977"/>
<rect x="1402" y="185" width="4" height="198" rx="2" fill="#7683a6"/><rect x="1402" y="188" width="4" height="195" fill="#7683a6"/>
<rect x="1408" y="185" width="8" height="642" fill="#fff"/>
<rect x="1410" y="825" width="4" height="2" fill="#ffffff"/>
<rect x="1410" y="821" width="4" height="2" fill="#f13ddf"/>
<rect x="1410" y="815" width="4" height="4" fill="#51ede9"/>
<rect x="1410" y="809" width="4" height="4" fill="#4667d7"/>
<rect x="1410" y="803" width="4" height="4" fill="#41b14f"/>
<rect x="1410" y="791" width="4" height="10" fill="#e51d4c"/>
<rect x="1410" y="781" width="4" height="8" fill="#4a5a7c"/>
<rect x="1410" y="765" width="4" height="14" fill="#fde03c"/>
<rect x="1410" y="743" width="4" height="20" fill="#8e27b1"/>
<rect x="1410" y="725" width="4" height="16" fill="#f2853d"/>
<rect x="1410" y="681" width="4" height="42" fill="#fb221b"/>
<rect x="1410" y="661" width="4" height="18" fill="#5fcd93"/>
<rect x="1410" y="623" width="4" height="36" fill="#0f7f80"/>
<rect x="1410" y="589" width="4" height="32" fill="#a94046"/>
<rect x="1410" y="523" width="4" height="64" fill="#b5656b"/>
<rect x="1410" y="487" width="4" height="34" fill="#de9383"/>
<rect x="1410" y="383" width="4" height="102" fill="#8ab977"/>
<rect x="1410" y="187" width="4" height="194" rx="2" fill="#7683a6"/><rect x="1410" y="190" width="4" height="191" fill="#7683a6"/>
<rect x="1416" y="121" width="8" height="706" fill="#fff"/>
<rect x="1418" y="825" width="4" height="2" fill="#ffffff"/>
<rect x="1418" y="821" width="4" height="2" fill="#f13ddf"/>
<rect x="1418" y="815" width="4" height="4" fill="#51ede9"/>
<rect x="1418" y="809" width="4" height="4" fill="#4667d7"/>
<rect x="1418" y="803" width="4" height="4" fill="#41b14f"/>
<rect x="1418" y="791" width="4" height="10" fill="#e51d4c"/>
<rect x="1418" y="779" width="4" height="10" fill="#4a5a7c"/>
<rect x="1418" y="737" width="4" height="40" fill="#265c8d"/>
<rect x="1418" y="721" width="4" height="14" fill="#fde03c"/>
<rect x="1418" y="699" width="4" height="20" fill="#8e27b1"/>
<rect x="1418" y="679" width="4" height="18" fill="#f2853d"/>
<rect x="1418" y="637" width="4" height="40" fill="#fb221b"/>
<rect x="1418" y="621" width="4" height="14" fill="#5fcd93"/>
<rect x="1418" y="583" width="4" height="36" fill="#0f7f80"/>
<rect x="1418" y="547" width="4" height="34" fill="#a94046"/>
<rect x="1418" y="483" width="4" height="62" fill="#b5656b"/>
<rect x="1418" y="445" width="4" height="36" fill="#de9383"/>
<rect x="1418" y="337" width="4" height="106" fill="#8ab977"/>
<rect x="1418" y="123" width="4" height="212" rx="2" fill="#7683a6"/><rect x="1418" y="126" width="4" height="209" fill="#7683a6"/>
<rect x="1424" y="151" width="8" height="676" fill="#fff"/>
<rect x="1426" y="825" width="4" height="2" fill="#ffffff"/>
<rect x="1426" y="821" width="4" height="2" fill="#f13ddf"/>
<rect x="1426" y="815" width="4" height="4" fill="#51ede9"/>
<rect x="1426" y="809" width="4" height="4" fill="#4667d7"/>
<rect x="1426" y="803" width="4" height="4" fill="#41b14f"/>
<rect x="1426" y="791" width="4" height="10" fill="#e51d4c"/>
<rect x="1426" y="777" width="4" height="12" fill="#4a5a7c"/>
<rect x="1426" y="761" width="4" height="14" fill="#fde03c"/>
<rect x="1426" y="739" width="4" height="20" fill="#8e27b1"/>
<rect x="1426" y="717" width="4" height="20" fill="#f2853d"/>
<rect x="1426" y="677" width="4" height="38" fill="#fb221b"/>
<rect x="1426" y="661" width="4" height="14" fill="#5fcd93"/>
<rect x="1426" y="623" width="4" height="36" fill="#0f7f80"/>
<rect x="1426" y="585" width="4" height="36" fill="#a94046"/>
<rect x="1426" y="519" width="4" height="64" fill="#b5656b"/>
<rect x="1426" y="479" width="4" height="38" fill="#de9383"/>
<rect x="1426" y="369" width="4" height="108" fill="#8ab977"/>
<rect x="1426" y="153" width="4" height="214" rx="2" fill="#7683a6"/><rect x="1426" y="156" width="4" height="211" fill="#7683a6"/>
<rect x="1430" y="161" width="8" height="666" fill="#fff"/>
<rect x="1432" y="825" width="4" height="2" fill="#ffffff"/>
<rect x="1432" y="821" width="4" height="2" fill="#f13ddf"/>
<rect x="1432" y="815" width="4" height="4" fill="#51ede9"/>
<rect x="1432" y="809" width="4" height="4" fill="#4667d7"/>
<rect x="1432" y="803" width="4" height="4" fill="#41b14f"/>
<rect x="1432" y="791" width="4" height="10" fill="#e51d4c"/>
<rect x="1432" y="777" width="4" height="12" fill="#4a5a7c"/>
<rect x="1432" y="761" width="4" height="14" fill="#fde03c"/>
<rect x="1432" y="739" width="4" height="20" fill="#8e27b1"/>
<rect x="1432" y="717" width="4" height="20" fill="#f2853d"/>
<rect x="1432" y="679" width="4" height="36" fill="#fb221b"/>
<rect x="1432" y="661" width="4" height="16" fill="#5fcd93"/>
<rect x="1432" y="623" width="4" height="36" fill="#0f7f80"/>
<rect x="1432" y="587" width="4" height="34" fill="#a94046"/>
<rect x="1432" y="523" width="4" height="62" fill="#b5656b"/>
<rect x="1432" y="485" width="4" height="36" fill="#de9383"/>
<rect x="1432" y="373" width="4" height="110" fill="#8ab977"/>
<rect x="1432" y="163" width="4" height="208" rx="2" fill="#7683a6"/><rect x="1432" y="166" width="4" height="205" fill="#7683a6"/>
<rect x="1438" y="135" width="8" height="692" fill="#fff"/>
<rect x="1440" y="825" width="4" height="2" fill="#ffffff"/>
<rect x="1440" y="821" width="4" height="2" fill="#f13ddf"/>
<rect x="1440" y="815" width="4" height="4" fill="#51ede9"/>
<rect x="1440" y="809" width="4" height="4" fill="#4667d7"/>
<rect x="1440" y="803" width="4" height="4" fill="#41b14f"/>
<rect x="1440" y="791" width="4" height="10" fill="#e51d4c"/>
<rect x="1440" y="777" width="4" height="12" fill="#4a5a7c"/>
<rect x="1440" y="735" width="4" height="40" fill="#265c8d"/>
<rect x="1440" y="721" width="4" height="12" fill="#fde03c"/>
<rect x="1440" y="699" width="4" height="20" fill="#8e27b1"/>
<rect x="1440" y="677" width="4" height="20" fill="#f2853d"/>
<rect x="1440" y="641" width="4" height="34" fill="#fb221b"/>
<rect x="1440" y="623" width="4" height="16" fill="#5fcd93"/>
<rect x="1440" y="585" width="4" height="36" fill="#0f7f80"/>
<rect x="1440" y="549" width="4" height="34" fill="#a94046"/>
<rect x="1440" y="485" width="4" height="62" fill="#b5656b"/>
<rect x="1440" y="449" width="4" height="34" fill="#de9383"/>
<rect x="1440" y="337" width="4" height="110" fill="#8ab977"/>
<rect x="1440" y="137" width="4" height="198" rx="2" fill="#7683a6"/><rect x="1440" y="140" width="4" height="195" fill="#7683a6"/>
<rect x="1446" y="211" width="8" height="616" fill="#fff"/>
<rect x="1448" y="825" width="4" height="2" fill="#ffffff"/>
<rect x="1448" y="821" width="4" height="2" fill="#f13ddf"/>
<rect x="1448" y="815" width="4" height="4" fill="#51ede9"/>
<rect x="1448" y="809" width="4" height="4" fill="#4667d7"/>
<rect x="1448" y="803" width="4" height="4" fill="#41b14f"/>
<rect x="1448" y="791" width="4" height="10" fill="#e51d4c"/>
<rect x="1448" y="777" width="4" height="12" fill="#4a5a7c"/>
<rect x="1448" y="761" width="4" height="14" fill="#fde03c"/>
<rect x="1448" y="739" width="4" height="20" fill="#8e27b1"/>
<rect x="1448" y="719" width="4" height="18" fill="#f2853d"/>
<rect x="1448" y="701" width="4" height="16" fill="#5fcd93"/>
<rect x="1448" y="663" width="4" height="36" fill="#0f7f80"/>
<rect x="1448" y="625" width="4" height="36" fill="#a94046"/>
<rect x="1448" y="563" width="4" height="60" fill="#b5656b"/>
<rect x="1448" y="525" width="4" height="36" fill="#de9383"/>
<rect x="1448" y="417" width="4" height="106" fill="#8ab977"/>
<rect x="1448" y="213" width="4" height="202" rx="2" fill="#7683a6"/><rect x="1448" y="216" width="4" height="199" fill="#7683a6"/>
<rect x="1454" y="187" width="8" height="640" fill="#fff"/>
<rect x="1456" y="825" width="4" height="2" fill="#ffffff"/>
<rect x="1456" y="821" width="4" height="2" fill="#f13ddf"/>
<rect x="1456" y="815" width="4" height="4" fill="#51ede9"/>
<rect x="1456" y="809" width="4" height="4" fill="#4667d7"/>
<rect x="1456" y="803" width="4" height="4" fill="#41b14f"/>
<rect x="1456" y="791" width="4" height="10" fill="#e51d4c"/>
<rect x="1456" y="775" width="4" height="14" fill="#4a5a7c"/>
<rect x="1456" y="759" width="4" height="14" fill="#fde03c"/>
<rect x="1456" y="735" width="4" height="22" fill="#8e27b1"/>
<rect x="1456" y="715" width="4" height="18" fill="#f2853d"/>
<rect x="1456" y="697" width="4" height="16" fill="#5fcd93"/>
<rect x="1456" y="657" width="4" height="38" fill="#0f7f80"/>
<rect x="1456" y="619" width="4" height="36" fill="#a94046"/>
<rect x="1456" y="555" width="4" height="62" fill="#b5656b"/>
<rect x="1456" y="513" width="4" height="40" fill="#de9383"/>
<rect x="1456" y="401" width="4" height="110" fill="#8ab977"/>
<rect x="1456" y="189" width="4" height="210" rx="2" fill="#7683a6"/><rect x="1456" y="192" width="4" height="207" fill="#7683a6"/>
<rect x="1462" y="127" width="8" height="700" fill="#fff"/>
<rect x="1464" y="825" width="4" height="2" fill="#ffffff"/>
<rect x="1464" y="821" width="4" height="2" fill="#f13ddf"/>
<rect x="1464" y="815" width="4" height="4" fill="#51ede9"/>
<rect x="1464" y="809" width="4" height="4" fill="#4667d7"/>
<rect x="1464" y="803" width="4" height="4" fill="#41b14f"/>
<rect x="1464" y="791" width="4" height="10" fill="#e51d4c"/>
<rect x="1464" y="775" width="4" height="14" fill="#4a5a7c"/>
<rect x="1464" y="733" width="4" height="40" fill="#265c8d"/>
<rect x="1464" y="715" width="4" height="16" fill="#fde03c"/>
<rect x="1464" y="693" width="4" height="20" fill="#8e27b1"/>
<rect x="1464" y="671" width="4" height="20" fill="#f2853d"/>
<rect x="1464" y="651" width="4" height="18" fill="#5fcd93"/>
<rect x="1464" y="611" width="4" height="38" fill="#0f7f80"/>
<rect x="1464" y="573" width="4" height="36" fill="#a94046"/>
<rect x="1464" y="507" width="4" height="64" fill="#b5656b"/>
<rect x="1464" y="465" width="4" height="40" fill="#de9383"/>
<rect x="1464" y="351" width="4" height="112" fill="#8ab977"/>
<rect x="1464" y="129" width="4" height="220" rx="2" fill="#7683a6"/><rect x="1464" y="132" width="4" height="217" fill="#7683a6"/>
<rect x="1470" y="183" width="8" height="644" fill="#fff"/>
<rect x="1472" y="825" width="4" height="2" fill="#ffffff"/>
<rect x="1472" y="821" width="4" height="2" fill="#f13ddf"/>
<rect x="1472" y="817" width="4" height="2" fill="#51ede9"/>
<rect x="1472" y="809" width="4" height="6" fill="#4667d7"/>
<rect x="1472" y="803" width="4" height="4" fill="#41b14f"/>
<rect x="1472" y="791" width="4" height="10" fill="#e51d4c"/>
<rect x="1472" y="779" width="4" height="10" fill="#4a5a7c"/>
<rect x="1472" y="761" width="4" height="16" fill="#fde03c"/>
<rect x="1472" y="739" width="4" height="20" fill="#8e27b1"/>
<rect x="1472" y="717" width="4" height="20" fill="#f2853d"/>
<rect x="1472" y="697" width="4" height="18" fill="#5fcd93"/>
<rect x="1472" y="657" width="4" height="38" fill="#0f7f80"/>
<rect x="1472" y="621" width="4" height="34" fill="#a94046"/>
<rect x="1472" y="559" width="4" height="60" fill="#b5656b"/>
<rect x="1472" y="515" width="4" height="42" fill="#de9383"/>
<rect x="1472" y="401" width="4" height="112" fill="#8ab977"/>
<rect x="1472" y="185" width="4" height="214" rx="2" fill="#7683a6"/><rect x="1472" y="188" width="4" height="211" fill="#7683a6"/>
<rect x="1478" y="177" width="8" height="650" fill="#fff"/>
<rect x="1480" y="825" width="4" height="2" fill="#ffffff"/>
<rect x="1480" y="821" width="4" height="2" fill="#f13ddf"/>
<rect x="1480" y="815" width="4" height="4" fill="#4667d7"/>
<rect x="1480" y="807" width="4" height="6" fill="#41b14f"/>
<rect x="1480" y="795" width="4" height="10" fill="#e51d4c"/>
<rect x="1480" y="781" width="4" height="12" fill="#4a5a7c"/>
<rect x="1480" y="765" width="4" height="14" fill="#fde03c"/>
<rect x="1480" y="741" width="4" height="22" fill="#8e27b1"/>
<rect x="1480" y="719" width="4" height="20" fill="#f2853d"/>
<rect x="1480" y="701" width="4" height="16" fill="#5fcd93"/>
<rect x="1480" y="661" width="4" height="38" fill="#0f7f80"/>
<rect x="1480" y="625" width="4" height="34" fill="#a94046"/>
<rect x="1480" y="561" width="4" height="62" fill="#b5656b"/>
<rect x="1480" y="517" width="4" height="42" fill="#de9383"/>
<rect x="1480" y="397" width="4" height="118" fill="#8ab977"/>
<rect x="1480" y="179" width="4" height="216" rx="2" fill="#7683a6"/><rect x="1480" y="182" width="4" height="213" fill="#7683a6"/>
<rect x="1486" y="127" width="8" height="700" fill="#fff"/>
<rect x="1488" y="827" width="4" height="1" fill="#ffffff"/>
<rect x="1488" y="823" width="4" height="2" fill="#bdf334"/>
<rect x="1488" y="821" width="4" height="1" fill="#ffffff"/>
<rect x="1488" y="815" width="4" height="4" fill="#4667d7"/>
<rect x="1488" y="807" width="4" height="6" fill="#41b14f"/>
<rect x="1488" y="795" width="4" height="10" fill="#e51d4c"/>
<rect x="1488" y="781" width="4" height="12" fill="#4a5a7c"/>
<rect x="1488" y="739" width="4" height="40" fill="#265c8d"/>
<rect x="1488" y="721" width="4" height="16" fill="#fde03c"/>
<rect x="1488" y="699" width="4" height="20" fill="#8e27b1"/>
<rect x="1488" y="675" width="4" height="22" fill="#f2853d"/>
<rect x="1488" y="657" width="4" height="16" fill="#5fcd93"/>
<rect x="1488" y="617" width="4" height="38" fill="#0f7f80"/>
<rect x="1488" y="579" width="4" height="36" fill="#a94046"/>
<rect x="1488" y="517" width="4" height="60" fill="#b5656b"/>
<rect x="1488" y="473" width="4" height="42" fill="#de9383"/>
<rect x="1488" y="347" width="4" height="124" fill="#8ab977"/>
<rect x="1488" y="129" width="4" height="216" rx="2" fill="#7683a6"/><rect x="1488" y="132" width="4" height="213" fill="#7683a6"/>
<rect x="1492" y="183" width="8" height="644" fill="#fff"/>
<rect x="1494" y="827" width="4" height="1" fill="#ffffff"/>
<rect x="1494" y="823" width="4" height="2" fill="#bdf334"/>
<rect x="1494" y="821" width="4" height="1" fill="#ffffff"/>
<rect x="1494" y="815" width="4" height="4" fill="#4667d7"/>
<rect x="1494" y="807" width="4" height="6" fill="#41b14f"/>
<rect x="1494" y="795" width="4" height="10" fill="#e51d4c"/>
<rect x="1494" y="783" width="4" height="10" fill="#4a5a7c"/>
<rect x="1494" y="765" width="4" height="16" fill="#fde03c"/>
<rect x="1494" y="743" width="4" height="20" fill="#8e27b1"/>
<rect x="1494" y="721" width="4" height="20" fill="#f2853d"/>
<rect x="1494" y="701" width="4" height="18" fill="#5fcd93"/>
<rect x="1494" y="663" width="4" height="36" fill="#0f7f80"/>
<rect x="1494" y="623" width="4" height="38" fill="#a94046"/>
<rect x="1494" y="563" width="4" height="58" fill="#b5656b"/>
<rect x="1494" y="519" width="4" height="42" fill="#de9383"/>
<rect x="1494" y="397" width="4" height="120" fill="#8ab977"/>
<rect x="1494" y="185" width="4" height="210" rx="2" fill="#7683a6"/><rect x="1494" y="188" width="4" height="207" fill="#7683a6"/>
<rect x="1500" y="173" width="8" height="654" fill="#fff"/>
<rect x="1502" y="827" width="4" height="1" fill="#ffffff"/>
<rect x="1502" y="823" width="4" height="2" fill="#bdf334"/>
<rect x="1502" y="821" width="4" height="1" fill="#ffffff"/>
<rect x="1502" y="815" width="4" height="4" fill="#4667d7"/>
<rect x="1502" y="807" width="4" height="6" fill="#41b14f"/>
<rect x="1502" y="795" width="4" height="10" fill="#e51d4c"/>
<rect x="1502" y="781" width="4" height="12" fill="#4a5a7c"/>
<rect x="1502" y="765" width="4" height="14" fill="#fde03c"/>
<rect x="1502" y="741" width="4" height="22" fill="#8e27b1"/>
<rect x="1502" y="717" width="4" height="22" fill="#f2853d"/>
<rect x="1502" y="697" width="4" height="18" fill="#5fcd93"/>
<rect x="1502" y="657" width="4" height="38" fill="#0f7f80"/>
<rect x="1502" y="619" width="4" height="36" fill="#a94046"/>
<rect x="1502" y="559" width="4" height="58" fill="#b5656b"/>
<rect x="1502" y="513" width="4" height="44" fill="#de9383"/>
<rect x="1502" y="387" width="4" height="124" fill="#8ab977"/>
<rect x="1502" y="175" width="4" height="210" rx="2" fill="#7683a6"/><rect x="1502" y="178" width="4" height="207" fill="#7683a6"/>
<rect x="1508" y="143" width="8" height="684" fill="#fff"/>
<rect x="1510" y="827" width="4" height="1" fill="#ffffff"/>
<rect x="1510" y="823" width="4" height="2" fill="#bdf334"/>
<rect x="1510" y="821" width="4" height="1" fill="#ffffff"/>
<rect x="1510" y="815" width="4" height="4" fill="#4667d7"/>
<rect x="1510" y="807" width="4" height="6" fill="#41b14f"/>
<rect x="1510" y="795" width="4" height="10" fill="#e51d4c"/>
<rect x="1510" y="783" width="4" height="10" fill="#4a5a7c"/>
<rect x="1510" y="739" width="4" height="42" fill="#265c8d"/>
<rect x="1510" y="723" width="4" height="14" fill="#fde03c"/>
<rect x="1510" y="701" width="4" height="20" fill="#8e27b1"/>
<rect x="1510" y="677" width="4" height="22" fill="#f2853d"/>
<rect x="1510" y="657" width="4" height="18" fill="#5fcd93"/>
<rect x="1510" y="617" width="4" height="38" fill="#0f7f80"/>
<rect x="1510" y="577" width="4" height="38" fill="#a94046"/>
<rect x="1510" y="515" width="4" height="60" fill="#b5656b"/>
<rect x="1510" y="471" width="4" height="42" fill="#de9383"/>
<rect x="1510" y="353" width="4" height="116" fill="#8ab977"/>
<rect x="1510" y="145" width="4" height="206" rx="2" fill="#7683a6"/><rect x="1510" y="148" width="4" height="203" fill="#7683a6"/>
<rect x="1516" y="179" width="8" height="648" fill="#fff"/>
<rect x="1518" y="827" width="4" height="1" fill="#ffffff"/>
<rect x="1518" y="823" width="4" height="2" fill="#bdf334"/>
<rect x="1518" y="821" width="4" height="1" fill="#ffffff"/>
<rect x="1518" y="815" width="4" height="4" fill="#4667d7"/>
<rect x="1518" y="807" width="4" height="6" fill="#41b14f"/>
<rect x="1518" y="793" width="4" height="12" fill="#e51d4c"/>
<rect x="1518" y="781" width="4" height="10" fill="#4a5a7c"/>
<rect x="1518" y="763" width="4" height="16" fill="#fde03c"/>
<rect x="1518" y="741" width="4" height="20" fill="#8e27b1"/>
<rect x="1518" y="717" width="4" height="22" fill="#f2853d"/>
<rect x="1518" y="697" width="4" height="18" fill="#5fcd93"/>
<rect x="1518" y="655" width="4" height="40" fill="#0f7f80"/>
<rect x="1518" y="615" width="4" height="38" fill="#a94046"/>
<rect x="1518" y="553" width="4" height="60" fill="#b5656b"/>
<rect x="1518" y="507" width="4" height="44" fill="#de9383"/>
<rect x="1518" y="387" width="4" height="118" fill="#8ab977"/>
<rect x="1518" y="181" width="4" height="204" rx="2" fill="#7683a6"/><rect x="1518" y="184" width="4" height="201" fill="#7683a6"/>
<rect x="1524" y="173" width="8" height="654" fill="#fff"/>
<rect x="1526" y="827" width="4" height="1" fill="#ffffff"/>
<rect x="1526" y="823" width="4" height="2" fill="#bdf334"/>
<rect x="1526" y="821" width="4" height="1" fill="#ffffff"/>
<rect x="1526" y="815" width="4" height="4" fill="#4667d7"/>
<rect x="1526" y="807" width="4" height="6" fill="#41b14f"/>
<rect x="1526" y="793" width="4" height="12" fill="#e51d4c"/>
<rect x="1526" y="781" width="4" height="10" fill="#4a5a7c"/>
<rect x="1526" y="763" width="4" height="16" fill="#fde03c"/>
<rect x="1526" y="739" width="4" height="22" fill="#8e27b1"/>
<rect x="1526" y="715" width="4" height="22" fill="#f2853d"/>
<rect x="1526" y="695" width="4" height="18" fill="#5fcd93"/>
<rect x="1526" y="651" width="4" height="42" fill="#0f7f80"/>
<rect x="1526" y="609" width="4" height="40" fill="#a94046"/>
<rect x="1526" y="543" width="4" height="64" fill="#b5656b"/>
<rect x="1526" y="495" width="4" height="46" fill="#de9383"/>
<rect x="1526" y="381" width="4" height="112" fill="#8ab977"/>
<rect x="1526" y="175" width="4" height="204" rx="2" fill="#7683a6"/><rect x="1526" y="178" width="4" height="201" fill="#7683a6"/>
<rect x="1532" y="107" width="8" height="720" fill="#fff"/>
<rect x="1534" y="825" width="4" height="2" fill="#ffffff"/>
<rect x="1534" y="821" width="4" height="2" fill="#f13ddf"/>
<rect x="1534" y="815" width="4" height="4" fill="#4667d7"/>
<rect x="1534" y="807" width="4" height="6" fill="#41b14f"/>
<rect x="1534" y="793" width="4" height="12" fill="#e51d4c"/>
<rect x="1534" y="779" width="4" height="12" fill="#4a5a7c"/>
<rect x="1534" y="729" width="4" height="48" fill="#265c8d"/>
<rect x="1534" y="711" width="4" height="16" fill="#fde03c"/>
<rect x="1534" y="687" width="4" height="22" fill="#8e27b1"/>
<rect x="1534" y="663" width="4" height="22" fill="#f2853d"/>
<rect x="1534" y="641" width="4" height="20" fill="#5fcd93"/>
<rect x="1534" y="595" width="4" height="44" fill="#0f7f80"/>
<rect x="1534" y="551" width="4" height="42" fill="#a94046"/>
<rect x="1534" y="485" width="4" height="64" fill="#b5656b"/>
<rect x="1534" y="435" width="4" height="48" fill="#de9383"/>
<rect x="1534" y="319" width="4" height="114" fill="#8ab977"/>
<rect x="1534" y="109" width="4" height="208" rx="2" fill="#7683a6"/><rect x="1534" y="112" width="4" height="205" fill="#7683a6"/>
<rect x="1540" y="175" width="8" height="652" fill="#fff"/>
<rect x="1542" y="825" width="4" height="2" fill="#ffffff"/>
<rect x="1542" y="821" width="4" height="2" fill="#f13ddf"/>
<rect x="1542" y="815" width="4" height="4" fill="#4667d7"/>
<rect x="1542" y="807" width="4" height="6" fill="#41b14f"/>
<rect x="1542" y="793" width="4" height="12" fill="#e51d4c"/>
<rect x="1542" y="779" width="4" height="12" fill="#4a5a7c"/>
<rect x="1542" y="763" width="4" height="14" fill="#fde03c"/>
<rect x="1542" y="739" width="4" height="22" fill="#8e27b1"/>
<rect x="1542" y="717" width="4" height="20" fill="#f2853d"/>
<rect x="1542" y="693" width="4" height="22" fill="#5fcd93"/>
<rect x="1542" y="649" width="4" height="42" fill="#0f7f80"/>
<rect x="1542" y="605" width="4" height="42" fill="#a94046"/>
<rect x="1542" y="541" width="4" height="62" fill="#b5656b"/>
<rect x="1542" y="493" width="4" height="46" fill="#de9383"/>
<rect x="1542" y="379" width="4" height="112" fill="#8ab977"/>
<rect x="1542" y="177" width="4" height="200" rx="2" fill="#7683a6"/><rect x="1542" y="180" width="4" height="197" fill="#7683a6"/>
<rect x="1546" y="181" width="8" height="646" fill="#fff"/>
<rect x="1548" y="825" width="4" height="2" fill="#ffffff"/>
<rect x="1548" y="821" width="4" height="2" fill="#f13ddf"/>
<rect x="1548" y="815" width="4" height="4" fill="#4667d7"/>
<rect x="1548" y="807" width="4" height="6" fill="#41b14f"/>
<rect x="1548" y="793" width="4" height="12" fill="#e51d4c"/>
<rect x="1548" y="781" width="4" height="10" fill="#4a5a7c"/>
<rect x="1548" y="763" width="4" height="16" fill="#fde03c"/>
<rect x="1548" y="741" width="4" height="20" fill="#8e27b1"/>
<rect x="1548" y="717" width="4" height="22" fill="#f2853d"/>
<rect x="1548" y="693" width="4" height="22" fill="#5fcd93"/>
<rect x="1548" y="649" width="4" height="42" fill="#0f7f80"/>
<rect x="1548" y="607" width="4" height="40" fill="#a94046"/>
<rect x="1548" y="543" width="4" height="62" fill="#b5656b"/>
<rect x="1548" y="493" width="4" height="48" fill="#de9383"/>
<rect x="1548" y="381" width="4" height="110" fill="#8ab977"/>
<rect x="1548" y="183" width="4" height="196" rx="2" fill="#7683a6"/><rect x="1548" y="186" width="4" height="193" fill="#7683a6"/>
<rect x="1554" y="143" width="8" height="684" fill="#fff"/>
<rect x="1556" y="825" width="4" height="2" fill="#ffffff"/>
<rect x="1556" y="821" width="4" height="2" fill="#f13ddf"/>
<rect x="1556" y="815" width="4" height="4" fill="#4667d7"/>
<rect x="1556" y="807" width="4" height="6" fill="#41b14f"/>
<rect x="1556" y="793" width="4" height="12" fill="#e51d4c"/>
<rect x="1556" y="781" width="4" height="10" fill="#4a5a7c"/>
<rect x="1556" y="733" width="4" height="46" fill="#265c8d"/>
<rect x="1556" y="717" width="4" height="14" fill="#fde03c"/>
<rect x="1556" y="695" width="4" height="20" fill="#8e27b1"/>
<rect x="1556" y="673" width="4" height="20" fill="#f2853d"/>
<rect x="1556" y="647" width="4" height="24" fill="#5fcd93"/>
<rect x="1556" y="605" width="4" height="40" fill="#0f7f80"/>
<rect x="1556" y="563" width="4" height="40" fill="#a94046"/>
<rect x="1556" y="499" width="4" height="62" fill="#b5656b"/>
<rect x="1556" y="449" width="4" height="48" fill="#de9383"/>
<rect x="1556" y="339" width="4" height="108" fill="#8ab977"/>
<rect x="1556" y="145" width="4" height="192" rx="2" fill="#7683a6"/><rect x="1556" y="148" width="4" height="189" fill="#7683a6"/>
<rect x="1562" y="183" width="8" height="644" fill="#fff"/>
<rect x="1564" y="825" width="4" height="2" fill="#ffffff"/>
<rect x="1564" y="821" width="4" height="2" fill="#f13ddf"/>
<rect x="1564" y="815" width="4" height="4" fill="#4667d7"/>
<rect x="1564" y="807" width="4" height="6" fill="#41b14f"/>
<rect x="1564" y="793" width="4" height="12" fill="#4a5a7c"/>
<rect x="1564" y="775" width="4" height="16" fill="#fde03c"/>
<rect x="1564" y="753" width="4" height="20" fill="#8e27b1"/>
<rect x="1564" y="729" width="4" height="22" fill="#f2853d"/>
<rect x="1564" y="703" width="4" height="24" fill="#5fcd93"/>
<rect x="1564" y="659" width="4" height="42" fill="#0f7f80"/>
<rect x="1564" y="617" width="4" height="40" fill="#a94046"/>
<rect x="1564" y="553" width="4" height="62" fill="#b5656b"/>
<rect x="1564" y="501" width="4" height="50" fill="#de9383"/>
<rect x="1564" y="389" width="4" height="110" fill="#8ab977"/>
<rect x="1564" y="185" width="4" height="202" rx="2" fill="#7683a6"/><rect x="1564" y="188" width="4" height="199" fill="#7683a6"/>
<rect x="1570" y="187" width="8" height="640" fill="#fff"/>
<rect x="1572" y="825" width="4" height="2" fill="#bdf334"/>
<rect x="1572" y="823" width="4" height="1" fill="#ffffff"/>
<rect x="1572" y="815" width="4" height="6" fill="#4667d7"/>
<rect x="1572" y="807" width="4" height="6" fill="#41b14f"/>
<rect x="1572" y="791" width="4" height="14" fill="#fde03c"/>
<rect x="1572" y="769" width="4" height="20" fill="#8e27b1"/>
<rect x="1572" y="743" width="4" height="24" fill="#f2853d"/>
<rect x="1572" y="717" width="4" height="24" fill="#5fcd93"/>
<rect x="1572" y="673" width="4" height="42" fill="#0f7f80"/>
<rect x="1572" y="631" width="4" height="40" fill="#a94046"/>
<rect x="1572" y="567" width="4" height="62" fill="#b5656b"/>
<rect x="1572" y="513" width="4" height="52" fill="#de9383"/>
<rect x="1572" y="399" width="4" height="112" fill="#8ab977"/>
<rect x="1572" y="189" width="4" height="208" rx="2" fill="#7683a6"/><rect x="1572" y="192" width="4" height="205" fill="#7683a6"/>
<rect x="1578" y="121" width="8" height="706" fill="#fff"/>
<rect x="1580" y="825" width="4" height="2" fill="#bdf334"/>
<rect x="1580" y="823" width="4" height="1" fill="#ffffff"/>
<rect x="1580" y="815" width="4" height="6" fill="#4667d7"/>
<rect x="1580" y="807" width="4" height="6" fill="#41b14f"/>
<rect x="1580" y="759" width="4" height="46" fill="#265c8d"/>
<rect x="1580" y="741" width="4" height="16" fill="#fde03c"/>
<rect x="1580" y="717" width="4" height="22" fill="#8e27b1"/>
<rect x="1580" y="693" width="4" height="22" fill="#f2853d"/>
<rect x="1580" y="665" width="4" height="26" fill="#5fcd93"/>
<rect x="1580" y="621" width="4" height="42" fill="#0f7f80"/>
<rect x="1580" y="577" width="4" height="42" fill="#a94046"/>
<rect x="1580" y="513" width="4" height="62" fill="#b5656b"/>
<rect x="1580" y="455" width="4" height="56" fill="#de9383"/>
<rect x="1580" y="341" width="4" height="112" fill="#8ab977"/>
<rect x="1580" y="123" width="4" height="216" rx="2" fill="#7683a6"/><rect x="1580" y="126" width="4" height="213" fill="#7683a6"/>
<rect x="1586" y="171" width="8" height="656" fill="#fff"/>
<rect x="1588" y="825" width="4" height="2" fill="#bdf334"/>
<rect x="1588" y="823" width="4" height="1" fill="#ffffff"/>
<rect x="1588" y="815" width="4" height="6" fill="#4667d7"/>
<rect x="1588" y="807" width="4" height="6" fill="#41b14f"/>
<rect x="1588" y="781" width="4" height="24" fill="#8e27b1"/>
<rect x="1588" y="755" width="4" height="24" fill="#f2853d"/>
<rect x="1588" y="727" width="4" height="26" fill="#5fcd93"/>
<rect x="1588" y="681" width="4" height="44" fill="#0f7f80"/>
<rect x="1588" y="639" width="4" height="40" fill="#a94046"/>
<rect x="1588" y="575" width="4" height="62" fill="#b5656b"/>
<rect x="1588" y="515" width="4" height="58" fill="#de9383"/>
<rect x="1588" y="395" width="4" height="118" fill="#8ab977"/>
<rect x="1588" y="173" width="4" height="220" rx="2" fill="#7683a6"/><rect x="1588" y="176" width="4" height="217" fill="#7683a6"/>
<rect x="1594" y="640" width="8" height="187" fill="#fff"/>
<rect x="1596" y="825" width="4" height="2" fill="#bdf334"/>
<rect x="1596" y="819" width="4" height="4" fill="#4667d7"/>
<rect x="1596" y="791" width="4" height="26" fill="#f2853d"/>
<rect x="1596" y="763" width="4" height="26" fill="#5fcd93"/>
<rect x="1596" y="642" width="4" height="119" rx="2" fill="#8ab977"/><rect x="1596" y="645" width="4" height="116" fill="#8ab977"/>
<rect x="208" y="827" width="1392" height="2" fill="#222"/>
<rect x="210.0" y="828" width="2" height="19" fill="#222"/>
<rect x="258.0" y="828" width="2" height="19" fill="#222"/>
<rect x="304.0" y="828" width="2" height="19" fill="#222"/>
<rect x="350.0" y="828" width="2" height="19" fill="#222"/>
<rect x="396.0" y="828" width="2" height="19" fill="#222"/>
<rect x="442.0" y="828" width="2" height="19" fill="#222"/>
<rect x="490.0" y="828" width="2" height="19" fill="#222"/>
<rect x="536.0" y="828" width="2" height="19" fill="#222"/>
<rect x="582.0" y="828" width="2" height="19" fill="#222"/>
<rect x="628.0" y="828" width="2" height="19" fill="#222"/>
<rect x="674.0" y="828" width="2" height="19" fill="#222"/>
<rect x="722.0" y="828" width="2" height="19" fill="#222"/>
<rect x="768.0" y="828" width="2" height="19" fill="#222"/>
<rect x="814.0" y="828" width="2" height="19" fill="#222"/>
<rect x="860.0" y="828" width="2" height="19" fill="#222"/>
<rect x="906.0" y="828" width="2" height="19" fill="#222"/>
<rect x="954.0" y="828" width="2" height="19" fill="#222"/>
<rect x="1000.0" y="828" width="2" height="19" fill="#222"/>
<rect x="1046.0" y="828" width="2" height="19" fill="#222"/>
<rect x="1092.0" y="828" width="2" height="19" fill="#222"/>
<rect x="1138.0" y="828" width="2" height="19" fill="#222"/>
<rect x="1186.0" y="828" width="2" height="19" fill="#222"/>
<rect x="1232.0" y="828" width="2" height="19" fill="#222"/>
<rect x="1278.0" y="828" width="2" height="19" fill="#222"/>
<rect x="1324.0" y="828" width="2" height="19" fill="#222"/>
<rect x="1370.0" y="828" width="2" height="19" fill="#222"/>
<rect x="1418.0" y="828" width="2" height="19" fill="#222"/>
<rect x="1464.0" y="828" width="2" height="19" fill="#222"/>
<rect x="1510.0" y="828" width="2" height="19" fill="#222"/>
<rect x="1556.0" y="828" width="2" height="19" fill="#222"/>
<text x="177.7" y="836.6" font-size="25" fill="#333" stroke="#333" stroke-width="0.35" text-anchor="end">0</text>
<text x="177.7" y="662.2" font-size="25" fill="#333" stroke="#333" stroke-width="0.35" text-anchor="end" textLength="28" lengthAdjust="spacingAndGlyphs">1k</text>
<text x="177.7" y="490.5" font-size="25" fill="#333" stroke="#333" stroke-width="0.35" text-anchor="end" textLength="28" lengthAdjust="spacingAndGlyphs">2k</text>
<text x="177.7" y="318.8" font-size="25" fill="#333" stroke="#333" stroke-width="0.35" text-anchor="end" textLength="28" lengthAdjust="spacingAndGlyphs">3k</text>
<text x="177.7" y="147.0" font-size="25" fill="#333" stroke="#333" stroke-width="0.35" text-anchor="end" textLength="28" lengthAdjust="spacingAndGlyphs">4k</text>
<text transform="translate(129,449.7) rotate(-90)" font-size="25" fill="#666" stroke="#666" stroke-width="0.3" text-anchor="middle" textLength="172.8" lengthAdjust="spacingAndGlyphs">billions of USD</text>
<text transform="translate(217.2,873.7) rotate(-45)" font-size="25" letter-spacing="0.4" fill="#333" stroke="#333" stroke-width="0.35" text-anchor="end">Jun-10</text>
<text transform="translate(265.2,873.7) rotate(-45)" font-size="25" letter-spacing="1.0" fill="#333" stroke="#333" stroke-width="0.35" text-anchor="end">Dec-10</text>
<text transform="translate(311.2,873.7) rotate(-45)" font-size="25" letter-spacing="0.4" fill="#333" stroke="#333" stroke-width="0.35" text-anchor="end">Jun-11</text>
<text transform="translate(357.2,873.7) rotate(-45)" font-size="25" letter-spacing="1.0" fill="#333" stroke="#333" stroke-width="0.35" text-anchor="end">Dec-11</text>
<text transform="translate(403.2,873.7) rotate(-45)" font-size="25" letter-spacing="0.4" fill="#333" stroke="#333" stroke-width="0.35" text-anchor="end">Jun-12</text>
<text transform="translate(449.2,873.7) rotate(-45)" font-size="25" letter-spacing="1.0" fill="#333" stroke="#333" stroke-width="0.35" text-anchor="end">Dec-12</text>
<text transform="translate(497.2,873.7) rotate(-45)" font-size="25" letter-spacing="0.4" fill="#333" stroke="#333" stroke-width="0.35" text-anchor="end">Jun-13</text>
<text transform="translate(543.2,873.7) rotate(-45)" font-size="25" letter-spacing="1.0" fill="#333" stroke="#333" stroke-width="0.35" text-anchor="end">Dec-13</text>
<text transform="translate(589.2,873.7) rotate(-45)" font-size="25" letter-spacing="0.4" fill="#333" stroke="#333" stroke-width="0.35" text-anchor="end">Jun-14</text>
<text transform="translate(635.2,873.7) rotate(-45)" font-size="25" letter-spacing="1.0" fill="#333" stroke="#333" stroke-width="0.35" text-anchor="end">Dec-14</text>
<text transform="translate(681.2,873.7) rotate(-45)" font-size="25" letter-spacing="0.4" fill="#333" stroke="#333" stroke-width="0.35" text-anchor="end">Jun-15</text>
<text transform="translate(729.2,873.7) rotate(-45)" font-size="25" letter-spacing="1.0" fill="#333" stroke="#333" stroke-width="0.35" text-anchor="end">Dec-15</text>
<text transform="translate(775.2,873.7) rotate(-45)" font-size="25" letter-spacing="0.4" fill="#333" stroke="#333" stroke-width="0.35" text-anchor="end">Jun-16</text>
<text transform="translate(821.2,873.7) rotate(-45)" font-size="25" letter-spacing="1.0" fill="#333" stroke="#333" stroke-width="0.35" text-anchor="end">Dec-16</text>
<text transform="translate(867.2,873.7) rotate(-45)" font-size="25" letter-spacing="0.4" fill="#333" stroke="#333" stroke-width="0.35" text-anchor="end">Jun-17</text>
<text transform="translate(913.2,873.7) rotate(-45)" font-size="25" letter-spacing="1.0" fill="#333" stroke="#333" stroke-width="0.35" text-anchor="end">Dec-17</text>
<text transform="translate(961.2,873.7) rotate(-45)" font-size="25" letter-spacing="0.4" fill="#333" stroke="#333" stroke-width="0.35" text-anchor="end">Jun-18</text>
<text transform="translate(1007.2,873.7) rotate(-45)" font-size="25" letter-spacing="1.0" fill="#333" stroke="#333" stroke-width="0.35" text-anchor="end">Dec-18</text>
<text transform="translate(1053.2,873.7) rotate(-45)" font-size="25" letter-spacing="0.4" fill="#333" stroke="#333" stroke-width="0.35" text-anchor="end">Jun-19</text>
<text transform="translate(1099.2,873.7) rotate(-45)" font-size="25" letter-spacing="1.0" fill="#333" stroke="#333" stroke-width="0.35" text-anchor="end">Dec-19</text>
<text transform="translate(1145.2,873.7) rotate(-45)" font-size="25" letter-spacing="0.4" fill="#333" stroke="#333" stroke-width="0.35" text-anchor="end">Jun-20</text>
<text transform="translate(1193.2,873.7) rotate(-45)" font-size="25" letter-spacing="1.0" fill="#333" stroke="#333" stroke-width="0.35" text-anchor="end">Dec-20</text>
<text transform="translate(1239.2,873.7) rotate(-45)" font-size="25" letter-spacing="0.4" fill="#333" stroke="#333" stroke-width="0.35" text-anchor="end">Jun-21</text>
<text transform="translate(1285.2,873.7) rotate(-45)" font-size="25" letter-spacing="1.0" fill="#333" stroke="#333" stroke-width="0.35" text-anchor="end">Dec-21</text>
<text transform="translate(1331.2,873.7) rotate(-45)" font-size="25" letter-spacing="0.4" fill="#333" stroke="#333" stroke-width="0.35" text-anchor="end">Jun-22</text>
<text transform="translate(1377.2,873.7) rotate(-45)" font-size="25" letter-spacing="1.0" fill="#333" stroke="#333" stroke-width="0.35" text-anchor="end">Dec-22</text>
<text transform="translate(1425.2,873.7) rotate(-45)" font-size="25" letter-spacing="0.4" fill="#333" stroke="#333" stroke-width="0.35" text-anchor="end">Jun-23</text>
<text transform="translate(1471.2,873.7) rotate(-45)" font-size="25" letter-spacing="1.0" fill="#333" stroke="#333" stroke-width="0.35" text-anchor="end">Dec-23</text>
<text transform="translate(1517.2,873.7) rotate(-45)" font-size="25" letter-spacing="0.4" fill="#333" stroke="#333" stroke-width="0.35" text-anchor="end">Jun-24</text>
<text transform="translate(1563.2,873.7) rotate(-45)" font-size="25" letter-spacing="1.0" fill="#333" stroke="#333" stroke-width="0.35" text-anchor="end">Dec-24</text>
<text x="850" y="29.3" font-size="29" font-weight="bold" fill="#333" stroke="#333" stroke-width="0.4" text-anchor="middle" textLength="446" lengthAdjust="spacingAndGlyphs">Stock of all holdings (monthly)</text>
<circle cx="248" cy="997" r="12" fill="#666"/>
<text x="275" y="1006.4" font-size="24.5" fill="#666" stroke="#666" stroke-width="0.35" text-decoration="line-through" textLength="67.0" lengthAdjust="spacingAndGlyphs">China</text>
<circle cx="248" cy="1035" r="12" fill="#de9383"/>
<text x="275" y="1044.4" font-size="24.5" fill="#333" stroke="#333" stroke-width="0.35" textLength="79.8" lengthAdjust="spacingAndGlyphs">Poland</text>
<circle cx="248" cy="1073" r="12" fill="#5fcd93"/>
<text x="275" y="1082.4" font-size="24.5" fill="#333" stroke="#333" stroke-width="0.35" textLength="78.2" lengthAdjust="spacingAndGlyphs">Turkey</text>
<circle cx="248" cy="1111" r="12" fill="#fde03c"/>
<text x="275" y="1120.4" font-size="24.5" fill="#333" stroke="#333" stroke-width="0.35" textLength="100.0" lengthAdjust="spacingAndGlyphs">Hungary</text>
<circle cx="248" cy="1149" r="12" fill="#41b14f"/>
<text x="275" y="1158.4" font-size="24.5" fill="#333" stroke="#333" stroke-width="0.35" textLength="53.2" lengthAdjust="spacingAndGlyphs">Peru</text>
<circle cx="248" cy="1187" r="12" fill="#bdf334"/>
<text x="275" y="1196.4" font-size="24.5" fill="#333" stroke="#333" stroke-width="0.35" textLength="99.2" lengthAdjust="spacingAndGlyphs">Uruguay</text>
<circle cx="566.3" cy="997" r="12" fill="#7683a6"/>
<text x="593.5" y="1006.4" font-size="24.5" fill="#333" stroke="#333" stroke-width="0.35" textLength="65.0" lengthAdjust="spacingAndGlyphs">Brazil</text>
<circle cx="566.3" cy="1035" r="12" fill="#b5656b"/>
<text x="593.5" y="1044.4" font-size="24.5" fill="#333" stroke="#333" stroke-width="0.35" textLength="113.0" lengthAdjust="spacingAndGlyphs">Indonesia</text>
<circle cx="566.3" cy="1073" r="12" fill="#fb221b"/>
<text x="593.5" y="1082.4" font-size="24.5" fill="#333" stroke="#333" stroke-width="0.35" textLength="76.3" lengthAdjust="spacingAndGlyphs">Russia</text>
<circle cx="566.3" cy="1111" r="12" fill="#265c8d"/>
<text x="593.5" y="1120.4" font-size="24.5" fill="#333" stroke="#333" stroke-width="0.35" textLength="101.3" lengthAdjust="spacingAndGlyphs">Malaysia</text>
<circle cx="566.3" cy="1149" r="12" fill="#4667d7"/>
<text x="593.5" y="1158.4" font-size="24.5" fill="#333" stroke="#333" stroke-width="0.35" textLength="90.0" lengthAdjust="spacingAndGlyphs">Ukraine</text>
<circle cx="566.3" cy="1187" r="12" fill="#f9bdbd"/>
<text x="593.5" y="1196.4" font-size="24.5" fill="#333" stroke="#333" stroke-width="0.35" textLength="74.2" lengthAdjust="spacingAndGlyphs">Serbia</text>
<circle cx="884.7" cy="997" r="12" fill="#8ab977"/>
<text x="911.7" y="1006.4" font-size="24.5" fill="#333" stroke="#333" stroke-width="0.35" textLength="83.5" lengthAdjust="spacingAndGlyphs">Mexico</text>
<circle cx="884.7" cy="1035" r="12" fill="#a94046"/>
<text x="911.7" y="1044.4" font-size="24.5" fill="#333" stroke="#333" stroke-width="0.35" textLength="145.6" lengthAdjust="spacingAndGlyphs">South Africa</text>
<circle cx="884.7" cy="1073" r="12" fill="#f2853d"/>
<text x="911.7" y="1082.4" font-size="24.5" fill="#333" stroke="#333" stroke-width="0.35" textLength="110.9" lengthAdjust="spacingAndGlyphs">Colombia</text>
<circle cx="884.7" cy="1111" r="12" fill="#4a5a7c"/>
<text x="911.7" y="1120.4" font-size="24.5" fill="#333" stroke="#333" stroke-width="0.35" textLength="67.7" lengthAdjust="spacingAndGlyphs">Egypt</text>
<circle cx="884.7" cy="1149" r="12" fill="#51ede9"/>
<text x="911.7" y="1158.4" font-size="24.5" fill="#333" stroke="#333" stroke-width="0.35" textLength="70.2" lengthAdjust="spacingAndGlyphs">Kenya</text>
<circle cx="884.7" cy="1187" r="12" fill="#e6c3fb"/>
<text x="911.7" y="1196.4" font-size="24.5" fill="#333" stroke="#333" stroke-width="0.35" textLength="83.1" lengthAdjust="spacingAndGlyphs">Nigeria</text>
<circle cx="1203.2" cy="997" r="12" fill="#666"/>
<text x="1230.2" y="1006.4" font-size="24.5" fill="#666" stroke="#666" stroke-width="0.35" text-decoration="line-through" textLength="56.1" lengthAdjust="spacingAndGlyphs">India</text>
<circle cx="1203.2" cy="1035" r="12" fill="#0f7f80"/>
<text x="1230.2" y="1044.4" font-size="24.5" fill="#333" stroke="#333" stroke-width="0.35" textLength="100.4" lengthAdjust="spacingAndGlyphs">Thailand</text>
<circle cx="1203.2" cy="1073" r="12" fill="#8e27b1"/>
<text x="1230.2" y="1082.4" font-size="24.5" fill="#333" stroke="#333" stroke-width="0.35" textLength="184.3" lengthAdjust="spacingAndGlyphs">Czech Republic</text>
<circle cx="1203.2" cy="1111" r="12" fill="#e51d4c"/>
<text x="1230.2" y="1120.4" font-size="24.5" fill="#333" stroke="#333" stroke-width="0.35" textLength="100.8" lengthAdjust="spacingAndGlyphs">Romania</text>
<circle cx="1203.2" cy="1149" r="12" fill="#f13ddf"/>
<text x="1230.2" y="1158.4" font-size="24.5" fill="#333" stroke="#333" stroke-width="0.35" textLength="235.1" lengthAdjust="spacingAndGlyphs">Dominican Republic</text>
<text x="1355.8" y="1237.2" font-size="18.5" fill="#999" textLength="146.5" lengthAdjust="spacingAndGlyphs">exantedata.com</text>
<text x="1511.8" y="1236.5" font-size="18.5" fill="#999" text-anchor="middle">|</text>
<text x="1521" y="1237.2" font-size="18.5" font-weight="bold" fill="#4795c9" textLength="44" lengthAdjust="spacingAndGlyphs">Flow</text>
<text x="1565" y="1237.2" font-size="18.5" font-weight="bold" fill="#666" textLength="34.5" lengthAdjust="spacingAndGlyphs">Pro</text>
</svg>
</body></html>
